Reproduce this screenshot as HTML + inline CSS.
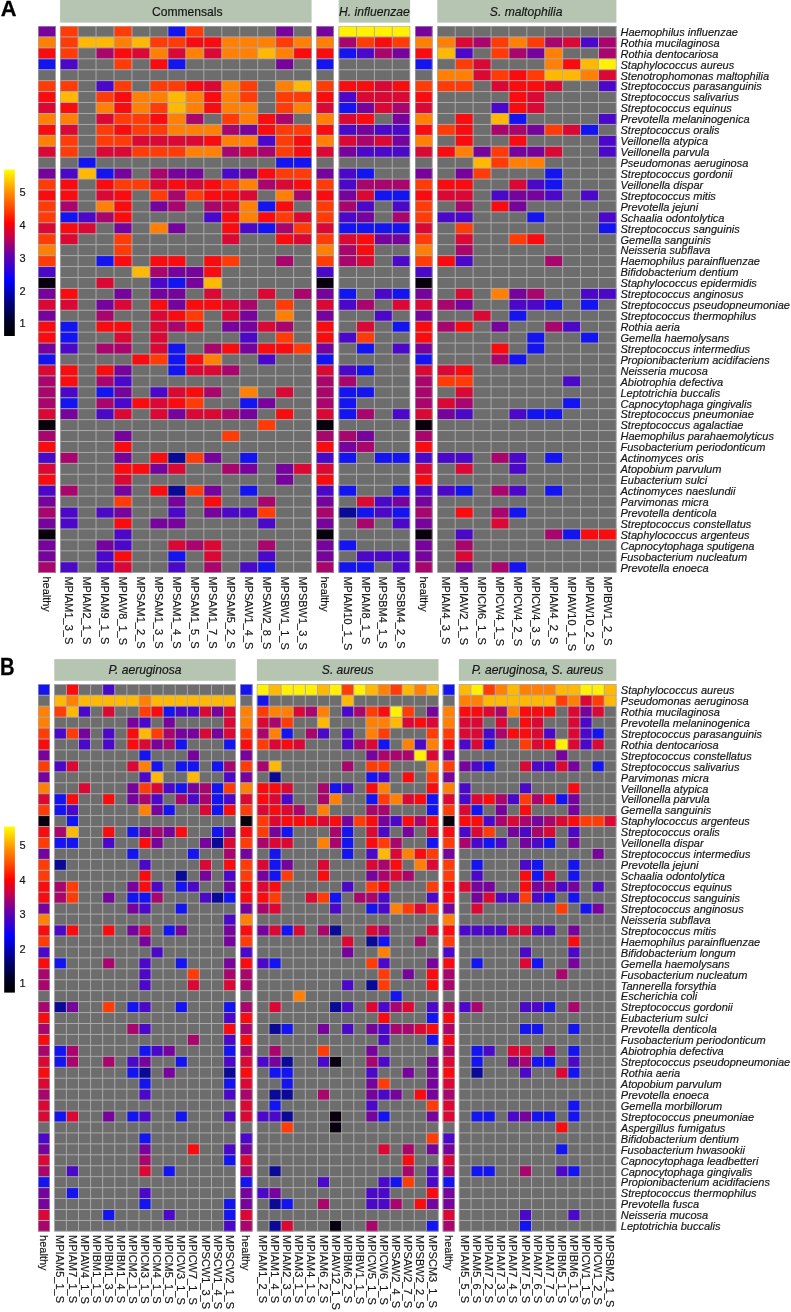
<!DOCTYPE html>
<html><head><meta charset="utf-8"><style>
html,body{margin:0;padding:0;background:#fff;}
svg{display:block;filter:blur(0.3px);}
text{font-family:"Liberation Sans",sans-serif;fill:#161616;stroke:#161616;stroke-width:0.18px;}
.rl{font-size:11px;font-style:italic;}
.cl{font-size:11px;}
.hd{font-size:12.1px;}
.it{font-style:italic;}
.cb{font-size:11px;}
.pl{font-size:22.5px;font-weight:bold;fill:#000;stroke:#000;stroke-width:0.3px;}
.K{fill:#08000c}.N{fill:#0a0a96}.B{fill:#1414f0}.V{fill:#4c08c8}.P{fill:#76049c}.M{fill:#a8066c}.C{fill:#da0834}.R{fill:#f80c10}.E{fill:#ff3c08}.O{fill:#ff8004}.A{fill:#ffb804}.Y{fill:#fff004}
.gl{stroke:#b0b0b0;stroke-width:0.9;}
.gb{fill:none;stroke:#b0b0b0;stroke-width:0.6;}
</style></head><body>
<svg width="791" height="1312" viewBox="0 0 791 1312">
<defs><linearGradient id="cb" x1="0" y1="1" x2="0" y2="0">
<stop offset="0" stop-color="#000000"/>
<stop offset="0.08" stop-color="#000020"/>
<stop offset="0.22" stop-color="#000090"/>
<stop offset="0.335" stop-color="#0000ff"/>
<stop offset="0.50" stop-color="#7000a0"/>
<stop offset="0.59" stop-color="#c00050"/>
<stop offset="0.68" stop-color="#ff0000"/>
<stop offset="0.78" stop-color="#ff5000"/>
<stop offset="0.865" stop-color="#ff9000"/>
<stop offset="1" stop-color="#ffff00"/>
</linearGradient></defs>
<rect x="38.00" y="26.00" width="17.70" height="546.70" fill="#6d6d6d"/>
<rect x="38.0" y="26.0" width="17.7" height="10.9" class="P"/>
<rect x="38.0" y="36.9" width="17.7" height="10.9" class="O"/>
<rect x="38.0" y="47.9" width="17.7" height="10.9" class="R"/>
<rect x="38.0" y="58.8" width="17.7" height="10.9" class="B"/>
<rect x="38.0" y="80.7" width="17.7" height="10.9" class="E"/>
<rect x="38.0" y="91.6" width="17.7" height="10.9" class="R"/>
<rect x="38.0" y="102.5" width="17.7" height="10.9" class="C"/>
<rect x="38.0" y="113.5" width="17.7" height="10.9" class="O"/>
<rect x="38.0" y="124.4" width="17.7" height="10.9" class="R"/>
<rect x="38.0" y="135.3" width="17.7" height="10.9" class="O"/>
<rect x="38.0" y="146.3" width="17.7" height="10.9" class="C"/>
<rect x="38.0" y="168.1" width="17.7" height="10.9" class="P"/>
<rect x="38.0" y="179.1" width="17.7" height="10.9" class="E"/>
<rect x="38.0" y="190.0" width="17.7" height="10.9" class="R"/>
<rect x="38.0" y="200.9" width="17.7" height="10.9" class="E"/>
<rect x="38.0" y="211.9" width="17.7" height="10.9" class="E"/>
<rect x="38.0" y="222.8" width="17.7" height="10.9" class="C"/>
<rect x="38.0" y="233.7" width="17.7" height="10.9" class="E"/>
<rect x="38.0" y="244.7" width="17.7" height="10.9" class="O"/>
<rect x="38.0" y="255.6" width="17.7" height="10.9" class="E"/>
<rect x="38.0" y="266.5" width="17.7" height="10.9" class="V"/>
<rect x="38.0" y="277.5" width="17.7" height="10.9" class="K"/>
<rect x="38.0" y="288.4" width="17.7" height="10.9" class="P"/>
<rect x="38.0" y="299.4" width="17.7" height="10.9" class="C"/>
<rect x="38.0" y="310.3" width="17.7" height="10.9" class="P"/>
<rect x="38.0" y="321.2" width="17.7" height="10.9" class="R"/>
<rect x="38.0" y="332.2" width="17.7" height="10.9" class="R"/>
<rect x="38.0" y="343.1" width="17.7" height="10.9" class="P"/>
<rect x="38.0" y="354.0" width="17.7" height="10.9" class="B"/>
<rect x="38.0" y="365.0" width="17.7" height="10.9" class="C"/>
<rect x="38.0" y="375.9" width="17.7" height="10.9" class="M"/>
<rect x="38.0" y="386.8" width="17.7" height="10.9" class="M"/>
<rect x="38.0" y="397.8" width="17.7" height="10.9" class="M"/>
<rect x="38.0" y="408.7" width="17.7" height="10.9" class="C"/>
<rect x="38.0" y="419.6" width="17.7" height="10.9" class="K"/>
<rect x="38.0" y="430.6" width="17.7" height="10.9" class="M"/>
<rect x="38.0" y="441.5" width="17.7" height="10.9" class="R"/>
<rect x="38.0" y="452.4" width="17.7" height="10.9" class="V"/>
<rect x="38.0" y="463.4" width="17.7" height="10.9" class="C"/>
<rect x="38.0" y="474.3" width="17.7" height="10.9" class="R"/>
<rect x="38.0" y="485.2" width="17.7" height="10.9" class="V"/>
<rect x="38.0" y="496.2" width="17.7" height="10.9" class="P"/>
<rect x="38.0" y="507.1" width="17.7" height="10.9" class="M"/>
<rect x="38.0" y="518.0" width="17.7" height="10.9" class="P"/>
<rect x="38.0" y="529.0" width="17.7" height="10.9" class="K"/>
<rect x="38.0" y="539.9" width="17.7" height="10.9" class="P"/>
<rect x="38.0" y="550.8" width="17.7" height="10.9" class="P"/>
<rect x="38.0" y="561.8" width="17.7" height="10.9" class="M"/>
<line x1="38.00" y1="36.93" x2="55.70" y2="36.93" class="gl"/>
<line x1="38.00" y1="47.87" x2="55.70" y2="47.87" class="gl"/>
<line x1="38.00" y1="58.80" x2="55.70" y2="58.80" class="gl"/>
<line x1="38.00" y1="69.74" x2="55.70" y2="69.74" class="gl"/>
<line x1="38.00" y1="80.67" x2="55.70" y2="80.67" class="gl"/>
<line x1="38.00" y1="91.60" x2="55.70" y2="91.60" class="gl"/>
<line x1="38.00" y1="102.54" x2="55.70" y2="102.54" class="gl"/>
<line x1="38.00" y1="113.47" x2="55.70" y2="113.47" class="gl"/>
<line x1="38.00" y1="124.41" x2="55.70" y2="124.41" class="gl"/>
<line x1="38.00" y1="135.34" x2="55.70" y2="135.34" class="gl"/>
<line x1="38.00" y1="146.27" x2="55.70" y2="146.27" class="gl"/>
<line x1="38.00" y1="157.21" x2="55.70" y2="157.21" class="gl"/>
<line x1="38.00" y1="168.14" x2="55.70" y2="168.14" class="gl"/>
<line x1="38.00" y1="179.08" x2="55.70" y2="179.08" class="gl"/>
<line x1="38.00" y1="190.01" x2="55.70" y2="190.01" class="gl"/>
<line x1="38.00" y1="200.94" x2="55.70" y2="200.94" class="gl"/>
<line x1="38.00" y1="211.88" x2="55.70" y2="211.88" class="gl"/>
<line x1="38.00" y1="222.81" x2="55.70" y2="222.81" class="gl"/>
<line x1="38.00" y1="233.75" x2="55.70" y2="233.75" class="gl"/>
<line x1="38.00" y1="244.68" x2="55.70" y2="244.68" class="gl"/>
<line x1="38.00" y1="255.61" x2="55.70" y2="255.61" class="gl"/>
<line x1="38.00" y1="266.55" x2="55.70" y2="266.55" class="gl"/>
<line x1="38.00" y1="277.48" x2="55.70" y2="277.48" class="gl"/>
<line x1="38.00" y1="288.42" x2="55.70" y2="288.42" class="gl"/>
<line x1="38.00" y1="299.35" x2="55.70" y2="299.35" class="gl"/>
<line x1="38.00" y1="310.28" x2="55.70" y2="310.28" class="gl"/>
<line x1="38.00" y1="321.22" x2="55.70" y2="321.22" class="gl"/>
<line x1="38.00" y1="332.15" x2="55.70" y2="332.15" class="gl"/>
<line x1="38.00" y1="343.09" x2="55.70" y2="343.09" class="gl"/>
<line x1="38.00" y1="354.02" x2="55.70" y2="354.02" class="gl"/>
<line x1="38.00" y1="364.95" x2="55.70" y2="364.95" class="gl"/>
<line x1="38.00" y1="375.89" x2="55.70" y2="375.89" class="gl"/>
<line x1="38.00" y1="386.82" x2="55.70" y2="386.82" class="gl"/>
<line x1="38.00" y1="397.76" x2="55.70" y2="397.76" class="gl"/>
<line x1="38.00" y1="408.69" x2="55.70" y2="408.69" class="gl"/>
<line x1="38.00" y1="419.62" x2="55.70" y2="419.62" class="gl"/>
<line x1="38.00" y1="430.56" x2="55.70" y2="430.56" class="gl"/>
<line x1="38.00" y1="441.49" x2="55.70" y2="441.49" class="gl"/>
<line x1="38.00" y1="452.43" x2="55.70" y2="452.43" class="gl"/>
<line x1="38.00" y1="463.36" x2="55.70" y2="463.36" class="gl"/>
<line x1="38.00" y1="474.29" x2="55.70" y2="474.29" class="gl"/>
<line x1="38.00" y1="485.23" x2="55.70" y2="485.23" class="gl"/>
<line x1="38.00" y1="496.16" x2="55.70" y2="496.16" class="gl"/>
<line x1="38.00" y1="507.10" x2="55.70" y2="507.10" class="gl"/>
<line x1="38.00" y1="518.03" x2="55.70" y2="518.03" class="gl"/>
<line x1="38.00" y1="528.96" x2="55.70" y2="528.96" class="gl"/>
<line x1="38.00" y1="539.90" x2="55.70" y2="539.90" class="gl"/>
<line x1="38.00" y1="550.83" x2="55.70" y2="550.83" class="gl"/>
<line x1="38.00" y1="561.77" x2="55.70" y2="561.77" class="gl"/>
<rect x="38.30" y="26.30" width="17.10" height="546.10" class="gb"/>
<text class="cl" transform="translate(42.95,576.40) rotate(90)">healthy</text>
<rect x="60.10" y="26.00" width="251.50" height="546.70" fill="#6d6d6d"/>
<rect x="60.1" y="26.0" width="18.0" height="10.9" class="E"/>
<rect x="114.0" y="26.0" width="18.0" height="10.9" class="E"/>
<rect x="167.9" y="26.0" width="18.0" height="10.9" class="B"/>
<rect x="185.8" y="26.0" width="18.0" height="10.9" class="E"/>
<rect x="275.7" y="26.0" width="18.0" height="10.9" class="P"/>
<rect x="60.1" y="36.9" width="18.0" height="10.9" class="E"/>
<rect x="78.1" y="36.9" width="18.0" height="10.9" class="A"/>
<rect x="96.0" y="36.9" width="18.0" height="10.9" class="A"/>
<rect x="114.0" y="36.9" width="18.0" height="10.9" class="O"/>
<rect x="132.0" y="36.9" width="18.0" height="10.9" class="A"/>
<rect x="149.9" y="36.9" width="18.0" height="10.9" class="E"/>
<rect x="167.9" y="36.9" width="18.0" height="10.9" class="E"/>
<rect x="185.8" y="36.9" width="18.0" height="10.9" class="R"/>
<rect x="203.8" y="36.9" width="18.0" height="10.9" class="R"/>
<rect x="221.8" y="36.9" width="18.0" height="10.9" class="O"/>
<rect x="239.7" y="36.9" width="18.0" height="10.9" class="O"/>
<rect x="257.7" y="36.9" width="18.0" height="10.9" class="O"/>
<rect x="275.7" y="36.9" width="18.0" height="10.9" class="E"/>
<rect x="293.6" y="36.9" width="18.0" height="10.9" class="O"/>
<rect x="60.1" y="47.9" width="18.0" height="10.9" class="E"/>
<rect x="96.0" y="47.9" width="18.0" height="10.9" class="M"/>
<rect x="114.0" y="47.9" width="18.0" height="10.9" class="R"/>
<rect x="132.0" y="47.9" width="18.0" height="10.9" class="C"/>
<rect x="149.9" y="47.9" width="18.0" height="10.9" class="O"/>
<rect x="167.9" y="47.9" width="18.0" height="10.9" class="C"/>
<rect x="185.8" y="47.9" width="18.0" height="10.9" class="O"/>
<rect x="203.8" y="47.9" width="18.0" height="10.9" class="C"/>
<rect x="221.8" y="47.9" width="18.0" height="10.9" class="O"/>
<rect x="239.7" y="47.9" width="18.0" height="10.9" class="O"/>
<rect x="257.7" y="47.9" width="18.0" height="10.9" class="A"/>
<rect x="275.7" y="47.9" width="18.0" height="10.9" class="O"/>
<rect x="293.6" y="47.9" width="18.0" height="10.9" class="R"/>
<rect x="60.1" y="58.8" width="18.0" height="10.9" class="V"/>
<rect x="114.0" y="58.8" width="18.0" height="10.9" class="E"/>
<rect x="149.9" y="58.8" width="18.0" height="10.9" class="R"/>
<rect x="167.9" y="58.8" width="18.0" height="10.9" class="B"/>
<rect x="275.7" y="58.8" width="18.0" height="10.9" class="P"/>
<rect x="60.1" y="80.7" width="18.0" height="10.9" class="E"/>
<rect x="96.0" y="80.7" width="18.0" height="10.9" class="V"/>
<rect x="114.0" y="80.7" width="18.0" height="10.9" class="E"/>
<rect x="149.9" y="80.7" width="18.0" height="10.9" class="E"/>
<rect x="167.9" y="80.7" width="18.0" height="10.9" class="E"/>
<rect x="185.8" y="80.7" width="18.0" height="10.9" class="R"/>
<rect x="203.8" y="80.7" width="18.0" height="10.9" class="C"/>
<rect x="221.8" y="80.7" width="18.0" height="10.9" class="O"/>
<rect x="239.7" y="80.7" width="18.0" height="10.9" class="E"/>
<rect x="275.7" y="80.7" width="18.0" height="10.9" class="O"/>
<rect x="293.6" y="80.7" width="18.0" height="10.9" class="A"/>
<rect x="60.1" y="91.6" width="18.0" height="10.9" class="A"/>
<rect x="96.0" y="91.6" width="18.0" height="10.9" class="E"/>
<rect x="114.0" y="91.6" width="18.0" height="10.9" class="R"/>
<rect x="132.0" y="91.6" width="18.0" height="10.9" class="O"/>
<rect x="149.9" y="91.6" width="18.0" height="10.9" class="O"/>
<rect x="167.9" y="91.6" width="18.0" height="10.9" class="A"/>
<rect x="185.8" y="91.6" width="18.0" height="10.9" class="O"/>
<rect x="203.8" y="91.6" width="18.0" height="10.9" class="R"/>
<rect x="221.8" y="91.6" width="18.0" height="10.9" class="O"/>
<rect x="239.7" y="91.6" width="18.0" height="10.9" class="E"/>
<rect x="275.7" y="91.6" width="18.0" height="10.9" class="E"/>
<rect x="293.6" y="91.6" width="18.0" height="10.9" class="E"/>
<rect x="60.1" y="102.5" width="18.0" height="10.9" class="R"/>
<rect x="96.0" y="102.5" width="18.0" height="10.9" class="O"/>
<rect x="114.0" y="102.5" width="18.0" height="10.9" class="R"/>
<rect x="132.0" y="102.5" width="18.0" height="10.9" class="O"/>
<rect x="149.9" y="102.5" width="18.0" height="10.9" class="E"/>
<rect x="167.9" y="102.5" width="18.0" height="10.9" class="A"/>
<rect x="185.8" y="102.5" width="18.0" height="10.9" class="O"/>
<rect x="203.8" y="102.5" width="18.0" height="10.9" class="R"/>
<rect x="221.8" y="102.5" width="18.0" height="10.9" class="O"/>
<rect x="239.7" y="102.5" width="18.0" height="10.9" class="O"/>
<rect x="275.7" y="102.5" width="18.0" height="10.9" class="E"/>
<rect x="293.6" y="102.5" width="18.0" height="10.9" class="O"/>
<rect x="60.1" y="113.5" width="18.0" height="10.9" class="O"/>
<rect x="96.0" y="113.5" width="18.0" height="10.9" class="C"/>
<rect x="114.0" y="113.5" width="18.0" height="10.9" class="E"/>
<rect x="132.0" y="113.5" width="18.0" height="10.9" class="E"/>
<rect x="149.9" y="113.5" width="18.0" height="10.9" class="R"/>
<rect x="167.9" y="113.5" width="18.0" height="10.9" class="O"/>
<rect x="185.8" y="113.5" width="18.0" height="10.9" class="M"/>
<rect x="221.8" y="113.5" width="18.0" height="10.9" class="E"/>
<rect x="239.7" y="113.5" width="18.0" height="10.9" class="O"/>
<rect x="257.7" y="113.5" width="18.0" height="10.9" class="R"/>
<rect x="275.7" y="113.5" width="18.0" height="10.9" class="M"/>
<rect x="60.1" y="124.4" width="18.0" height="10.9" class="C"/>
<rect x="96.0" y="124.4" width="18.0" height="10.9" class="E"/>
<rect x="114.0" y="124.4" width="18.0" height="10.9" class="R"/>
<rect x="132.0" y="124.4" width="18.0" height="10.9" class="E"/>
<rect x="149.9" y="124.4" width="18.0" height="10.9" class="E"/>
<rect x="167.9" y="124.4" width="18.0" height="10.9" class="O"/>
<rect x="185.8" y="124.4" width="18.0" height="10.9" class="O"/>
<rect x="203.8" y="124.4" width="18.0" height="10.9" class="O"/>
<rect x="221.8" y="124.4" width="18.0" height="10.9" class="M"/>
<rect x="239.7" y="124.4" width="18.0" height="10.9" class="P"/>
<rect x="257.7" y="124.4" width="18.0" height="10.9" class="R"/>
<rect x="275.7" y="124.4" width="18.0" height="10.9" class="E"/>
<rect x="293.6" y="124.4" width="18.0" height="10.9" class="E"/>
<rect x="60.1" y="135.3" width="18.0" height="10.9" class="E"/>
<rect x="96.0" y="135.3" width="18.0" height="10.9" class="E"/>
<rect x="114.0" y="135.3" width="18.0" height="10.9" class="E"/>
<rect x="132.0" y="135.3" width="18.0" height="10.9" class="C"/>
<rect x="149.9" y="135.3" width="18.0" height="10.9" class="C"/>
<rect x="167.9" y="135.3" width="18.0" height="10.9" class="C"/>
<rect x="185.8" y="135.3" width="18.0" height="10.9" class="C"/>
<rect x="203.8" y="135.3" width="18.0" height="10.9" class="R"/>
<rect x="221.8" y="135.3" width="18.0" height="10.9" class="O"/>
<rect x="239.7" y="135.3" width="18.0" height="10.9" class="O"/>
<rect x="257.7" y="135.3" width="18.0" height="10.9" class="V"/>
<rect x="275.7" y="135.3" width="18.0" height="10.9" class="E"/>
<rect x="293.6" y="135.3" width="18.0" height="10.9" class="R"/>
<rect x="60.1" y="146.3" width="18.0" height="10.9" class="E"/>
<rect x="96.0" y="146.3" width="18.0" height="10.9" class="C"/>
<rect x="114.0" y="146.3" width="18.0" height="10.9" class="C"/>
<rect x="132.0" y="146.3" width="18.0" height="10.9" class="E"/>
<rect x="149.9" y="146.3" width="18.0" height="10.9" class="E"/>
<rect x="167.9" y="146.3" width="18.0" height="10.9" class="E"/>
<rect x="185.8" y="146.3" width="18.0" height="10.9" class="O"/>
<rect x="203.8" y="146.3" width="18.0" height="10.9" class="O"/>
<rect x="221.8" y="146.3" width="18.0" height="10.9" class="M"/>
<rect x="239.7" y="146.3" width="18.0" height="10.9" class="C"/>
<rect x="257.7" y="146.3" width="18.0" height="10.9" class="M"/>
<rect x="275.7" y="146.3" width="18.0" height="10.9" class="E"/>
<rect x="293.6" y="146.3" width="18.0" height="10.9" class="R"/>
<rect x="78.1" y="157.2" width="18.0" height="10.9" class="B"/>
<rect x="275.7" y="157.2" width="18.0" height="10.9" class="B"/>
<rect x="293.6" y="157.2" width="18.0" height="10.9" class="B"/>
<rect x="60.1" y="168.1" width="18.0" height="10.9" class="V"/>
<rect x="78.1" y="168.1" width="18.0" height="10.9" class="A"/>
<rect x="96.0" y="168.1" width="18.0" height="10.9" class="B"/>
<rect x="114.0" y="168.1" width="18.0" height="10.9" class="P"/>
<rect x="149.9" y="168.1" width="18.0" height="10.9" class="M"/>
<rect x="167.9" y="168.1" width="18.0" height="10.9" class="P"/>
<rect x="185.8" y="168.1" width="18.0" height="10.9" class="P"/>
<rect x="221.8" y="168.1" width="18.0" height="10.9" class="V"/>
<rect x="239.7" y="168.1" width="18.0" height="10.9" class="P"/>
<rect x="257.7" y="168.1" width="18.0" height="10.9" class="R"/>
<rect x="275.7" y="168.1" width="18.0" height="10.9" class="E"/>
<rect x="293.6" y="168.1" width="18.0" height="10.9" class="E"/>
<rect x="60.1" y="179.1" width="18.0" height="10.9" class="R"/>
<rect x="96.0" y="179.1" width="18.0" height="10.9" class="R"/>
<rect x="114.0" y="179.1" width="18.0" height="10.9" class="E"/>
<rect x="132.0" y="179.1" width="18.0" height="10.9" class="E"/>
<rect x="149.9" y="179.1" width="18.0" height="10.9" class="C"/>
<rect x="167.9" y="179.1" width="18.0" height="10.9" class="R"/>
<rect x="185.8" y="179.1" width="18.0" height="10.9" class="C"/>
<rect x="203.8" y="179.1" width="18.0" height="10.9" class="R"/>
<rect x="221.8" y="179.1" width="18.0" height="10.9" class="E"/>
<rect x="239.7" y="179.1" width="18.0" height="10.9" class="O"/>
<rect x="257.7" y="179.1" width="18.0" height="10.9" class="M"/>
<rect x="275.7" y="179.1" width="18.0" height="10.9" class="C"/>
<rect x="293.6" y="179.1" width="18.0" height="10.9" class="R"/>
<rect x="60.1" y="190.0" width="18.0" height="10.9" class="R"/>
<rect x="96.0" y="190.0" width="18.0" height="10.9" class="C"/>
<rect x="114.0" y="190.0" width="18.0" height="10.9" class="R"/>
<rect x="149.9" y="190.0" width="18.0" height="10.9" class="E"/>
<rect x="167.9" y="190.0" width="18.0" height="10.9" class="M"/>
<rect x="185.8" y="190.0" width="18.0" height="10.9" class="E"/>
<rect x="203.8" y="190.0" width="18.0" height="10.9" class="R"/>
<rect x="221.8" y="190.0" width="18.0" height="10.9" class="R"/>
<rect x="239.7" y="190.0" width="18.0" height="10.9" class="C"/>
<rect x="275.7" y="190.0" width="18.0" height="10.9" class="O"/>
<rect x="293.6" y="190.0" width="18.0" height="10.9" class="M"/>
<rect x="60.1" y="200.9" width="18.0" height="10.9" class="M"/>
<rect x="96.0" y="200.9" width="18.0" height="10.9" class="O"/>
<rect x="114.0" y="200.9" width="18.0" height="10.9" class="R"/>
<rect x="149.9" y="200.9" width="18.0" height="10.9" class="P"/>
<rect x="167.9" y="200.9" width="18.0" height="10.9" class="M"/>
<rect x="203.8" y="200.9" width="18.0" height="10.9" class="M"/>
<rect x="221.8" y="200.9" width="18.0" height="10.9" class="C"/>
<rect x="239.7" y="200.9" width="18.0" height="10.9" class="O"/>
<rect x="257.7" y="200.9" width="18.0" height="10.9" class="B"/>
<rect x="275.7" y="200.9" width="18.0" height="10.9" class="R"/>
<rect x="60.1" y="211.9" width="18.0" height="10.9" class="B"/>
<rect x="78.1" y="211.9" width="18.0" height="10.9" class="V"/>
<rect x="96.0" y="211.9" width="18.0" height="10.9" class="M"/>
<rect x="114.0" y="211.9" width="18.0" height="10.9" class="R"/>
<rect x="203.8" y="211.9" width="18.0" height="10.9" class="V"/>
<rect x="221.8" y="211.9" width="18.0" height="10.9" class="R"/>
<rect x="239.7" y="211.9" width="18.0" height="10.9" class="O"/>
<rect x="257.7" y="211.9" width="18.0" height="10.9" class="R"/>
<rect x="275.7" y="211.9" width="18.0" height="10.9" class="E"/>
<rect x="293.6" y="211.9" width="18.0" height="10.9" class="C"/>
<rect x="60.1" y="222.8" width="18.0" height="10.9" class="R"/>
<rect x="78.1" y="222.8" width="18.0" height="10.9" class="C"/>
<rect x="114.0" y="222.8" width="18.0" height="10.9" class="P"/>
<rect x="149.9" y="222.8" width="18.0" height="10.9" class="O"/>
<rect x="167.9" y="222.8" width="18.0" height="10.9" class="P"/>
<rect x="221.8" y="222.8" width="18.0" height="10.9" class="R"/>
<rect x="239.7" y="222.8" width="18.0" height="10.9" class="V"/>
<rect x="257.7" y="222.8" width="18.0" height="10.9" class="B"/>
<rect x="275.7" y="222.8" width="18.0" height="10.9" class="M"/>
<rect x="293.6" y="222.8" width="18.0" height="10.9" class="E"/>
<rect x="60.1" y="233.7" width="18.0" height="10.9" class="C"/>
<rect x="114.0" y="233.7" width="18.0" height="10.9" class="E"/>
<rect x="221.8" y="233.7" width="18.0" height="10.9" class="C"/>
<rect x="275.7" y="233.7" width="18.0" height="10.9" class="R"/>
<rect x="293.6" y="233.7" width="18.0" height="10.9" class="C"/>
<rect x="114.0" y="244.7" width="18.0" height="10.9" class="E"/>
<rect x="96.0" y="255.6" width="18.0" height="10.9" class="B"/>
<rect x="114.0" y="255.6" width="18.0" height="10.9" class="R"/>
<rect x="149.9" y="255.6" width="18.0" height="10.9" class="R"/>
<rect x="167.9" y="255.6" width="18.0" height="10.9" class="R"/>
<rect x="203.8" y="255.6" width="18.0" height="10.9" class="R"/>
<rect x="221.8" y="255.6" width="18.0" height="10.9" class="E"/>
<rect x="275.7" y="255.6" width="18.0" height="10.9" class="M"/>
<rect x="132.0" y="266.5" width="18.0" height="10.9" class="A"/>
<rect x="149.9" y="266.5" width="18.0" height="10.9" class="M"/>
<rect x="167.9" y="266.5" width="18.0" height="10.9" class="P"/>
<rect x="185.8" y="266.5" width="18.0" height="10.9" class="P"/>
<rect x="203.8" y="266.5" width="18.0" height="10.9" class="R"/>
<rect x="96.0" y="277.5" width="18.0" height="10.9" class="C"/>
<rect x="149.9" y="277.5" width="18.0" height="10.9" class="V"/>
<rect x="167.9" y="277.5" width="18.0" height="10.9" class="B"/>
<rect x="185.8" y="277.5" width="18.0" height="10.9" class="P"/>
<rect x="203.8" y="277.5" width="18.0" height="10.9" class="A"/>
<rect x="60.1" y="288.4" width="18.0" height="10.9" class="R"/>
<rect x="114.0" y="288.4" width="18.0" height="10.9" class="P"/>
<rect x="149.9" y="288.4" width="18.0" height="10.9" class="P"/>
<rect x="167.9" y="288.4" width="18.0" height="10.9" class="P"/>
<rect x="203.8" y="288.4" width="18.0" height="10.9" class="C"/>
<rect x="257.7" y="288.4" width="18.0" height="10.9" class="C"/>
<rect x="293.6" y="288.4" width="18.0" height="10.9" class="M"/>
<rect x="60.1" y="299.4" width="18.0" height="10.9" class="C"/>
<rect x="96.0" y="299.4" width="18.0" height="10.9" class="P"/>
<rect x="114.0" y="299.4" width="18.0" height="10.9" class="C"/>
<rect x="149.9" y="299.4" width="18.0" height="10.9" class="R"/>
<rect x="167.9" y="299.4" width="18.0" height="10.9" class="P"/>
<rect x="185.8" y="299.4" width="18.0" height="10.9" class="R"/>
<rect x="203.8" y="299.4" width="18.0" height="10.9" class="R"/>
<rect x="221.8" y="299.4" width="18.0" height="10.9" class="C"/>
<rect x="239.7" y="299.4" width="18.0" height="10.9" class="M"/>
<rect x="275.7" y="299.4" width="18.0" height="10.9" class="E"/>
<rect x="96.0" y="310.3" width="18.0" height="10.9" class="M"/>
<rect x="149.9" y="310.3" width="18.0" height="10.9" class="C"/>
<rect x="167.9" y="310.3" width="18.0" height="10.9" class="R"/>
<rect x="185.8" y="310.3" width="18.0" height="10.9" class="E"/>
<rect x="221.8" y="310.3" width="18.0" height="10.9" class="C"/>
<rect x="239.7" y="310.3" width="18.0" height="10.9" class="P"/>
<rect x="275.7" y="310.3" width="18.0" height="10.9" class="O"/>
<rect x="60.1" y="321.2" width="18.0" height="10.9" class="B"/>
<rect x="96.0" y="321.2" width="18.0" height="10.9" class="R"/>
<rect x="114.0" y="321.2" width="18.0" height="10.9" class="R"/>
<rect x="149.9" y="321.2" width="18.0" height="10.9" class="C"/>
<rect x="167.9" y="321.2" width="18.0" height="10.9" class="M"/>
<rect x="185.8" y="321.2" width="18.0" height="10.9" class="R"/>
<rect x="221.8" y="321.2" width="18.0" height="10.9" class="P"/>
<rect x="239.7" y="321.2" width="18.0" height="10.9" class="P"/>
<rect x="257.7" y="321.2" width="18.0" height="10.9" class="C"/>
<rect x="275.7" y="321.2" width="18.0" height="10.9" class="M"/>
<rect x="60.1" y="332.2" width="18.0" height="10.9" class="B"/>
<rect x="114.0" y="332.2" width="18.0" height="10.9" class="C"/>
<rect x="149.9" y="332.2" width="18.0" height="10.9" class="C"/>
<rect x="239.7" y="332.2" width="18.0" height="10.9" class="V"/>
<rect x="275.7" y="332.2" width="18.0" height="10.9" class="E"/>
<rect x="60.1" y="343.1" width="18.0" height="10.9" class="V"/>
<rect x="96.0" y="343.1" width="18.0" height="10.9" class="M"/>
<rect x="114.0" y="343.1" width="18.0" height="10.9" class="M"/>
<rect x="149.9" y="343.1" width="18.0" height="10.9" class="C"/>
<rect x="167.9" y="343.1" width="18.0" height="10.9" class="B"/>
<rect x="203.8" y="343.1" width="18.0" height="10.9" class="M"/>
<rect x="221.8" y="343.1" width="18.0" height="10.9" class="R"/>
<rect x="239.7" y="343.1" width="18.0" height="10.9" class="P"/>
<rect x="257.7" y="343.1" width="18.0" height="10.9" class="R"/>
<rect x="275.7" y="343.1" width="18.0" height="10.9" class="R"/>
<rect x="293.6" y="343.1" width="18.0" height="10.9" class="E"/>
<rect x="132.0" y="354.0" width="18.0" height="10.9" class="R"/>
<rect x="149.9" y="354.0" width="18.0" height="10.9" class="E"/>
<rect x="167.9" y="354.0" width="18.0" height="10.9" class="B"/>
<rect x="185.8" y="354.0" width="18.0" height="10.9" class="R"/>
<rect x="203.8" y="354.0" width="18.0" height="10.9" class="O"/>
<rect x="257.7" y="354.0" width="18.0" height="10.9" class="V"/>
<rect x="60.1" y="365.0" width="18.0" height="10.9" class="R"/>
<rect x="96.0" y="365.0" width="18.0" height="10.9" class="R"/>
<rect x="114.0" y="365.0" width="18.0" height="10.9" class="P"/>
<rect x="167.9" y="365.0" width="18.0" height="10.9" class="B"/>
<rect x="185.8" y="365.0" width="18.0" height="10.9" class="C"/>
<rect x="203.8" y="365.0" width="18.0" height="10.9" class="C"/>
<rect x="221.8" y="365.0" width="18.0" height="10.9" class="M"/>
<rect x="60.1" y="375.9" width="18.0" height="10.9" class="R"/>
<rect x="96.0" y="375.9" width="18.0" height="10.9" class="M"/>
<rect x="114.0" y="375.9" width="18.0" height="10.9" class="V"/>
<rect x="60.1" y="386.8" width="18.0" height="10.9" class="V"/>
<rect x="96.0" y="386.8" width="18.0" height="10.9" class="B"/>
<rect x="114.0" y="386.8" width="18.0" height="10.9" class="P"/>
<rect x="149.9" y="386.8" width="18.0" height="10.9" class="V"/>
<rect x="167.9" y="386.8" width="18.0" height="10.9" class="C"/>
<rect x="185.8" y="386.8" width="18.0" height="10.9" class="R"/>
<rect x="203.8" y="386.8" width="18.0" height="10.9" class="M"/>
<rect x="239.7" y="386.8" width="18.0" height="10.9" class="O"/>
<rect x="275.7" y="386.8" width="18.0" height="10.9" class="C"/>
<rect x="60.1" y="397.8" width="18.0" height="10.9" class="B"/>
<rect x="96.0" y="397.8" width="18.0" height="10.9" class="M"/>
<rect x="114.0" y="397.8" width="18.0" height="10.9" class="V"/>
<rect x="132.0" y="397.8" width="18.0" height="10.9" class="R"/>
<rect x="149.9" y="397.8" width="18.0" height="10.9" class="C"/>
<rect x="167.9" y="397.8" width="18.0" height="10.9" class="R"/>
<rect x="185.8" y="397.8" width="18.0" height="10.9" class="E"/>
<rect x="239.7" y="397.8" width="18.0" height="10.9" class="B"/>
<rect x="257.7" y="397.8" width="18.0" height="10.9" class="P"/>
<rect x="60.1" y="408.7" width="18.0" height="10.9" class="P"/>
<rect x="96.0" y="408.7" width="18.0" height="10.9" class="V"/>
<rect x="114.0" y="408.7" width="18.0" height="10.9" class="C"/>
<rect x="149.9" y="408.7" width="18.0" height="10.9" class="C"/>
<rect x="167.9" y="408.7" width="18.0" height="10.9" class="P"/>
<rect x="185.8" y="408.7" width="18.0" height="10.9" class="C"/>
<rect x="203.8" y="408.7" width="18.0" height="10.9" class="C"/>
<rect x="221.8" y="408.7" width="18.0" height="10.9" class="M"/>
<rect x="239.7" y="408.7" width="18.0" height="10.9" class="P"/>
<rect x="275.7" y="408.7" width="18.0" height="10.9" class="R"/>
<rect x="257.7" y="419.6" width="18.0" height="10.9" class="E"/>
<rect x="114.0" y="430.6" width="18.0" height="10.9" class="P"/>
<rect x="221.8" y="430.6" width="18.0" height="10.9" class="E"/>
<rect x="114.0" y="441.5" width="18.0" height="10.9" class="R"/>
<rect x="60.1" y="452.4" width="18.0" height="10.9" class="M"/>
<rect x="114.0" y="452.4" width="18.0" height="10.9" class="P"/>
<rect x="149.9" y="452.4" width="18.0" height="10.9" class="R"/>
<rect x="167.9" y="452.4" width="18.0" height="10.9" class="N"/>
<rect x="185.8" y="452.4" width="18.0" height="10.9" class="E"/>
<rect x="203.8" y="452.4" width="18.0" height="10.9" class="P"/>
<rect x="239.7" y="452.4" width="18.0" height="10.9" class="B"/>
<rect x="114.0" y="463.4" width="18.0" height="10.9" class="R"/>
<rect x="132.0" y="463.4" width="18.0" height="10.9" class="R"/>
<rect x="149.9" y="463.4" width="18.0" height="10.9" class="P"/>
<rect x="167.9" y="463.4" width="18.0" height="10.9" class="C"/>
<rect x="221.8" y="463.4" width="18.0" height="10.9" class="M"/>
<rect x="239.7" y="463.4" width="18.0" height="10.9" class="P"/>
<rect x="275.7" y="463.4" width="18.0" height="10.9" class="P"/>
<rect x="293.6" y="463.4" width="18.0" height="10.9" class="C"/>
<rect x="114.0" y="474.3" width="18.0" height="10.9" class="C"/>
<rect x="275.7" y="474.3" width="18.0" height="10.9" class="P"/>
<rect x="60.1" y="485.2" width="18.0" height="10.9" class="M"/>
<rect x="114.0" y="485.2" width="18.0" height="10.9" class="P"/>
<rect x="149.9" y="485.2" width="18.0" height="10.9" class="R"/>
<rect x="167.9" y="485.2" width="18.0" height="10.9" class="N"/>
<rect x="185.8" y="485.2" width="18.0" height="10.9" class="E"/>
<rect x="203.8" y="485.2" width="18.0" height="10.9" class="P"/>
<rect x="239.7" y="485.2" width="18.0" height="10.9" class="B"/>
<rect x="114.0" y="496.2" width="18.0" height="10.9" class="E"/>
<rect x="167.9" y="496.2" width="18.0" height="10.9" class="P"/>
<rect x="203.8" y="496.2" width="18.0" height="10.9" class="R"/>
<rect x="257.7" y="496.2" width="18.0" height="10.9" class="M"/>
<rect x="60.1" y="507.1" width="18.0" height="10.9" class="V"/>
<rect x="96.0" y="507.1" width="18.0" height="10.9" class="V"/>
<rect x="114.0" y="507.1" width="18.0" height="10.9" class="P"/>
<rect x="167.9" y="507.1" width="18.0" height="10.9" class="V"/>
<rect x="203.8" y="507.1" width="18.0" height="10.9" class="P"/>
<rect x="221.8" y="507.1" width="18.0" height="10.9" class="V"/>
<rect x="239.7" y="507.1" width="18.0" height="10.9" class="V"/>
<rect x="257.7" y="507.1" width="18.0" height="10.9" class="E"/>
<rect x="60.1" y="518.0" width="18.0" height="10.9" class="V"/>
<rect x="114.0" y="518.0" width="18.0" height="10.9" class="R"/>
<rect x="149.9" y="518.0" width="18.0" height="10.9" class="P"/>
<rect x="167.9" y="518.0" width="18.0" height="10.9" class="P"/>
<rect x="257.7" y="518.0" width="18.0" height="10.9" class="V"/>
<rect x="114.0" y="529.0" width="18.0" height="10.9" class="V"/>
<rect x="96.0" y="539.9" width="18.0" height="10.9" class="P"/>
<rect x="114.0" y="539.9" width="18.0" height="10.9" class="V"/>
<rect x="167.9" y="539.9" width="18.0" height="10.9" class="C"/>
<rect x="185.8" y="539.9" width="18.0" height="10.9" class="M"/>
<rect x="203.8" y="539.9" width="18.0" height="10.9" class="C"/>
<rect x="257.7" y="539.9" width="18.0" height="10.9" class="M"/>
<rect x="96.0" y="550.8" width="18.0" height="10.9" class="V"/>
<rect x="114.0" y="550.8" width="18.0" height="10.9" class="R"/>
<rect x="167.9" y="550.8" width="18.0" height="10.9" class="B"/>
<rect x="203.8" y="550.8" width="18.0" height="10.9" class="C"/>
<rect x="257.7" y="550.8" width="18.0" height="10.9" class="V"/>
<rect x="60.1" y="561.8" width="18.0" height="10.9" class="V"/>
<rect x="96.0" y="561.8" width="18.0" height="10.9" class="V"/>
<rect x="114.0" y="561.8" width="18.0" height="10.9" class="C"/>
<rect x="167.9" y="561.8" width="18.0" height="10.9" class="V"/>
<rect x="203.8" y="561.8" width="18.0" height="10.9" class="M"/>
<rect x="239.7" y="561.8" width="18.0" height="10.9" class="V"/>
<rect x="257.7" y="561.8" width="18.0" height="10.9" class="B"/>
<line x1="60.10" y1="36.93" x2="311.60" y2="36.93" class="gl"/>
<line x1="60.10" y1="47.87" x2="311.60" y2="47.87" class="gl"/>
<line x1="60.10" y1="58.80" x2="311.60" y2="58.80" class="gl"/>
<line x1="60.10" y1="69.74" x2="311.60" y2="69.74" class="gl"/>
<line x1="60.10" y1="80.67" x2="311.60" y2="80.67" class="gl"/>
<line x1="60.10" y1="91.60" x2="311.60" y2="91.60" class="gl"/>
<line x1="60.10" y1="102.54" x2="311.60" y2="102.54" class="gl"/>
<line x1="60.10" y1="113.47" x2="311.60" y2="113.47" class="gl"/>
<line x1="60.10" y1="124.41" x2="311.60" y2="124.41" class="gl"/>
<line x1="60.10" y1="135.34" x2="311.60" y2="135.34" class="gl"/>
<line x1="60.10" y1="146.27" x2="311.60" y2="146.27" class="gl"/>
<line x1="60.10" y1="157.21" x2="311.60" y2="157.21" class="gl"/>
<line x1="60.10" y1="168.14" x2="311.60" y2="168.14" class="gl"/>
<line x1="60.10" y1="179.08" x2="311.60" y2="179.08" class="gl"/>
<line x1="60.10" y1="190.01" x2="311.60" y2="190.01" class="gl"/>
<line x1="60.10" y1="200.94" x2="311.60" y2="200.94" class="gl"/>
<line x1="60.10" y1="211.88" x2="311.60" y2="211.88" class="gl"/>
<line x1="60.10" y1="222.81" x2="311.60" y2="222.81" class="gl"/>
<line x1="60.10" y1="233.75" x2="311.60" y2="233.75" class="gl"/>
<line x1="60.10" y1="244.68" x2="311.60" y2="244.68" class="gl"/>
<line x1="60.10" y1="255.61" x2="311.60" y2="255.61" class="gl"/>
<line x1="60.10" y1="266.55" x2="311.60" y2="266.55" class="gl"/>
<line x1="60.10" y1="277.48" x2="311.60" y2="277.48" class="gl"/>
<line x1="60.10" y1="288.42" x2="311.60" y2="288.42" class="gl"/>
<line x1="60.10" y1="299.35" x2="311.60" y2="299.35" class="gl"/>
<line x1="60.10" y1="310.28" x2="311.60" y2="310.28" class="gl"/>
<line x1="60.10" y1="321.22" x2="311.60" y2="321.22" class="gl"/>
<line x1="60.10" y1="332.15" x2="311.60" y2="332.15" class="gl"/>
<line x1="60.10" y1="343.09" x2="311.60" y2="343.09" class="gl"/>
<line x1="60.10" y1="354.02" x2="311.60" y2="354.02" class="gl"/>
<line x1="60.10" y1="364.95" x2="311.60" y2="364.95" class="gl"/>
<line x1="60.10" y1="375.89" x2="311.60" y2="375.89" class="gl"/>
<line x1="60.10" y1="386.82" x2="311.60" y2="386.82" class="gl"/>
<line x1="60.10" y1="397.76" x2="311.60" y2="397.76" class="gl"/>
<line x1="60.10" y1="408.69" x2="311.60" y2="408.69" class="gl"/>
<line x1="60.10" y1="419.62" x2="311.60" y2="419.62" class="gl"/>
<line x1="60.10" y1="430.56" x2="311.60" y2="430.56" class="gl"/>
<line x1="60.10" y1="441.49" x2="311.60" y2="441.49" class="gl"/>
<line x1="60.10" y1="452.43" x2="311.60" y2="452.43" class="gl"/>
<line x1="60.10" y1="463.36" x2="311.60" y2="463.36" class="gl"/>
<line x1="60.10" y1="474.29" x2="311.60" y2="474.29" class="gl"/>
<line x1="60.10" y1="485.23" x2="311.60" y2="485.23" class="gl"/>
<line x1="60.10" y1="496.16" x2="311.60" y2="496.16" class="gl"/>
<line x1="60.10" y1="507.10" x2="311.60" y2="507.10" class="gl"/>
<line x1="60.10" y1="518.03" x2="311.60" y2="518.03" class="gl"/>
<line x1="60.10" y1="528.96" x2="311.60" y2="528.96" class="gl"/>
<line x1="60.10" y1="539.90" x2="311.60" y2="539.90" class="gl"/>
<line x1="60.10" y1="550.83" x2="311.60" y2="550.83" class="gl"/>
<line x1="60.10" y1="561.77" x2="311.60" y2="561.77" class="gl"/>
<line x1="78.06" y1="26.00" x2="78.06" y2="572.70" class="gl"/>
<line x1="96.03" y1="26.00" x2="96.03" y2="572.70" class="gl"/>
<line x1="113.99" y1="26.00" x2="113.99" y2="572.70" class="gl"/>
<line x1="131.96" y1="26.00" x2="131.96" y2="572.70" class="gl"/>
<line x1="149.92" y1="26.00" x2="149.92" y2="572.70" class="gl"/>
<line x1="167.89" y1="26.00" x2="167.89" y2="572.70" class="gl"/>
<line x1="185.85" y1="26.00" x2="185.85" y2="572.70" class="gl"/>
<line x1="203.81" y1="26.00" x2="203.81" y2="572.70" class="gl"/>
<line x1="221.78" y1="26.00" x2="221.78" y2="572.70" class="gl"/>
<line x1="239.74" y1="26.00" x2="239.74" y2="572.70" class="gl"/>
<line x1="257.71" y1="26.00" x2="257.71" y2="572.70" class="gl"/>
<line x1="275.67" y1="26.00" x2="275.67" y2="572.70" class="gl"/>
<line x1="293.64" y1="26.00" x2="293.64" y2="572.70" class="gl"/>
<rect x="60.40" y="26.30" width="250.90" height="546.10" class="gb"/>
<text class="cl" transform="translate(65.18,576.40) rotate(90)">MPIAM1_3_S</text>
<text class="cl" transform="translate(83.15,576.40) rotate(90)">MPIAM2_1_S</text>
<text class="cl" transform="translate(101.11,576.40) rotate(90)">MPIAM9_1_S</text>
<text class="cl" transform="translate(119.07,576.40) rotate(90)">MPIAW8_1_S</text>
<text class="cl" transform="translate(137.04,576.40) rotate(90)">MPSAM1_2_S</text>
<text class="cl" transform="translate(155.00,576.40) rotate(90)">MPSAM1_3_S</text>
<text class="cl" transform="translate(172.97,576.40) rotate(90)">MPSAM1_4_S</text>
<text class="cl" transform="translate(190.93,576.40) rotate(90)">MPSAM1_5_S</text>
<text class="cl" transform="translate(208.90,576.40) rotate(90)">MPSAM1_7_S</text>
<text class="cl" transform="translate(226.86,576.40) rotate(90)">MPSAM5_2_S</text>
<text class="cl" transform="translate(244.82,576.40) rotate(90)">MPSAW1_4_S</text>
<text class="cl" transform="translate(262.79,576.40) rotate(90)">MPSAW2_8_S</text>
<text class="cl" transform="translate(280.75,576.40) rotate(90)">MPSBW1_1_S</text>
<text class="cl" transform="translate(298.72,576.40) rotate(90)">MPSBW1_3_S</text>
<rect x="316.40" y="26.00" width="17.40" height="546.70" fill="#6d6d6d"/>
<rect x="316.4" y="26.0" width="17.4" height="10.9" class="P"/>
<rect x="316.4" y="36.9" width="17.4" height="10.9" class="O"/>
<rect x="316.4" y="47.9" width="17.4" height="10.9" class="R"/>
<rect x="316.4" y="58.8" width="17.4" height="10.9" class="B"/>
<rect x="316.4" y="80.7" width="17.4" height="10.9" class="E"/>
<rect x="316.4" y="91.6" width="17.4" height="10.9" class="R"/>
<rect x="316.4" y="102.5" width="17.4" height="10.9" class="C"/>
<rect x="316.4" y="113.5" width="17.4" height="10.9" class="O"/>
<rect x="316.4" y="124.4" width="17.4" height="10.9" class="R"/>
<rect x="316.4" y="135.3" width="17.4" height="10.9" class="O"/>
<rect x="316.4" y="146.3" width="17.4" height="10.9" class="C"/>
<rect x="316.4" y="168.1" width="17.4" height="10.9" class="P"/>
<rect x="316.4" y="179.1" width="17.4" height="10.9" class="E"/>
<rect x="316.4" y="190.0" width="17.4" height="10.9" class="R"/>
<rect x="316.4" y="200.9" width="17.4" height="10.9" class="E"/>
<rect x="316.4" y="211.9" width="17.4" height="10.9" class="E"/>
<rect x="316.4" y="222.8" width="17.4" height="10.9" class="C"/>
<rect x="316.4" y="233.7" width="17.4" height="10.9" class="E"/>
<rect x="316.4" y="244.7" width="17.4" height="10.9" class="O"/>
<rect x="316.4" y="255.6" width="17.4" height="10.9" class="E"/>
<rect x="316.4" y="266.5" width="17.4" height="10.9" class="V"/>
<rect x="316.4" y="277.5" width="17.4" height="10.9" class="K"/>
<rect x="316.4" y="288.4" width="17.4" height="10.9" class="P"/>
<rect x="316.4" y="299.4" width="17.4" height="10.9" class="C"/>
<rect x="316.4" y="310.3" width="17.4" height="10.9" class="P"/>
<rect x="316.4" y="321.2" width="17.4" height="10.9" class="R"/>
<rect x="316.4" y="332.2" width="17.4" height="10.9" class="R"/>
<rect x="316.4" y="343.1" width="17.4" height="10.9" class="P"/>
<rect x="316.4" y="354.0" width="17.4" height="10.9" class="B"/>
<rect x="316.4" y="365.0" width="17.4" height="10.9" class="C"/>
<rect x="316.4" y="375.9" width="17.4" height="10.9" class="M"/>
<rect x="316.4" y="386.8" width="17.4" height="10.9" class="M"/>
<rect x="316.4" y="397.8" width="17.4" height="10.9" class="M"/>
<rect x="316.4" y="408.7" width="17.4" height="10.9" class="C"/>
<rect x="316.4" y="419.6" width="17.4" height="10.9" class="K"/>
<rect x="316.4" y="430.6" width="17.4" height="10.9" class="M"/>
<rect x="316.4" y="441.5" width="17.4" height="10.9" class="R"/>
<rect x="316.4" y="452.4" width="17.4" height="10.9" class="V"/>
<rect x="316.4" y="463.4" width="17.4" height="10.9" class="C"/>
<rect x="316.4" y="474.3" width="17.4" height="10.9" class="R"/>
<rect x="316.4" y="485.2" width="17.4" height="10.9" class="V"/>
<rect x="316.4" y="496.2" width="17.4" height="10.9" class="P"/>
<rect x="316.4" y="507.1" width="17.4" height="10.9" class="M"/>
<rect x="316.4" y="518.0" width="17.4" height="10.9" class="P"/>
<rect x="316.4" y="529.0" width="17.4" height="10.9" class="K"/>
<rect x="316.4" y="539.9" width="17.4" height="10.9" class="P"/>
<rect x="316.4" y="550.8" width="17.4" height="10.9" class="P"/>
<rect x="316.4" y="561.8" width="17.4" height="10.9" class="M"/>
<line x1="316.40" y1="36.93" x2="333.80" y2="36.93" class="gl"/>
<line x1="316.40" y1="47.87" x2="333.80" y2="47.87" class="gl"/>
<line x1="316.40" y1="58.80" x2="333.80" y2="58.80" class="gl"/>
<line x1="316.40" y1="69.74" x2="333.80" y2="69.74" class="gl"/>
<line x1="316.40" y1="80.67" x2="333.80" y2="80.67" class="gl"/>
<line x1="316.40" y1="91.60" x2="333.80" y2="91.60" class="gl"/>
<line x1="316.40" y1="102.54" x2="333.80" y2="102.54" class="gl"/>
<line x1="316.40" y1="113.47" x2="333.80" y2="113.47" class="gl"/>
<line x1="316.40" y1="124.41" x2="333.80" y2="124.41" class="gl"/>
<line x1="316.40" y1="135.34" x2="333.80" y2="135.34" class="gl"/>
<line x1="316.40" y1="146.27" x2="333.80" y2="146.27" class="gl"/>
<line x1="316.40" y1="157.21" x2="333.80" y2="157.21" class="gl"/>
<line x1="316.40" y1="168.14" x2="333.80" y2="168.14" class="gl"/>
<line x1="316.40" y1="179.08" x2="333.80" y2="179.08" class="gl"/>
<line x1="316.40" y1="190.01" x2="333.80" y2="190.01" class="gl"/>
<line x1="316.40" y1="200.94" x2="333.80" y2="200.94" class="gl"/>
<line x1="316.40" y1="211.88" x2="333.80" y2="211.88" class="gl"/>
<line x1="316.40" y1="222.81" x2="333.80" y2="222.81" class="gl"/>
<line x1="316.40" y1="233.75" x2="333.80" y2="233.75" class="gl"/>
<line x1="316.40" y1="244.68" x2="333.80" y2="244.68" class="gl"/>
<line x1="316.40" y1="255.61" x2="333.80" y2="255.61" class="gl"/>
<line x1="316.40" y1="266.55" x2="333.80" y2="266.55" class="gl"/>
<line x1="316.40" y1="277.48" x2="333.80" y2="277.48" class="gl"/>
<line x1="316.40" y1="288.42" x2="333.80" y2="288.42" class="gl"/>
<line x1="316.40" y1="299.35" x2="333.80" y2="299.35" class="gl"/>
<line x1="316.40" y1="310.28" x2="333.80" y2="310.28" class="gl"/>
<line x1="316.40" y1="321.22" x2="333.80" y2="321.22" class="gl"/>
<line x1="316.40" y1="332.15" x2="333.80" y2="332.15" class="gl"/>
<line x1="316.40" y1="343.09" x2="333.80" y2="343.09" class="gl"/>
<line x1="316.40" y1="354.02" x2="333.80" y2="354.02" class="gl"/>
<line x1="316.40" y1="364.95" x2="333.80" y2="364.95" class="gl"/>
<line x1="316.40" y1="375.89" x2="333.80" y2="375.89" class="gl"/>
<line x1="316.40" y1="386.82" x2="333.80" y2="386.82" class="gl"/>
<line x1="316.40" y1="397.76" x2="333.80" y2="397.76" class="gl"/>
<line x1="316.40" y1="408.69" x2="333.80" y2="408.69" class="gl"/>
<line x1="316.40" y1="419.62" x2="333.80" y2="419.62" class="gl"/>
<line x1="316.40" y1="430.56" x2="333.80" y2="430.56" class="gl"/>
<line x1="316.40" y1="441.49" x2="333.80" y2="441.49" class="gl"/>
<line x1="316.40" y1="452.43" x2="333.80" y2="452.43" class="gl"/>
<line x1="316.40" y1="463.36" x2="333.80" y2="463.36" class="gl"/>
<line x1="316.40" y1="474.29" x2="333.80" y2="474.29" class="gl"/>
<line x1="316.40" y1="485.23" x2="333.80" y2="485.23" class="gl"/>
<line x1="316.40" y1="496.16" x2="333.80" y2="496.16" class="gl"/>
<line x1="316.40" y1="507.10" x2="333.80" y2="507.10" class="gl"/>
<line x1="316.40" y1="518.03" x2="333.80" y2="518.03" class="gl"/>
<line x1="316.40" y1="528.96" x2="333.80" y2="528.96" class="gl"/>
<line x1="316.40" y1="539.90" x2="333.80" y2="539.90" class="gl"/>
<line x1="316.40" y1="550.83" x2="333.80" y2="550.83" class="gl"/>
<line x1="316.40" y1="561.77" x2="333.80" y2="561.77" class="gl"/>
<rect x="316.70" y="26.30" width="16.80" height="546.10" class="gb"/>
<text class="cl" transform="translate(321.20,576.40) rotate(90)">healthy</text>
<rect x="338.70" y="26.00" width="71.40" height="546.70" fill="#6d6d6d"/>
<rect x="338.7" y="26.0" width="17.9" height="10.9" class="Y"/>
<rect x="356.6" y="26.0" width="17.9" height="10.9" class="Y"/>
<rect x="374.4" y="26.0" width="17.9" height="10.9" class="Y"/>
<rect x="392.2" y="26.0" width="17.9" height="10.9" class="Y"/>
<rect x="338.7" y="36.9" width="17.9" height="10.9" class="M"/>
<rect x="356.6" y="36.9" width="17.9" height="10.9" class="E"/>
<rect x="374.4" y="36.9" width="17.9" height="10.9" class="R"/>
<rect x="392.2" y="36.9" width="17.9" height="10.9" class="E"/>
<rect x="338.7" y="47.9" width="17.9" height="10.9" class="B"/>
<rect x="356.6" y="47.9" width="17.9" height="10.9" class="V"/>
<rect x="374.4" y="47.9" width="17.9" height="10.9" class="M"/>
<rect x="392.2" y="47.9" width="17.9" height="10.9" class="P"/>
<rect x="338.7" y="80.7" width="17.9" height="10.9" class="R"/>
<rect x="356.6" y="80.7" width="17.9" height="10.9" class="R"/>
<rect x="374.4" y="80.7" width="17.9" height="10.9" class="C"/>
<rect x="392.2" y="80.7" width="17.9" height="10.9" class="R"/>
<rect x="338.7" y="91.6" width="17.9" height="10.9" class="V"/>
<rect x="356.6" y="91.6" width="17.9" height="10.9" class="C"/>
<rect x="374.4" y="91.6" width="17.9" height="10.9" class="C"/>
<rect x="392.2" y="91.6" width="17.9" height="10.9" class="C"/>
<rect x="338.7" y="102.5" width="17.9" height="10.9" class="B"/>
<rect x="356.6" y="102.5" width="17.9" height="10.9" class="P"/>
<rect x="374.4" y="102.5" width="17.9" height="10.9" class="C"/>
<rect x="392.2" y="102.5" width="17.9" height="10.9" class="M"/>
<rect x="338.7" y="113.5" width="17.9" height="10.9" class="C"/>
<rect x="356.6" y="113.5" width="17.9" height="10.9" class="R"/>
<rect x="392.2" y="113.5" width="17.9" height="10.9" class="P"/>
<rect x="338.7" y="124.4" width="17.9" height="10.9" class="V"/>
<rect x="356.6" y="124.4" width="17.9" height="10.9" class="P"/>
<rect x="374.4" y="124.4" width="17.9" height="10.9" class="V"/>
<rect x="392.2" y="124.4" width="17.9" height="10.9" class="V"/>
<rect x="338.7" y="135.3" width="17.9" height="10.9" class="C"/>
<rect x="356.6" y="135.3" width="17.9" height="10.9" class="M"/>
<rect x="374.4" y="135.3" width="17.9" height="10.9" class="C"/>
<rect x="392.2" y="135.3" width="17.9" height="10.9" class="P"/>
<rect x="338.7" y="146.3" width="17.9" height="10.9" class="P"/>
<rect x="356.6" y="146.3" width="17.9" height="10.9" class="V"/>
<rect x="374.4" y="146.3" width="17.9" height="10.9" class="V"/>
<rect x="392.2" y="146.3" width="17.9" height="10.9" class="V"/>
<rect x="338.7" y="168.1" width="17.9" height="10.9" class="V"/>
<rect x="356.6" y="168.1" width="17.9" height="10.9" class="B"/>
<rect x="338.7" y="179.1" width="17.9" height="10.9" class="V"/>
<rect x="356.6" y="179.1" width="17.9" height="10.9" class="M"/>
<rect x="374.4" y="179.1" width="17.9" height="10.9" class="M"/>
<rect x="392.2" y="179.1" width="17.9" height="10.9" class="M"/>
<rect x="338.7" y="190.0" width="17.9" height="10.9" class="P"/>
<rect x="356.6" y="190.0" width="17.9" height="10.9" class="C"/>
<rect x="374.4" y="190.0" width="17.9" height="10.9" class="B"/>
<rect x="392.2" y="190.0" width="17.9" height="10.9" class="B"/>
<rect x="338.7" y="200.9" width="17.9" height="10.9" class="M"/>
<rect x="356.6" y="200.9" width="17.9" height="10.9" class="V"/>
<rect x="392.2" y="200.9" width="17.9" height="10.9" class="V"/>
<rect x="338.7" y="211.9" width="17.9" height="10.9" class="V"/>
<rect x="356.6" y="211.9" width="17.9" height="10.9" class="P"/>
<rect x="392.2" y="211.9" width="17.9" height="10.9" class="M"/>
<rect x="338.7" y="222.8" width="17.9" height="10.9" class="B"/>
<rect x="356.6" y="222.8" width="17.9" height="10.9" class="B"/>
<rect x="374.4" y="222.8" width="17.9" height="10.9" class="B"/>
<rect x="392.2" y="222.8" width="17.9" height="10.9" class="B"/>
<rect x="338.7" y="233.7" width="17.9" height="10.9" class="C"/>
<rect x="356.6" y="233.7" width="17.9" height="10.9" class="R"/>
<rect x="374.4" y="233.7" width="17.9" height="10.9" class="P"/>
<rect x="392.2" y="233.7" width="17.9" height="10.9" class="P"/>
<rect x="338.7" y="244.7" width="17.9" height="10.9" class="M"/>
<rect x="356.6" y="244.7" width="17.9" height="10.9" class="R"/>
<rect x="338.7" y="255.6" width="17.9" height="10.9" class="M"/>
<rect x="356.6" y="255.6" width="17.9" height="10.9" class="C"/>
<rect x="392.2" y="255.6" width="17.9" height="10.9" class="V"/>
<rect x="338.7" y="288.4" width="17.9" height="10.9" class="B"/>
<rect x="374.4" y="288.4" width="17.9" height="10.9" class="V"/>
<rect x="392.2" y="288.4" width="17.9" height="10.9" class="B"/>
<rect x="338.7" y="299.4" width="17.9" height="10.9" class="V"/>
<rect x="356.6" y="299.4" width="17.9" height="10.9" class="M"/>
<rect x="392.2" y="299.4" width="17.9" height="10.9" class="C"/>
<rect x="374.4" y="310.3" width="17.9" height="10.9" class="V"/>
<rect x="356.6" y="321.2" width="17.9" height="10.9" class="C"/>
<rect x="392.2" y="321.2" width="17.9" height="10.9" class="B"/>
<rect x="338.7" y="332.2" width="17.9" height="10.9" class="V"/>
<rect x="356.6" y="332.2" width="17.9" height="10.9" class="E"/>
<rect x="356.6" y="343.1" width="17.9" height="10.9" class="B"/>
<rect x="392.2" y="343.1" width="17.9" height="10.9" class="V"/>
<rect x="338.7" y="365.0" width="17.9" height="10.9" class="V"/>
<rect x="356.6" y="365.0" width="17.9" height="10.9" class="B"/>
<rect x="338.7" y="375.9" width="17.9" height="10.9" class="M"/>
<rect x="338.7" y="386.8" width="17.9" height="10.9" class="B"/>
<rect x="356.6" y="386.8" width="17.9" height="10.9" class="B"/>
<rect x="338.7" y="397.8" width="17.9" height="10.9" class="B"/>
<rect x="338.7" y="408.7" width="17.9" height="10.9" class="B"/>
<rect x="356.6" y="408.7" width="17.9" height="10.9" class="M"/>
<rect x="392.2" y="408.7" width="17.9" height="10.9" class="V"/>
<rect x="338.7" y="430.6" width="17.9" height="10.9" class="M"/>
<rect x="356.6" y="430.6" width="17.9" height="10.9" class="P"/>
<rect x="338.7" y="441.5" width="17.9" height="10.9" class="P"/>
<rect x="356.6" y="441.5" width="17.9" height="10.9" class="M"/>
<rect x="338.7" y="452.4" width="17.9" height="10.9" class="B"/>
<rect x="374.4" y="452.4" width="17.9" height="10.9" class="B"/>
<rect x="392.2" y="452.4" width="17.9" height="10.9" class="B"/>
<rect x="338.7" y="485.2" width="17.9" height="10.9" class="B"/>
<rect x="392.2" y="485.2" width="17.9" height="10.9" class="B"/>
<rect x="356.6" y="496.2" width="17.9" height="10.9" class="C"/>
<rect x="374.4" y="496.2" width="17.9" height="10.9" class="V"/>
<rect x="392.2" y="496.2" width="17.9" height="10.9" class="P"/>
<rect x="338.7" y="507.1" width="17.9" height="10.9" class="N"/>
<rect x="356.6" y="507.1" width="17.9" height="10.9" class="B"/>
<rect x="374.4" y="507.1" width="17.9" height="10.9" class="V"/>
<rect x="392.2" y="507.1" width="17.9" height="10.9" class="B"/>
<rect x="356.6" y="518.0" width="17.9" height="10.9" class="M"/>
<rect x="392.2" y="518.0" width="17.9" height="10.9" class="V"/>
<rect x="338.7" y="539.9" width="17.9" height="10.9" class="B"/>
<rect x="356.6" y="550.8" width="17.9" height="10.9" class="V"/>
<rect x="374.4" y="550.8" width="17.9" height="10.9" class="V"/>
<rect x="392.2" y="550.8" width="17.9" height="10.9" class="V"/>
<rect x="338.7" y="561.8" width="17.9" height="10.9" class="B"/>
<rect x="356.6" y="561.8" width="17.9" height="10.9" class="B"/>
<rect x="392.2" y="561.8" width="17.9" height="10.9" class="V"/>
<line x1="338.70" y1="36.93" x2="410.10" y2="36.93" class="gl"/>
<line x1="338.70" y1="47.87" x2="410.10" y2="47.87" class="gl"/>
<line x1="338.70" y1="58.80" x2="410.10" y2="58.80" class="gl"/>
<line x1="338.70" y1="69.74" x2="410.10" y2="69.74" class="gl"/>
<line x1="338.70" y1="80.67" x2="410.10" y2="80.67" class="gl"/>
<line x1="338.70" y1="91.60" x2="410.10" y2="91.60" class="gl"/>
<line x1="338.70" y1="102.54" x2="410.10" y2="102.54" class="gl"/>
<line x1="338.70" y1="113.47" x2="410.10" y2="113.47" class="gl"/>
<line x1="338.70" y1="124.41" x2="410.10" y2="124.41" class="gl"/>
<line x1="338.70" y1="135.34" x2="410.10" y2="135.34" class="gl"/>
<line x1="338.70" y1="146.27" x2="410.10" y2="146.27" class="gl"/>
<line x1="338.70" y1="157.21" x2="410.10" y2="157.21" class="gl"/>
<line x1="338.70" y1="168.14" x2="410.10" y2="168.14" class="gl"/>
<line x1="338.70" y1="179.08" x2="410.10" y2="179.08" class="gl"/>
<line x1="338.70" y1="190.01" x2="410.10" y2="190.01" class="gl"/>
<line x1="338.70" y1="200.94" x2="410.10" y2="200.94" class="gl"/>
<line x1="338.70" y1="211.88" x2="410.10" y2="211.88" class="gl"/>
<line x1="338.70" y1="222.81" x2="410.10" y2="222.81" class="gl"/>
<line x1="338.70" y1="233.75" x2="410.10" y2="233.75" class="gl"/>
<line x1="338.70" y1="244.68" x2="410.10" y2="244.68" class="gl"/>
<line x1="338.70" y1="255.61" x2="410.10" y2="255.61" class="gl"/>
<line x1="338.70" y1="266.55" x2="410.10" y2="266.55" class="gl"/>
<line x1="338.70" y1="277.48" x2="410.10" y2="277.48" class="gl"/>
<line x1="338.70" y1="288.42" x2="410.10" y2="288.42" class="gl"/>
<line x1="338.70" y1="299.35" x2="410.10" y2="299.35" class="gl"/>
<line x1="338.70" y1="310.28" x2="410.10" y2="310.28" class="gl"/>
<line x1="338.70" y1="321.22" x2="410.10" y2="321.22" class="gl"/>
<line x1="338.70" y1="332.15" x2="410.10" y2="332.15" class="gl"/>
<line x1="338.70" y1="343.09" x2="410.10" y2="343.09" class="gl"/>
<line x1="338.70" y1="354.02" x2="410.10" y2="354.02" class="gl"/>
<line x1="338.70" y1="364.95" x2="410.10" y2="364.95" class="gl"/>
<line x1="338.70" y1="375.89" x2="410.10" y2="375.89" class="gl"/>
<line x1="338.70" y1="386.82" x2="410.10" y2="386.82" class="gl"/>
<line x1="338.70" y1="397.76" x2="410.10" y2="397.76" class="gl"/>
<line x1="338.70" y1="408.69" x2="410.10" y2="408.69" class="gl"/>
<line x1="338.70" y1="419.62" x2="410.10" y2="419.62" class="gl"/>
<line x1="338.70" y1="430.56" x2="410.10" y2="430.56" class="gl"/>
<line x1="338.70" y1="441.49" x2="410.10" y2="441.49" class="gl"/>
<line x1="338.70" y1="452.43" x2="410.10" y2="452.43" class="gl"/>
<line x1="338.70" y1="463.36" x2="410.10" y2="463.36" class="gl"/>
<line x1="338.70" y1="474.29" x2="410.10" y2="474.29" class="gl"/>
<line x1="338.70" y1="485.23" x2="410.10" y2="485.23" class="gl"/>
<line x1="338.70" y1="496.16" x2="410.10" y2="496.16" class="gl"/>
<line x1="338.70" y1="507.10" x2="410.10" y2="507.10" class="gl"/>
<line x1="338.70" y1="518.03" x2="410.10" y2="518.03" class="gl"/>
<line x1="338.70" y1="528.96" x2="410.10" y2="528.96" class="gl"/>
<line x1="338.70" y1="539.90" x2="410.10" y2="539.90" class="gl"/>
<line x1="338.70" y1="550.83" x2="410.10" y2="550.83" class="gl"/>
<line x1="338.70" y1="561.77" x2="410.10" y2="561.77" class="gl"/>
<line x1="356.55" y1="26.00" x2="356.55" y2="572.70" class="gl"/>
<line x1="374.40" y1="26.00" x2="374.40" y2="572.70" class="gl"/>
<line x1="392.25" y1="26.00" x2="392.25" y2="572.70" class="gl"/>
<rect x="339.00" y="26.30" width="70.80" height="546.10" class="gb"/>
<text class="cl" transform="translate(343.73,576.40) rotate(90)">MPIAM10_1_S</text>
<text class="cl" transform="translate(361.58,576.40) rotate(90)">MPIAM8_1_S</text>
<text class="cl" transform="translate(379.43,576.40) rotate(90)">MPSBM4_1_S</text>
<text class="cl" transform="translate(397.28,576.40) rotate(90)">MPSBM4_2_S</text>
<rect x="415.00" y="26.00" width="17.40" height="546.70" fill="#6d6d6d"/>
<rect x="415.0" y="26.0" width="17.4" height="10.9" class="P"/>
<rect x="415.0" y="36.9" width="17.4" height="10.9" class="O"/>
<rect x="415.0" y="47.9" width="17.4" height="10.9" class="R"/>
<rect x="415.0" y="58.8" width="17.4" height="10.9" class="B"/>
<rect x="415.0" y="80.7" width="17.4" height="10.9" class="E"/>
<rect x="415.0" y="91.6" width="17.4" height="10.9" class="R"/>
<rect x="415.0" y="102.5" width="17.4" height="10.9" class="C"/>
<rect x="415.0" y="113.5" width="17.4" height="10.9" class="O"/>
<rect x="415.0" y="124.4" width="17.4" height="10.9" class="R"/>
<rect x="415.0" y="135.3" width="17.4" height="10.9" class="O"/>
<rect x="415.0" y="146.3" width="17.4" height="10.9" class="C"/>
<rect x="415.0" y="168.1" width="17.4" height="10.9" class="P"/>
<rect x="415.0" y="179.1" width="17.4" height="10.9" class="E"/>
<rect x="415.0" y="190.0" width="17.4" height="10.9" class="R"/>
<rect x="415.0" y="200.9" width="17.4" height="10.9" class="E"/>
<rect x="415.0" y="211.9" width="17.4" height="10.9" class="E"/>
<rect x="415.0" y="222.8" width="17.4" height="10.9" class="C"/>
<rect x="415.0" y="233.7" width="17.4" height="10.9" class="E"/>
<rect x="415.0" y="244.7" width="17.4" height="10.9" class="O"/>
<rect x="415.0" y="255.6" width="17.4" height="10.9" class="E"/>
<rect x="415.0" y="266.5" width="17.4" height="10.9" class="V"/>
<rect x="415.0" y="277.5" width="17.4" height="10.9" class="K"/>
<rect x="415.0" y="288.4" width="17.4" height="10.9" class="P"/>
<rect x="415.0" y="299.4" width="17.4" height="10.9" class="C"/>
<rect x="415.0" y="310.3" width="17.4" height="10.9" class="P"/>
<rect x="415.0" y="321.2" width="17.4" height="10.9" class="R"/>
<rect x="415.0" y="332.2" width="17.4" height="10.9" class="R"/>
<rect x="415.0" y="343.1" width="17.4" height="10.9" class="P"/>
<rect x="415.0" y="354.0" width="17.4" height="10.9" class="B"/>
<rect x="415.0" y="365.0" width="17.4" height="10.9" class="C"/>
<rect x="415.0" y="375.9" width="17.4" height="10.9" class="M"/>
<rect x="415.0" y="386.8" width="17.4" height="10.9" class="M"/>
<rect x="415.0" y="397.8" width="17.4" height="10.9" class="M"/>
<rect x="415.0" y="408.7" width="17.4" height="10.9" class="C"/>
<rect x="415.0" y="419.6" width="17.4" height="10.9" class="K"/>
<rect x="415.0" y="430.6" width="17.4" height="10.9" class="M"/>
<rect x="415.0" y="441.5" width="17.4" height="10.9" class="R"/>
<rect x="415.0" y="452.4" width="17.4" height="10.9" class="V"/>
<rect x="415.0" y="463.4" width="17.4" height="10.9" class="C"/>
<rect x="415.0" y="474.3" width="17.4" height="10.9" class="R"/>
<rect x="415.0" y="485.2" width="17.4" height="10.9" class="V"/>
<rect x="415.0" y="496.2" width="17.4" height="10.9" class="P"/>
<rect x="415.0" y="507.1" width="17.4" height="10.9" class="M"/>
<rect x="415.0" y="518.0" width="17.4" height="10.9" class="P"/>
<rect x="415.0" y="529.0" width="17.4" height="10.9" class="K"/>
<rect x="415.0" y="539.9" width="17.4" height="10.9" class="P"/>
<rect x="415.0" y="550.8" width="17.4" height="10.9" class="P"/>
<rect x="415.0" y="561.8" width="17.4" height="10.9" class="M"/>
<line x1="415.00" y1="36.93" x2="432.40" y2="36.93" class="gl"/>
<line x1="415.00" y1="47.87" x2="432.40" y2="47.87" class="gl"/>
<line x1="415.00" y1="58.80" x2="432.40" y2="58.80" class="gl"/>
<line x1="415.00" y1="69.74" x2="432.40" y2="69.74" class="gl"/>
<line x1="415.00" y1="80.67" x2="432.40" y2="80.67" class="gl"/>
<line x1="415.00" y1="91.60" x2="432.40" y2="91.60" class="gl"/>
<line x1="415.00" y1="102.54" x2="432.40" y2="102.54" class="gl"/>
<line x1="415.00" y1="113.47" x2="432.40" y2="113.47" class="gl"/>
<line x1="415.00" y1="124.41" x2="432.40" y2="124.41" class="gl"/>
<line x1="415.00" y1="135.34" x2="432.40" y2="135.34" class="gl"/>
<line x1="415.00" y1="146.27" x2="432.40" y2="146.27" class="gl"/>
<line x1="415.00" y1="157.21" x2="432.40" y2="157.21" class="gl"/>
<line x1="415.00" y1="168.14" x2="432.40" y2="168.14" class="gl"/>
<line x1="415.00" y1="179.08" x2="432.40" y2="179.08" class="gl"/>
<line x1="415.00" y1="190.01" x2="432.40" y2="190.01" class="gl"/>
<line x1="415.00" y1="200.94" x2="432.40" y2="200.94" class="gl"/>
<line x1="415.00" y1="211.88" x2="432.40" y2="211.88" class="gl"/>
<line x1="415.00" y1="222.81" x2="432.40" y2="222.81" class="gl"/>
<line x1="415.00" y1="233.75" x2="432.40" y2="233.75" class="gl"/>
<line x1="415.00" y1="244.68" x2="432.40" y2="244.68" class="gl"/>
<line x1="415.00" y1="255.61" x2="432.40" y2="255.61" class="gl"/>
<line x1="415.00" y1="266.55" x2="432.40" y2="266.55" class="gl"/>
<line x1="415.00" y1="277.48" x2="432.40" y2="277.48" class="gl"/>
<line x1="415.00" y1="288.42" x2="432.40" y2="288.42" class="gl"/>
<line x1="415.00" y1="299.35" x2="432.40" y2="299.35" class="gl"/>
<line x1="415.00" y1="310.28" x2="432.40" y2="310.28" class="gl"/>
<line x1="415.00" y1="321.22" x2="432.40" y2="321.22" class="gl"/>
<line x1="415.00" y1="332.15" x2="432.40" y2="332.15" class="gl"/>
<line x1="415.00" y1="343.09" x2="432.40" y2="343.09" class="gl"/>
<line x1="415.00" y1="354.02" x2="432.40" y2="354.02" class="gl"/>
<line x1="415.00" y1="364.95" x2="432.40" y2="364.95" class="gl"/>
<line x1="415.00" y1="375.89" x2="432.40" y2="375.89" class="gl"/>
<line x1="415.00" y1="386.82" x2="432.40" y2="386.82" class="gl"/>
<line x1="415.00" y1="397.76" x2="432.40" y2="397.76" class="gl"/>
<line x1="415.00" y1="408.69" x2="432.40" y2="408.69" class="gl"/>
<line x1="415.00" y1="419.62" x2="432.40" y2="419.62" class="gl"/>
<line x1="415.00" y1="430.56" x2="432.40" y2="430.56" class="gl"/>
<line x1="415.00" y1="441.49" x2="432.40" y2="441.49" class="gl"/>
<line x1="415.00" y1="452.43" x2="432.40" y2="452.43" class="gl"/>
<line x1="415.00" y1="463.36" x2="432.40" y2="463.36" class="gl"/>
<line x1="415.00" y1="474.29" x2="432.40" y2="474.29" class="gl"/>
<line x1="415.00" y1="485.23" x2="432.40" y2="485.23" class="gl"/>
<line x1="415.00" y1="496.16" x2="432.40" y2="496.16" class="gl"/>
<line x1="415.00" y1="507.10" x2="432.40" y2="507.10" class="gl"/>
<line x1="415.00" y1="518.03" x2="432.40" y2="518.03" class="gl"/>
<line x1="415.00" y1="528.96" x2="432.40" y2="528.96" class="gl"/>
<line x1="415.00" y1="539.90" x2="432.40" y2="539.90" class="gl"/>
<line x1="415.00" y1="550.83" x2="432.40" y2="550.83" class="gl"/>
<line x1="415.00" y1="561.77" x2="432.40" y2="561.77" class="gl"/>
<rect x="415.30" y="26.30" width="16.80" height="546.10" class="gb"/>
<text class="cl" transform="translate(419.80,576.40) rotate(90)">healthy</text>
<rect x="437.30" y="26.00" width="179.10" height="546.70" fill="#6d6d6d"/>
<rect x="437.3" y="36.9" width="17.9" height="10.9" class="O"/>
<rect x="455.2" y="36.9" width="17.9" height="10.9" class="C"/>
<rect x="473.1" y="36.9" width="17.9" height="10.9" class="M"/>
<rect x="491.0" y="36.9" width="17.9" height="10.9" class="E"/>
<rect x="508.9" y="36.9" width="17.9" height="10.9" class="O"/>
<rect x="526.9" y="36.9" width="17.9" height="10.9" class="E"/>
<rect x="544.8" y="36.9" width="17.9" height="10.9" class="M"/>
<rect x="562.7" y="36.9" width="17.9" height="10.9" class="C"/>
<rect x="580.6" y="36.9" width="17.9" height="10.9" class="V"/>
<rect x="598.5" y="36.9" width="17.9" height="10.9" class="M"/>
<rect x="437.3" y="47.9" width="17.9" height="10.9" class="A"/>
<rect x="455.2" y="47.9" width="17.9" height="10.9" class="V"/>
<rect x="491.0" y="47.9" width="17.9" height="10.9" class="E"/>
<rect x="508.9" y="47.9" width="17.9" height="10.9" class="M"/>
<rect x="526.9" y="47.9" width="17.9" height="10.9" class="P"/>
<rect x="544.8" y="47.9" width="17.9" height="10.9" class="O"/>
<rect x="598.5" y="47.9" width="17.9" height="10.9" class="M"/>
<rect x="455.2" y="58.8" width="17.9" height="10.9" class="E"/>
<rect x="473.1" y="58.8" width="17.9" height="10.9" class="C"/>
<rect x="544.8" y="58.8" width="17.9" height="10.9" class="O"/>
<rect x="562.7" y="58.8" width="17.9" height="10.9" class="R"/>
<rect x="580.6" y="58.8" width="17.9" height="10.9" class="A"/>
<rect x="598.5" y="58.8" width="17.9" height="10.9" class="Y"/>
<rect x="437.3" y="69.7" width="17.9" height="10.9" class="O"/>
<rect x="455.2" y="69.7" width="17.9" height="10.9" class="O"/>
<rect x="473.1" y="69.7" width="17.9" height="10.9" class="C"/>
<rect x="491.0" y="69.7" width="17.9" height="10.9" class="E"/>
<rect x="508.9" y="69.7" width="17.9" height="10.9" class="R"/>
<rect x="526.9" y="69.7" width="17.9" height="10.9" class="E"/>
<rect x="544.8" y="69.7" width="17.9" height="10.9" class="A"/>
<rect x="562.7" y="69.7" width="17.9" height="10.9" class="A"/>
<rect x="580.6" y="69.7" width="17.9" height="10.9" class="O"/>
<rect x="598.5" y="69.7" width="17.9" height="10.9" class="C"/>
<rect x="437.3" y="80.7" width="17.9" height="10.9" class="E"/>
<rect x="455.2" y="80.7" width="17.9" height="10.9" class="E"/>
<rect x="491.0" y="80.7" width="17.9" height="10.9" class="C"/>
<rect x="508.9" y="80.7" width="17.9" height="10.9" class="R"/>
<rect x="526.9" y="80.7" width="17.9" height="10.9" class="R"/>
<rect x="544.8" y="80.7" width="17.9" height="10.9" class="C"/>
<rect x="598.5" y="80.7" width="17.9" height="10.9" class="V"/>
<rect x="508.9" y="91.6" width="17.9" height="10.9" class="R"/>
<rect x="526.9" y="91.6" width="17.9" height="10.9" class="C"/>
<rect x="491.0" y="102.5" width="17.9" height="10.9" class="V"/>
<rect x="508.9" y="102.5" width="17.9" height="10.9" class="R"/>
<rect x="526.9" y="102.5" width="17.9" height="10.9" class="C"/>
<rect x="455.2" y="113.5" width="17.9" height="10.9" class="R"/>
<rect x="491.0" y="113.5" width="17.9" height="10.9" class="A"/>
<rect x="508.9" y="113.5" width="17.9" height="10.9" class="B"/>
<rect x="598.5" y="113.5" width="17.9" height="10.9" class="V"/>
<rect x="437.3" y="124.4" width="17.9" height="10.9" class="E"/>
<rect x="455.2" y="124.4" width="17.9" height="10.9" class="R"/>
<rect x="491.0" y="124.4" width="17.9" height="10.9" class="M"/>
<rect x="508.9" y="124.4" width="17.9" height="10.9" class="M"/>
<rect x="526.9" y="124.4" width="17.9" height="10.9" class="P"/>
<rect x="544.8" y="124.4" width="17.9" height="10.9" class="E"/>
<rect x="562.7" y="124.4" width="17.9" height="10.9" class="C"/>
<rect x="580.6" y="124.4" width="17.9" height="10.9" class="B"/>
<rect x="455.2" y="135.3" width="17.9" height="10.9" class="R"/>
<rect x="508.9" y="135.3" width="17.9" height="10.9" class="R"/>
<rect x="598.5" y="135.3" width="17.9" height="10.9" class="V"/>
<rect x="437.3" y="146.3" width="17.9" height="10.9" class="R"/>
<rect x="455.2" y="146.3" width="17.9" height="10.9" class="O"/>
<rect x="473.1" y="146.3" width="17.9" height="10.9" class="P"/>
<rect x="491.0" y="146.3" width="17.9" height="10.9" class="E"/>
<rect x="508.9" y="146.3" width="17.9" height="10.9" class="P"/>
<rect x="526.9" y="146.3" width="17.9" height="10.9" class="P"/>
<rect x="544.8" y="146.3" width="17.9" height="10.9" class="C"/>
<rect x="598.5" y="146.3" width="17.9" height="10.9" class="V"/>
<rect x="473.1" y="157.2" width="17.9" height="10.9" class="A"/>
<rect x="491.0" y="157.2" width="17.9" height="10.9" class="E"/>
<rect x="508.9" y="157.2" width="17.9" height="10.9" class="O"/>
<rect x="526.9" y="157.2" width="17.9" height="10.9" class="O"/>
<rect x="455.2" y="168.1" width="17.9" height="10.9" class="P"/>
<rect x="473.1" y="168.1" width="17.9" height="10.9" class="E"/>
<rect x="544.8" y="168.1" width="17.9" height="10.9" class="B"/>
<rect x="437.3" y="179.1" width="17.9" height="10.9" class="R"/>
<rect x="455.2" y="179.1" width="17.9" height="10.9" class="R"/>
<rect x="508.9" y="179.1" width="17.9" height="10.9" class="C"/>
<rect x="526.9" y="179.1" width="17.9" height="10.9" class="V"/>
<rect x="544.8" y="179.1" width="17.9" height="10.9" class="B"/>
<rect x="437.3" y="190.0" width="17.9" height="10.9" class="C"/>
<rect x="455.2" y="190.0" width="17.9" height="10.9" class="C"/>
<rect x="491.0" y="190.0" width="17.9" height="10.9" class="V"/>
<rect x="508.9" y="190.0" width="17.9" height="10.9" class="P"/>
<rect x="526.9" y="190.0" width="17.9" height="10.9" class="P"/>
<rect x="544.8" y="190.0" width="17.9" height="10.9" class="V"/>
<rect x="580.6" y="190.0" width="17.9" height="10.9" class="V"/>
<rect x="455.2" y="200.9" width="17.9" height="10.9" class="M"/>
<rect x="491.0" y="200.9" width="17.9" height="10.9" class="R"/>
<rect x="508.9" y="200.9" width="17.9" height="10.9" class="P"/>
<rect x="437.3" y="211.9" width="17.9" height="10.9" class="V"/>
<rect x="455.2" y="211.9" width="17.9" height="10.9" class="V"/>
<rect x="526.9" y="211.9" width="17.9" height="10.9" class="B"/>
<rect x="598.5" y="211.9" width="17.9" height="10.9" class="V"/>
<rect x="455.2" y="222.8" width="17.9" height="10.9" class="E"/>
<rect x="598.5" y="222.8" width="17.9" height="10.9" class="B"/>
<rect x="455.2" y="233.7" width="17.9" height="10.9" class="C"/>
<rect x="508.9" y="233.7" width="17.9" height="10.9" class="E"/>
<rect x="526.9" y="233.7" width="17.9" height="10.9" class="R"/>
<rect x="455.2" y="244.7" width="17.9" height="10.9" class="M"/>
<rect x="437.3" y="255.6" width="17.9" height="10.9" class="R"/>
<rect x="455.2" y="255.6" width="17.9" height="10.9" class="V"/>
<rect x="544.8" y="255.6" width="17.9" height="10.9" class="M"/>
<rect x="455.2" y="288.4" width="17.9" height="10.9" class="C"/>
<rect x="491.0" y="288.4" width="17.9" height="10.9" class="O"/>
<rect x="508.9" y="288.4" width="17.9" height="10.9" class="P"/>
<rect x="526.9" y="288.4" width="17.9" height="10.9" class="M"/>
<rect x="580.6" y="288.4" width="17.9" height="10.9" class="V"/>
<rect x="598.5" y="288.4" width="17.9" height="10.9" class="V"/>
<rect x="437.3" y="299.4" width="17.9" height="10.9" class="M"/>
<rect x="455.2" y="299.4" width="17.9" height="10.9" class="P"/>
<rect x="508.9" y="299.4" width="17.9" height="10.9" class="V"/>
<rect x="526.9" y="299.4" width="17.9" height="10.9" class="V"/>
<rect x="544.8" y="299.4" width="17.9" height="10.9" class="B"/>
<rect x="580.6" y="299.4" width="17.9" height="10.9" class="B"/>
<rect x="473.1" y="310.3" width="17.9" height="10.9" class="C"/>
<rect x="508.9" y="310.3" width="17.9" height="10.9" class="B"/>
<rect x="437.3" y="321.2" width="17.9" height="10.9" class="M"/>
<rect x="455.2" y="321.2" width="17.9" height="10.9" class="R"/>
<rect x="491.0" y="321.2" width="17.9" height="10.9" class="P"/>
<rect x="544.8" y="321.2" width="17.9" height="10.9" class="M"/>
<rect x="562.7" y="321.2" width="17.9" height="10.9" class="V"/>
<rect x="526.9" y="332.2" width="17.9" height="10.9" class="B"/>
<rect x="580.6" y="332.2" width="17.9" height="10.9" class="B"/>
<rect x="491.0" y="343.1" width="17.9" height="10.9" class="R"/>
<rect x="526.9" y="343.1" width="17.9" height="10.9" class="B"/>
<rect x="491.0" y="354.0" width="17.9" height="10.9" class="M"/>
<rect x="508.9" y="354.0" width="17.9" height="10.9" class="B"/>
<rect x="437.3" y="365.0" width="17.9" height="10.9" class="C"/>
<rect x="455.2" y="365.0" width="17.9" height="10.9" class="R"/>
<rect x="437.3" y="375.9" width="17.9" height="10.9" class="E"/>
<rect x="455.2" y="375.9" width="17.9" height="10.9" class="E"/>
<rect x="562.7" y="375.9" width="17.9" height="10.9" class="V"/>
<rect x="455.2" y="386.8" width="17.9" height="10.9" class="C"/>
<rect x="437.3" y="397.8" width="17.9" height="10.9" class="C"/>
<rect x="455.2" y="397.8" width="17.9" height="10.9" class="M"/>
<rect x="562.7" y="397.8" width="17.9" height="10.9" class="B"/>
<rect x="437.3" y="408.7" width="17.9" height="10.9" class="P"/>
<rect x="455.2" y="408.7" width="17.9" height="10.9" class="V"/>
<rect x="508.9" y="408.7" width="17.9" height="10.9" class="V"/>
<rect x="526.9" y="408.7" width="17.9" height="10.9" class="B"/>
<rect x="544.8" y="408.7" width="17.9" height="10.9" class="B"/>
<rect x="437.3" y="452.4" width="17.9" height="10.9" class="V"/>
<rect x="455.2" y="452.4" width="17.9" height="10.9" class="V"/>
<rect x="491.0" y="452.4" width="17.9" height="10.9" class="M"/>
<rect x="508.9" y="452.4" width="17.9" height="10.9" class="V"/>
<rect x="544.8" y="452.4" width="17.9" height="10.9" class="B"/>
<rect x="455.2" y="463.4" width="17.9" height="10.9" class="C"/>
<rect x="508.9" y="463.4" width="17.9" height="10.9" class="V"/>
<rect x="437.3" y="485.2" width="17.9" height="10.9" class="V"/>
<rect x="455.2" y="485.2" width="17.9" height="10.9" class="B"/>
<rect x="491.0" y="485.2" width="17.9" height="10.9" class="M"/>
<rect x="508.9" y="485.2" width="17.9" height="10.9" class="V"/>
<rect x="544.8" y="485.2" width="17.9" height="10.9" class="B"/>
<rect x="455.2" y="507.1" width="17.9" height="10.9" class="R"/>
<rect x="491.0" y="507.1" width="17.9" height="10.9" class="M"/>
<rect x="508.9" y="507.1" width="17.9" height="10.9" class="B"/>
<rect x="491.0" y="518.0" width="17.9" height="10.9" class="C"/>
<rect x="455.2" y="529.0" width="17.9" height="10.9" class="V"/>
<rect x="544.8" y="529.0" width="17.9" height="10.9" class="M"/>
<rect x="562.7" y="529.0" width="17.9" height="10.9" class="B"/>
<rect x="580.6" y="529.0" width="17.9" height="10.9" class="R"/>
<rect x="598.5" y="529.0" width="17.9" height="10.9" class="R"/>
<rect x="455.2" y="539.9" width="17.9" height="10.9" class="M"/>
<rect x="455.2" y="550.8" width="17.9" height="10.9" class="C"/>
<rect x="455.2" y="561.8" width="17.9" height="10.9" class="P"/>
<rect x="491.0" y="561.8" width="17.9" height="10.9" class="M"/>
<rect x="508.9" y="561.8" width="17.9" height="10.9" class="B"/>
<line x1="437.30" y1="36.93" x2="616.40" y2="36.93" class="gl"/>
<line x1="437.30" y1="47.87" x2="616.40" y2="47.87" class="gl"/>
<line x1="437.30" y1="58.80" x2="616.40" y2="58.80" class="gl"/>
<line x1="437.30" y1="69.74" x2="616.40" y2="69.74" class="gl"/>
<line x1="437.30" y1="80.67" x2="616.40" y2="80.67" class="gl"/>
<line x1="437.30" y1="91.60" x2="616.40" y2="91.60" class="gl"/>
<line x1="437.30" y1="102.54" x2="616.40" y2="102.54" class="gl"/>
<line x1="437.30" y1="113.47" x2="616.40" y2="113.47" class="gl"/>
<line x1="437.30" y1="124.41" x2="616.40" y2="124.41" class="gl"/>
<line x1="437.30" y1="135.34" x2="616.40" y2="135.34" class="gl"/>
<line x1="437.30" y1="146.27" x2="616.40" y2="146.27" class="gl"/>
<line x1="437.30" y1="157.21" x2="616.40" y2="157.21" class="gl"/>
<line x1="437.30" y1="168.14" x2="616.40" y2="168.14" class="gl"/>
<line x1="437.30" y1="179.08" x2="616.40" y2="179.08" class="gl"/>
<line x1="437.30" y1="190.01" x2="616.40" y2="190.01" class="gl"/>
<line x1="437.30" y1="200.94" x2="616.40" y2="200.94" class="gl"/>
<line x1="437.30" y1="211.88" x2="616.40" y2="211.88" class="gl"/>
<line x1="437.30" y1="222.81" x2="616.40" y2="222.81" class="gl"/>
<line x1="437.30" y1="233.75" x2="616.40" y2="233.75" class="gl"/>
<line x1="437.30" y1="244.68" x2="616.40" y2="244.68" class="gl"/>
<line x1="437.30" y1="255.61" x2="616.40" y2="255.61" class="gl"/>
<line x1="437.30" y1="266.55" x2="616.40" y2="266.55" class="gl"/>
<line x1="437.30" y1="277.48" x2="616.40" y2="277.48" class="gl"/>
<line x1="437.30" y1="288.42" x2="616.40" y2="288.42" class="gl"/>
<line x1="437.30" y1="299.35" x2="616.40" y2="299.35" class="gl"/>
<line x1="437.30" y1="310.28" x2="616.40" y2="310.28" class="gl"/>
<line x1="437.30" y1="321.22" x2="616.40" y2="321.22" class="gl"/>
<line x1="437.30" y1="332.15" x2="616.40" y2="332.15" class="gl"/>
<line x1="437.30" y1="343.09" x2="616.40" y2="343.09" class="gl"/>
<line x1="437.30" y1="354.02" x2="616.40" y2="354.02" class="gl"/>
<line x1="437.30" y1="364.95" x2="616.40" y2="364.95" class="gl"/>
<line x1="437.30" y1="375.89" x2="616.40" y2="375.89" class="gl"/>
<line x1="437.30" y1="386.82" x2="616.40" y2="386.82" class="gl"/>
<line x1="437.30" y1="397.76" x2="616.40" y2="397.76" class="gl"/>
<line x1="437.30" y1="408.69" x2="616.40" y2="408.69" class="gl"/>
<line x1="437.30" y1="419.62" x2="616.40" y2="419.62" class="gl"/>
<line x1="437.30" y1="430.56" x2="616.40" y2="430.56" class="gl"/>
<line x1="437.30" y1="441.49" x2="616.40" y2="441.49" class="gl"/>
<line x1="437.30" y1="452.43" x2="616.40" y2="452.43" class="gl"/>
<line x1="437.30" y1="463.36" x2="616.40" y2="463.36" class="gl"/>
<line x1="437.30" y1="474.29" x2="616.40" y2="474.29" class="gl"/>
<line x1="437.30" y1="485.23" x2="616.40" y2="485.23" class="gl"/>
<line x1="437.30" y1="496.16" x2="616.40" y2="496.16" class="gl"/>
<line x1="437.30" y1="507.10" x2="616.40" y2="507.10" class="gl"/>
<line x1="437.30" y1="518.03" x2="616.40" y2="518.03" class="gl"/>
<line x1="437.30" y1="528.96" x2="616.40" y2="528.96" class="gl"/>
<line x1="437.30" y1="539.90" x2="616.40" y2="539.90" class="gl"/>
<line x1="437.30" y1="550.83" x2="616.40" y2="550.83" class="gl"/>
<line x1="437.30" y1="561.77" x2="616.40" y2="561.77" class="gl"/>
<line x1="455.21" y1="26.00" x2="455.21" y2="572.70" class="gl"/>
<line x1="473.12" y1="26.00" x2="473.12" y2="572.70" class="gl"/>
<line x1="491.03" y1="26.00" x2="491.03" y2="572.70" class="gl"/>
<line x1="508.94" y1="26.00" x2="508.94" y2="572.70" class="gl"/>
<line x1="526.85" y1="26.00" x2="526.85" y2="572.70" class="gl"/>
<line x1="544.76" y1="26.00" x2="544.76" y2="572.70" class="gl"/>
<line x1="562.67" y1="26.00" x2="562.67" y2="572.70" class="gl"/>
<line x1="580.58" y1="26.00" x2="580.58" y2="572.70" class="gl"/>
<line x1="598.49" y1="26.00" x2="598.49" y2="572.70" class="gl"/>
<rect x="437.60" y="26.30" width="178.50" height="546.10" class="gb"/>
<text class="cl" transform="translate(442.36,576.40) rotate(90)">MPIAM4_3_S</text>
<text class="cl" transform="translate(460.27,576.40) rotate(90)">MPIAW2_1_S</text>
<text class="cl" transform="translate(478.18,576.40) rotate(90)">MPICM6_1_S</text>
<text class="cl" transform="translate(496.09,576.40) rotate(90)">MPICW4_1_S</text>
<text class="cl" transform="translate(514.00,576.40) rotate(90)">MPICW4_2_S</text>
<text class="cl" transform="translate(531.90,576.40) rotate(90)">MPICW4_3_S</text>
<text class="cl" transform="translate(549.82,576.40) rotate(90)">MPIAM4_2_S</text>
<text class="cl" transform="translate(567.73,576.40) rotate(90)">MPIAW10_1_S</text>
<text class="cl" transform="translate(585.63,576.40) rotate(90)">MPIAW10_2_S</text>
<text class="cl" transform="translate(603.54,576.40) rotate(90)">MPIBW1_2_S</text>
<rect x="60.10" y="0.00" width="251.50" height="22.60" fill="#b6c5b2"/>
<text class="hd" x="187.25" y="15.70" text-anchor="middle">Commensals</text>
<rect x="338.70" y="0.00" width="71.40" height="22.60" fill="#b6c5b2"/>
<text class="hd it" x="374.40" y="15.70" text-anchor="middle">H. influenzae</text>
<rect x="437.30" y="0.00" width="179.10" height="22.60" fill="#b6c5b2"/>
<text class="hd it" x="526.15" y="15.70" text-anchor="middle">S. maltophilia</text>
<text class="rl" x="620.50" y="35.77">Haemophilus influenzae</text>
<text class="rl" x="620.50" y="46.70">Rothia mucilaginosa</text>
<text class="rl" x="620.50" y="57.63">Rothia dentocariosa</text>
<text class="rl" x="620.50" y="68.57">Staphylococcus aureus</text>
<text class="rl" x="620.50" y="79.50">Stenotrophomonas maltophilia</text>
<text class="rl" x="620.50" y="90.44">Streptococcus parasanguinis</text>
<text class="rl" x="620.50" y="101.37">Streptococcus salivarius</text>
<text class="rl" x="620.50" y="112.31">Streptococcus equinus</text>
<text class="rl" x="620.50" y="123.24">Prevotella melaninogenica</text>
<text class="rl" x="620.50" y="134.17">Streptococcus oralis</text>
<text class="rl" x="620.50" y="145.11">Veillonella atypica</text>
<text class="rl" x="620.50" y="156.04">Veillonella parvula</text>
<text class="rl" x="620.50" y="166.98">Pseudomonas aeruginosa</text>
<text class="rl" x="620.50" y="177.91">Streptococcus gordonii</text>
<text class="rl" x="620.50" y="188.84">Veillonella dispar</text>
<text class="rl" x="620.50" y="199.78">Streptococcus mitis</text>
<text class="rl" x="620.50" y="210.71">Prevotella jejuni</text>
<text class="rl" x="620.50" y="221.65">Schaalia odontolytica</text>
<text class="rl" x="620.50" y="232.58">Streptococcus sanguinis</text>
<text class="rl" x="620.50" y="243.51">Gemella sanguinis</text>
<text class="rl" x="620.50" y="254.45">Neisseria subflava</text>
<text class="rl" x="620.50" y="265.38">Haemophilus parainfluenzae</text>
<text class="rl" x="620.50" y="276.31">Bifidobacterium dentium</text>
<text class="rl" x="620.50" y="287.25">Staphylococcus epidermidis</text>
<text class="rl" x="620.50" y="298.18">Streptococcus anginosus</text>
<text class="rl" x="620.50" y="309.12">Streptococcus pseudopneumoniae</text>
<text class="rl" x="620.50" y="320.05">Streptococcus thermophilus</text>
<text class="rl" x="620.50" y="330.99">Rothia aeria</text>
<text class="rl" x="620.50" y="341.92">Gemella haemolysans</text>
<text class="rl" x="620.50" y="352.85">Streptococcus intermedius</text>
<text class="rl" x="620.50" y="363.79">Propionibacterium acidifaciens</text>
<text class="rl" x="620.50" y="374.72">Neisseria mucosa</text>
<text class="rl" x="620.50" y="385.66">Abiotrophia defectiva</text>
<text class="rl" x="620.50" y="396.59">Leptotrichia buccalis</text>
<text class="rl" x="620.50" y="407.52">Capnocytophaga gingivalis</text>
<text class="rl" x="620.50" y="418.46">Streptococcus pneumoniae</text>
<text class="rl" x="620.50" y="429.39">Streptococcus agalactiae</text>
<text class="rl" x="620.50" y="440.33">Haemophilus parahaemolyticus</text>
<text class="rl" x="620.50" y="451.26">Fusobacterium periodonticum</text>
<text class="rl" x="620.50" y="462.19">Actinomyces oris</text>
<text class="rl" x="620.50" y="473.13">Atopobium parvulum</text>
<text class="rl" x="620.50" y="484.06">Eubacterium sulci</text>
<text class="rl" x="620.50" y="495.00">Actinomyces naeslundii</text>
<text class="rl" x="620.50" y="505.93">Parvimonas micra</text>
<text class="rl" x="620.50" y="516.86">Prevotella denticola</text>
<text class="rl" x="620.50" y="527.80">Streptococcus constellatus</text>
<text class="rl" x="620.50" y="538.73">Staphylococcus argenteus</text>
<text class="rl" x="620.50" y="549.66">Capnocytophaga sputigena</text>
<text class="rl" x="620.50" y="560.60">Fusobacterium nucleatum</text>
<text class="rl" x="620.50" y="571.53">Prevotella enoeca</text>
<rect x="38.00" y="684.30" width="11.90" height="547.10" fill="#6d6d6d"/>
<rect x="38.0" y="684.3" width="11.9" height="10.9" class="B"/>
<rect x="38.0" y="706.2" width="11.9" height="10.9" class="O"/>
<rect x="38.0" y="717.1" width="11.9" height="10.9" class="O"/>
<rect x="38.0" y="728.1" width="11.9" height="10.9" class="E"/>
<rect x="38.0" y="739.0" width="11.9" height="10.9" class="R"/>
<rect x="38.0" y="750.0" width="11.9" height="10.9" class="P"/>
<rect x="38.0" y="760.9" width="11.9" height="10.9" class="E"/>
<rect x="38.0" y="771.8" width="11.9" height="10.9" class="P"/>
<rect x="38.0" y="782.8" width="11.9" height="10.9" class="O"/>
<rect x="38.0" y="793.7" width="11.9" height="10.9" class="C"/>
<rect x="38.0" y="804.7" width="11.9" height="10.9" class="E"/>
<rect x="38.0" y="815.6" width="11.9" height="10.9" class="K"/>
<rect x="38.0" y="826.5" width="11.9" height="10.9" class="R"/>
<rect x="38.0" y="837.5" width="11.9" height="10.9" class="E"/>
<rect x="38.0" y="848.4" width="11.9" height="10.9" class="P"/>
<rect x="38.0" y="859.4" width="11.9" height="10.9" class="E"/>
<rect x="38.0" y="870.3" width="11.9" height="10.9" class="E"/>
<rect x="38.0" y="881.3" width="11.9" height="10.9" class="R"/>
<rect x="38.0" y="892.2" width="11.9" height="10.9" class="R"/>
<rect x="38.0" y="903.1" width="11.9" height="10.9" class="P"/>
<rect x="38.0" y="914.1" width="11.9" height="10.9" class="O"/>
<rect x="38.0" y="925.0" width="11.9" height="10.9" class="R"/>
<rect x="38.0" y="936.0" width="11.9" height="10.9" class="E"/>
<rect x="38.0" y="946.9" width="11.9" height="10.9" class="V"/>
<rect x="38.0" y="957.9" width="11.9" height="10.9" class="R"/>
<rect x="38.0" y="968.8" width="11.9" height="10.9" class="M"/>
<rect x="38.0" y="979.7" width="11.9" height="10.9" class="M"/>
<rect x="38.0" y="1001.6" width="11.9" height="10.9" class="M"/>
<rect x="38.0" y="1012.6" width="11.9" height="10.9" class="R"/>
<rect x="38.0" y="1023.5" width="11.9" height="10.9" class="M"/>
<rect x="38.0" y="1034.4" width="11.9" height="10.9" class="R"/>
<rect x="38.0" y="1045.4" width="11.9" height="10.9" class="M"/>
<rect x="38.0" y="1056.3" width="11.9" height="10.9" class="C"/>
<rect x="38.0" y="1067.3" width="11.9" height="10.9" class="R"/>
<rect x="38.0" y="1078.2" width="11.9" height="10.9" class="C"/>
<rect x="38.0" y="1089.2" width="11.9" height="10.9" class="M"/>
<rect x="38.0" y="1100.1" width="11.9" height="10.9" class="C"/>
<rect x="38.0" y="1111.0" width="11.9" height="10.9" class="C"/>
<rect x="38.0" y="1132.9" width="11.9" height="10.9" class="V"/>
<rect x="38.0" y="1143.9" width="11.9" height="10.9" class="P"/>
<rect x="38.0" y="1154.8" width="11.9" height="10.9" class="C"/>
<rect x="38.0" y="1165.7" width="11.9" height="10.9" class="M"/>
<rect x="38.0" y="1176.7" width="11.9" height="10.9" class="B"/>
<rect x="38.0" y="1187.6" width="11.9" height="10.9" class="P"/>
<rect x="38.0" y="1198.6" width="11.9" height="10.9" class="P"/>
<rect x="38.0" y="1209.5" width="11.9" height="10.9" class="C"/>
<rect x="38.0" y="1220.5" width="11.9" height="10.9" class="M"/>
<line x1="38.00" y1="695.24" x2="49.90" y2="695.24" class="gl"/>
<line x1="38.00" y1="706.18" x2="49.90" y2="706.18" class="gl"/>
<line x1="38.00" y1="717.13" x2="49.90" y2="717.13" class="gl"/>
<line x1="38.00" y1="728.07" x2="49.90" y2="728.07" class="gl"/>
<line x1="38.00" y1="739.01" x2="49.90" y2="739.01" class="gl"/>
<line x1="38.00" y1="749.95" x2="49.90" y2="749.95" class="gl"/>
<line x1="38.00" y1="760.89" x2="49.90" y2="760.89" class="gl"/>
<line x1="38.00" y1="771.84" x2="49.90" y2="771.84" class="gl"/>
<line x1="38.00" y1="782.78" x2="49.90" y2="782.78" class="gl"/>
<line x1="38.00" y1="793.72" x2="49.90" y2="793.72" class="gl"/>
<line x1="38.00" y1="804.66" x2="49.90" y2="804.66" class="gl"/>
<line x1="38.00" y1="815.60" x2="49.90" y2="815.60" class="gl"/>
<line x1="38.00" y1="826.55" x2="49.90" y2="826.55" class="gl"/>
<line x1="38.00" y1="837.49" x2="49.90" y2="837.49" class="gl"/>
<line x1="38.00" y1="848.43" x2="49.90" y2="848.43" class="gl"/>
<line x1="38.00" y1="859.37" x2="49.90" y2="859.37" class="gl"/>
<line x1="38.00" y1="870.31" x2="49.90" y2="870.31" class="gl"/>
<line x1="38.00" y1="881.26" x2="49.90" y2="881.26" class="gl"/>
<line x1="38.00" y1="892.20" x2="49.90" y2="892.20" class="gl"/>
<line x1="38.00" y1="903.14" x2="49.90" y2="903.14" class="gl"/>
<line x1="38.00" y1="914.08" x2="49.90" y2="914.08" class="gl"/>
<line x1="38.00" y1="925.02" x2="49.90" y2="925.02" class="gl"/>
<line x1="38.00" y1="935.97" x2="49.90" y2="935.97" class="gl"/>
<line x1="38.00" y1="946.91" x2="49.90" y2="946.91" class="gl"/>
<line x1="38.00" y1="957.85" x2="49.90" y2="957.85" class="gl"/>
<line x1="38.00" y1="968.79" x2="49.90" y2="968.79" class="gl"/>
<line x1="38.00" y1="979.73" x2="49.90" y2="979.73" class="gl"/>
<line x1="38.00" y1="990.68" x2="49.90" y2="990.68" class="gl"/>
<line x1="38.00" y1="1001.62" x2="49.90" y2="1001.62" class="gl"/>
<line x1="38.00" y1="1012.56" x2="49.90" y2="1012.56" class="gl"/>
<line x1="38.00" y1="1023.50" x2="49.90" y2="1023.50" class="gl"/>
<line x1="38.00" y1="1034.44" x2="49.90" y2="1034.44" class="gl"/>
<line x1="38.00" y1="1045.39" x2="49.90" y2="1045.39" class="gl"/>
<line x1="38.00" y1="1056.33" x2="49.90" y2="1056.33" class="gl"/>
<line x1="38.00" y1="1067.27" x2="49.90" y2="1067.27" class="gl"/>
<line x1="38.00" y1="1078.21" x2="49.90" y2="1078.21" class="gl"/>
<line x1="38.00" y1="1089.15" x2="49.90" y2="1089.15" class="gl"/>
<line x1="38.00" y1="1100.10" x2="49.90" y2="1100.10" class="gl"/>
<line x1="38.00" y1="1111.04" x2="49.90" y2="1111.04" class="gl"/>
<line x1="38.00" y1="1121.98" x2="49.90" y2="1121.98" class="gl"/>
<line x1="38.00" y1="1132.92" x2="49.90" y2="1132.92" class="gl"/>
<line x1="38.00" y1="1143.86" x2="49.90" y2="1143.86" class="gl"/>
<line x1="38.00" y1="1154.81" x2="49.90" y2="1154.81" class="gl"/>
<line x1="38.00" y1="1165.75" x2="49.90" y2="1165.75" class="gl"/>
<line x1="38.00" y1="1176.69" x2="49.90" y2="1176.69" class="gl"/>
<line x1="38.00" y1="1187.63" x2="49.90" y2="1187.63" class="gl"/>
<line x1="38.00" y1="1198.57" x2="49.90" y2="1198.57" class="gl"/>
<line x1="38.00" y1="1209.52" x2="49.90" y2="1209.52" class="gl"/>
<line x1="38.00" y1="1220.46" x2="49.90" y2="1220.46" class="gl"/>
<rect x="38.30" y="684.60" width="11.30" height="546.50" class="gb"/>
<text class="cl" transform="translate(40.05,1235.10) rotate(90)">healthy</text>
<rect x="54.30" y="684.30" width="181.40" height="547.10" fill="#6d6d6d"/>
<rect x="66.4" y="684.3" width="12.1" height="10.9" class="R"/>
<rect x="102.7" y="684.3" width="12.1" height="10.9" class="V"/>
<rect x="54.3" y="695.2" width="12.1" height="10.9" class="A"/>
<rect x="66.4" y="695.2" width="12.1" height="10.9" class="O"/>
<rect x="78.5" y="695.2" width="12.1" height="10.9" class="A"/>
<rect x="90.6" y="695.2" width="12.1" height="10.9" class="A"/>
<rect x="102.7" y="695.2" width="12.1" height="10.9" class="A"/>
<rect x="114.8" y="695.2" width="12.1" height="10.9" class="A"/>
<rect x="126.9" y="695.2" width="12.1" height="10.9" class="A"/>
<rect x="139.0" y="695.2" width="12.1" height="10.9" class="O"/>
<rect x="151.0" y="695.2" width="12.1" height="10.9" class="A"/>
<rect x="163.1" y="695.2" width="12.1" height="10.9" class="A"/>
<rect x="175.2" y="695.2" width="12.1" height="10.9" class="A"/>
<rect x="187.3" y="695.2" width="12.1" height="10.9" class="A"/>
<rect x="199.4" y="695.2" width="12.1" height="10.9" class="A"/>
<rect x="211.5" y="695.2" width="12.1" height="10.9" class="A"/>
<rect x="223.6" y="695.2" width="12.1" height="10.9" class="A"/>
<rect x="54.3" y="706.2" width="12.1" height="10.9" class="E"/>
<rect x="66.4" y="706.2" width="12.1" height="10.9" class="A"/>
<rect x="78.5" y="706.2" width="12.1" height="10.9" class="V"/>
<rect x="102.7" y="706.2" width="12.1" height="10.9" class="C"/>
<rect x="139.0" y="706.2" width="12.1" height="10.9" class="E"/>
<rect x="151.0" y="706.2" width="12.1" height="10.9" class="R"/>
<rect x="163.1" y="706.2" width="12.1" height="10.9" class="B"/>
<rect x="175.2" y="706.2" width="12.1" height="10.9" class="V"/>
<rect x="187.3" y="706.2" width="12.1" height="10.9" class="V"/>
<rect x="199.4" y="706.2" width="12.1" height="10.9" class="C"/>
<rect x="211.5" y="706.2" width="12.1" height="10.9" class="P"/>
<rect x="223.6" y="706.2" width="12.1" height="10.9" class="C"/>
<rect x="126.9" y="717.1" width="12.1" height="10.9" class="P"/>
<rect x="139.0" y="717.1" width="12.1" height="10.9" class="V"/>
<rect x="163.1" y="717.1" width="12.1" height="10.9" class="P"/>
<rect x="223.6" y="717.1" width="12.1" height="10.9" class="C"/>
<rect x="54.3" y="728.1" width="12.1" height="10.9" class="V"/>
<rect x="66.4" y="728.1" width="12.1" height="10.9" class="E"/>
<rect x="78.5" y="728.1" width="12.1" height="10.9" class="P"/>
<rect x="102.7" y="728.1" width="12.1" height="10.9" class="V"/>
<rect x="126.9" y="728.1" width="12.1" height="10.9" class="R"/>
<rect x="139.0" y="728.1" width="12.1" height="10.9" class="A"/>
<rect x="151.0" y="728.1" width="12.1" height="10.9" class="E"/>
<rect x="163.1" y="728.1" width="12.1" height="10.9" class="M"/>
<rect x="175.2" y="728.1" width="12.1" height="10.9" class="P"/>
<rect x="187.3" y="728.1" width="12.1" height="10.9" class="P"/>
<rect x="199.4" y="728.1" width="12.1" height="10.9" class="C"/>
<rect x="211.5" y="728.1" width="12.1" height="10.9" class="P"/>
<rect x="223.6" y="728.1" width="12.1" height="10.9" class="C"/>
<rect x="78.5" y="739.0" width="12.1" height="10.9" class="V"/>
<rect x="102.7" y="739.0" width="12.1" height="10.9" class="V"/>
<rect x="126.9" y="739.0" width="12.1" height="10.9" class="R"/>
<rect x="139.0" y="739.0" width="12.1" height="10.9" class="C"/>
<rect x="151.0" y="739.0" width="12.1" height="10.9" class="P"/>
<rect x="163.1" y="739.0" width="12.1" height="10.9" class="M"/>
<rect x="175.2" y="739.0" width="12.1" height="10.9" class="B"/>
<rect x="223.6" y="739.0" width="12.1" height="10.9" class="B"/>
<rect x="139.0" y="750.0" width="12.1" height="10.9" class="B"/>
<rect x="187.3" y="750.0" width="12.1" height="10.9" class="P"/>
<rect x="54.3" y="760.9" width="12.1" height="10.9" class="V"/>
<rect x="66.4" y="760.9" width="12.1" height="10.9" class="C"/>
<rect x="126.9" y="760.9" width="12.1" height="10.9" class="C"/>
<rect x="139.0" y="760.9" width="12.1" height="10.9" class="O"/>
<rect x="151.0" y="760.9" width="12.1" height="10.9" class="B"/>
<rect x="175.2" y="760.9" width="12.1" height="10.9" class="B"/>
<rect x="187.3" y="760.9" width="12.1" height="10.9" class="B"/>
<rect x="211.5" y="760.9" width="12.1" height="10.9" class="B"/>
<rect x="223.6" y="760.9" width="12.1" height="10.9" class="M"/>
<rect x="139.0" y="771.8" width="12.1" height="10.9" class="V"/>
<rect x="151.0" y="771.8" width="12.1" height="10.9" class="A"/>
<rect x="187.3" y="771.8" width="12.1" height="10.9" class="A"/>
<rect x="223.6" y="771.8" width="12.1" height="10.9" class="V"/>
<rect x="78.5" y="782.8" width="12.1" height="10.9" class="C"/>
<rect x="126.9" y="782.8" width="12.1" height="10.9" class="P"/>
<rect x="139.0" y="782.8" width="12.1" height="10.9" class="E"/>
<rect x="151.0" y="782.8" width="12.1" height="10.9" class="C"/>
<rect x="163.1" y="782.8" width="12.1" height="10.9" class="V"/>
<rect x="175.2" y="782.8" width="12.1" height="10.9" class="B"/>
<rect x="187.3" y="782.8" width="12.1" height="10.9" class="P"/>
<rect x="199.4" y="782.8" width="12.1" height="10.9" class="M"/>
<rect x="211.5" y="782.8" width="12.1" height="10.9" class="B"/>
<rect x="223.6" y="782.8" width="12.1" height="10.9" class="E"/>
<rect x="54.3" y="793.7" width="12.1" height="10.9" class="B"/>
<rect x="66.4" y="793.7" width="12.1" height="10.9" class="R"/>
<rect x="102.7" y="793.7" width="12.1" height="10.9" class="R"/>
<rect x="126.9" y="793.7" width="12.1" height="10.9" class="P"/>
<rect x="139.0" y="793.7" width="12.1" height="10.9" class="M"/>
<rect x="151.0" y="793.7" width="12.1" height="10.9" class="V"/>
<rect x="175.2" y="793.7" width="12.1" height="10.9" class="M"/>
<rect x="187.3" y="793.7" width="12.1" height="10.9" class="V"/>
<rect x="199.4" y="793.7" width="12.1" height="10.9" class="M"/>
<rect x="211.5" y="793.7" width="12.1" height="10.9" class="B"/>
<rect x="223.6" y="793.7" width="12.1" height="10.9" class="V"/>
<rect x="54.3" y="804.7" width="12.1" height="10.9" class="B"/>
<rect x="66.4" y="804.7" width="12.1" height="10.9" class="V"/>
<rect x="139.0" y="804.7" width="12.1" height="10.9" class="O"/>
<rect x="151.0" y="804.7" width="12.1" height="10.9" class="P"/>
<rect x="163.1" y="804.7" width="12.1" height="10.9" class="B"/>
<rect x="199.4" y="804.7" width="12.1" height="10.9" class="C"/>
<rect x="211.5" y="804.7" width="12.1" height="10.9" class="B"/>
<rect x="223.6" y="804.7" width="12.1" height="10.9" class="R"/>
<rect x="66.4" y="815.6" width="12.1" height="10.9" class="B"/>
<rect x="54.3" y="826.5" width="12.1" height="10.9" class="M"/>
<rect x="66.4" y="826.5" width="12.1" height="10.9" class="A"/>
<rect x="102.7" y="826.5" width="12.1" height="10.9" class="R"/>
<rect x="126.9" y="826.5" width="12.1" height="10.9" class="B"/>
<rect x="139.0" y="826.5" width="12.1" height="10.9" class="P"/>
<rect x="151.0" y="826.5" width="12.1" height="10.9" class="M"/>
<rect x="163.1" y="826.5" width="12.1" height="10.9" class="P"/>
<rect x="175.2" y="826.5" width="12.1" height="10.9" class="R"/>
<rect x="211.5" y="826.5" width="12.1" height="10.9" class="B"/>
<rect x="223.6" y="826.5" width="12.1" height="10.9" class="P"/>
<rect x="54.3" y="837.5" width="12.1" height="10.9" class="B"/>
<rect x="66.4" y="837.5" width="12.1" height="10.9" class="B"/>
<rect x="102.7" y="837.5" width="12.1" height="10.9" class="V"/>
<rect x="139.0" y="837.5" width="12.1" height="10.9" class="R"/>
<rect x="151.0" y="837.5" width="12.1" height="10.9" class="P"/>
<rect x="199.4" y="837.5" width="12.1" height="10.9" class="P"/>
<rect x="211.5" y="837.5" width="12.1" height="10.9" class="N"/>
<rect x="223.6" y="837.5" width="12.1" height="10.9" class="C"/>
<rect x="126.9" y="848.4" width="12.1" height="10.9" class="B"/>
<rect x="187.3" y="848.4" width="12.1" height="10.9" class="B"/>
<rect x="223.6" y="848.4" width="12.1" height="10.9" class="M"/>
<rect x="54.3" y="859.4" width="12.1" height="10.9" class="N"/>
<rect x="139.0" y="859.4" width="12.1" height="10.9" class="V"/>
<rect x="199.4" y="859.4" width="12.1" height="10.9" class="C"/>
<rect x="223.6" y="859.4" width="12.1" height="10.9" class="R"/>
<rect x="139.0" y="870.3" width="12.1" height="10.9" class="R"/>
<rect x="175.2" y="870.3" width="12.1" height="10.9" class="N"/>
<rect x="199.4" y="870.3" width="12.1" height="10.9" class="P"/>
<rect x="223.6" y="870.3" width="12.1" height="10.9" class="V"/>
<rect x="54.3" y="881.3" width="12.1" height="10.9" class="M"/>
<rect x="66.4" y="881.3" width="12.1" height="10.9" class="E"/>
<rect x="126.9" y="881.3" width="12.1" height="10.9" class="P"/>
<rect x="139.0" y="881.3" width="12.1" height="10.9" class="R"/>
<rect x="151.0" y="881.3" width="12.1" height="10.9" class="V"/>
<rect x="175.2" y="881.3" width="12.1" height="10.9" class="B"/>
<rect x="187.3" y="881.3" width="12.1" height="10.9" class="V"/>
<rect x="223.6" y="881.3" width="12.1" height="10.9" class="P"/>
<rect x="54.3" y="892.2" width="12.1" height="10.9" class="M"/>
<rect x="66.4" y="892.2" width="12.1" height="10.9" class="E"/>
<rect x="102.7" y="892.2" width="12.1" height="10.9" class="P"/>
<rect x="126.9" y="892.2" width="12.1" height="10.9" class="B"/>
<rect x="139.0" y="892.2" width="12.1" height="10.9" class="B"/>
<rect x="151.0" y="892.2" width="12.1" height="10.9" class="M"/>
<rect x="199.4" y="892.2" width="12.1" height="10.9" class="V"/>
<rect x="211.5" y="892.2" width="12.1" height="10.9" class="N"/>
<rect x="223.6" y="892.2" width="12.1" height="10.9" class="B"/>
<rect x="126.9" y="903.1" width="12.1" height="10.9" class="P"/>
<rect x="139.0" y="903.1" width="12.1" height="10.9" class="V"/>
<rect x="175.2" y="903.1" width="12.1" height="10.9" class="B"/>
<rect x="223.6" y="914.1" width="12.1" height="10.9" class="V"/>
<rect x="54.3" y="925.0" width="12.1" height="10.9" class="V"/>
<rect x="66.4" y="925.0" width="12.1" height="10.9" class="R"/>
<rect x="102.7" y="925.0" width="12.1" height="10.9" class="R"/>
<rect x="126.9" y="925.0" width="12.1" height="10.9" class="P"/>
<rect x="139.0" y="925.0" width="12.1" height="10.9" class="C"/>
<rect x="163.1" y="925.0" width="12.1" height="10.9" class="B"/>
<rect x="175.2" y="925.0" width="12.1" height="10.9" class="P"/>
<rect x="223.6" y="925.0" width="12.1" height="10.9" class="P"/>
<rect x="139.0" y="936.0" width="12.1" height="10.9" class="P"/>
<rect x="223.6" y="936.0" width="12.1" height="10.9" class="P"/>
<rect x="151.0" y="946.9" width="12.1" height="10.9" class="V"/>
<rect x="54.3" y="957.9" width="12.1" height="10.9" class="B"/>
<rect x="102.7" y="957.9" width="12.1" height="10.9" class="M"/>
<rect x="139.0" y="957.9" width="12.1" height="10.9" class="V"/>
<rect x="175.2" y="957.9" width="12.1" height="10.9" class="B"/>
<rect x="223.6" y="957.9" width="12.1" height="10.9" class="P"/>
<rect x="139.0" y="968.8" width="12.1" height="10.9" class="V"/>
<rect x="187.3" y="968.8" width="12.1" height="10.9" class="E"/>
<rect x="223.6" y="968.8" width="12.1" height="10.9" class="M"/>
<rect x="139.0" y="979.7" width="12.1" height="10.9" class="V"/>
<rect x="187.3" y="979.7" width="12.1" height="10.9" class="C"/>
<rect x="223.6" y="979.7" width="12.1" height="10.9" class="C"/>
<rect x="54.3" y="1001.6" width="12.1" height="10.9" class="N"/>
<rect x="66.4" y="1001.6" width="12.1" height="10.9" class="P"/>
<rect x="102.7" y="1001.6" width="12.1" height="10.9" class="E"/>
<rect x="126.9" y="1001.6" width="12.1" height="10.9" class="B"/>
<rect x="139.0" y="1001.6" width="12.1" height="10.9" class="V"/>
<rect x="175.2" y="1001.6" width="12.1" height="10.9" class="B"/>
<rect x="223.6" y="1001.6" width="12.1" height="10.9" class="B"/>
<rect x="223.6" y="1012.6" width="12.1" height="10.9" class="V"/>
<rect x="126.9" y="1023.5" width="12.1" height="10.9" class="M"/>
<rect x="139.0" y="1023.5" width="12.1" height="10.9" class="V"/>
<rect x="223.6" y="1023.5" width="12.1" height="10.9" class="R"/>
<rect x="187.3" y="1034.4" width="12.1" height="10.9" class="M"/>
<rect x="223.6" y="1034.4" width="12.1" height="10.9" class="V"/>
<rect x="54.3" y="1045.4" width="12.1" height="10.9" class="B"/>
<rect x="66.4" y="1045.4" width="12.1" height="10.9" class="M"/>
<rect x="139.0" y="1045.4" width="12.1" height="10.9" class="B"/>
<rect x="151.0" y="1045.4" width="12.1" height="10.9" class="V"/>
<rect x="163.1" y="1045.4" width="12.1" height="10.9" class="P"/>
<rect x="223.6" y="1045.4" width="12.1" height="10.9" class="B"/>
<rect x="54.3" y="1056.3" width="12.1" height="10.9" class="B"/>
<rect x="66.4" y="1056.3" width="12.1" height="10.9" class="M"/>
<rect x="102.7" y="1056.3" width="12.1" height="10.9" class="M"/>
<rect x="126.9" y="1056.3" width="12.1" height="10.9" class="V"/>
<rect x="139.0" y="1056.3" width="12.1" height="10.9" class="P"/>
<rect x="175.2" y="1056.3" width="12.1" height="10.9" class="B"/>
<rect x="223.6" y="1056.3" width="12.1" height="10.9" class="V"/>
<rect x="126.9" y="1067.3" width="12.1" height="10.9" class="B"/>
<rect x="139.0" y="1067.3" width="12.1" height="10.9" class="N"/>
<rect x="163.1" y="1067.3" width="12.1" height="10.9" class="P"/>
<rect x="223.6" y="1067.3" width="12.1" height="10.9" class="N"/>
<rect x="139.0" y="1078.2" width="12.1" height="10.9" class="B"/>
<rect x="223.6" y="1078.2" width="12.1" height="10.9" class="B"/>
<rect x="139.0" y="1089.2" width="12.1" height="10.9" class="V"/>
<rect x="223.6" y="1089.2" width="12.1" height="10.9" class="V"/>
<rect x="54.3" y="1111.0" width="12.1" height="10.9" class="B"/>
<rect x="66.4" y="1111.0" width="12.1" height="10.9" class="C"/>
<rect x="102.7" y="1111.0" width="12.1" height="10.9" class="P"/>
<rect x="126.9" y="1111.0" width="12.1" height="10.9" class="B"/>
<rect x="139.0" y="1111.0" width="12.1" height="10.9" class="V"/>
<rect x="175.2" y="1111.0" width="12.1" height="10.9" class="B"/>
<rect x="223.6" y="1111.0" width="12.1" height="10.9" class="V"/>
<rect x="139.0" y="1132.9" width="12.1" height="10.9" class="B"/>
<rect x="139.0" y="1143.9" width="12.1" height="10.9" class="P"/>
<rect x="187.3" y="1143.9" width="12.1" height="10.9" class="R"/>
<rect x="223.6" y="1143.9" width="12.1" height="10.9" class="V"/>
<rect x="139.0" y="1154.8" width="12.1" height="10.9" class="M"/>
<rect x="223.6" y="1154.8" width="12.1" height="10.9" class="B"/>
<rect x="66.4" y="1165.7" width="12.1" height="10.9" class="V"/>
<rect x="139.0" y="1165.7" width="12.1" height="10.9" class="C"/>
<rect x="163.1" y="1165.7" width="12.1" height="10.9" class="B"/>
<rect x="66.4" y="1187.6" width="12.1" height="10.9" class="B"/>
<rect x="139.0" y="1187.6" width="12.1" height="10.9" class="V"/>
<rect x="139.0" y="1198.6" width="12.1" height="10.9" class="B"/>
<rect x="223.6" y="1198.6" width="12.1" height="10.9" class="B"/>
<rect x="102.7" y="1209.5" width="12.1" height="10.9" class="B"/>
<rect x="163.1" y="1209.5" width="12.1" height="10.9" class="V"/>
<rect x="223.6" y="1209.5" width="12.1" height="10.9" class="B"/>
<rect x="223.6" y="1220.5" width="12.1" height="10.9" class="V"/>
<line x1="54.30" y1="695.24" x2="235.70" y2="695.24" class="gl"/>
<line x1="54.30" y1="706.18" x2="235.70" y2="706.18" class="gl"/>
<line x1="54.30" y1="717.13" x2="235.70" y2="717.13" class="gl"/>
<line x1="54.30" y1="728.07" x2="235.70" y2="728.07" class="gl"/>
<line x1="54.30" y1="739.01" x2="235.70" y2="739.01" class="gl"/>
<line x1="54.30" y1="749.95" x2="235.70" y2="749.95" class="gl"/>
<line x1="54.30" y1="760.89" x2="235.70" y2="760.89" class="gl"/>
<line x1="54.30" y1="771.84" x2="235.70" y2="771.84" class="gl"/>
<line x1="54.30" y1="782.78" x2="235.70" y2="782.78" class="gl"/>
<line x1="54.30" y1="793.72" x2="235.70" y2="793.72" class="gl"/>
<line x1="54.30" y1="804.66" x2="235.70" y2="804.66" class="gl"/>
<line x1="54.30" y1="815.60" x2="235.70" y2="815.60" class="gl"/>
<line x1="54.30" y1="826.55" x2="235.70" y2="826.55" class="gl"/>
<line x1="54.30" y1="837.49" x2="235.70" y2="837.49" class="gl"/>
<line x1="54.30" y1="848.43" x2="235.70" y2="848.43" class="gl"/>
<line x1="54.30" y1="859.37" x2="235.70" y2="859.37" class="gl"/>
<line x1="54.30" y1="870.31" x2="235.70" y2="870.31" class="gl"/>
<line x1="54.30" y1="881.26" x2="235.70" y2="881.26" class="gl"/>
<line x1="54.30" y1="892.20" x2="235.70" y2="892.20" class="gl"/>
<line x1="54.30" y1="903.14" x2="235.70" y2="903.14" class="gl"/>
<line x1="54.30" y1="914.08" x2="235.70" y2="914.08" class="gl"/>
<line x1="54.30" y1="925.02" x2="235.70" y2="925.02" class="gl"/>
<line x1="54.30" y1="935.97" x2="235.70" y2="935.97" class="gl"/>
<line x1="54.30" y1="946.91" x2="235.70" y2="946.91" class="gl"/>
<line x1="54.30" y1="957.85" x2="235.70" y2="957.85" class="gl"/>
<line x1="54.30" y1="968.79" x2="235.70" y2="968.79" class="gl"/>
<line x1="54.30" y1="979.73" x2="235.70" y2="979.73" class="gl"/>
<line x1="54.30" y1="990.68" x2="235.70" y2="990.68" class="gl"/>
<line x1="54.30" y1="1001.62" x2="235.70" y2="1001.62" class="gl"/>
<line x1="54.30" y1="1012.56" x2="235.70" y2="1012.56" class="gl"/>
<line x1="54.30" y1="1023.50" x2="235.70" y2="1023.50" class="gl"/>
<line x1="54.30" y1="1034.44" x2="235.70" y2="1034.44" class="gl"/>
<line x1="54.30" y1="1045.39" x2="235.70" y2="1045.39" class="gl"/>
<line x1="54.30" y1="1056.33" x2="235.70" y2="1056.33" class="gl"/>
<line x1="54.30" y1="1067.27" x2="235.70" y2="1067.27" class="gl"/>
<line x1="54.30" y1="1078.21" x2="235.70" y2="1078.21" class="gl"/>
<line x1="54.30" y1="1089.15" x2="235.70" y2="1089.15" class="gl"/>
<line x1="54.30" y1="1100.10" x2="235.70" y2="1100.10" class="gl"/>
<line x1="54.30" y1="1111.04" x2="235.70" y2="1111.04" class="gl"/>
<line x1="54.30" y1="1121.98" x2="235.70" y2="1121.98" class="gl"/>
<line x1="54.30" y1="1132.92" x2="235.70" y2="1132.92" class="gl"/>
<line x1="54.30" y1="1143.86" x2="235.70" y2="1143.86" class="gl"/>
<line x1="54.30" y1="1154.81" x2="235.70" y2="1154.81" class="gl"/>
<line x1="54.30" y1="1165.75" x2="235.70" y2="1165.75" class="gl"/>
<line x1="54.30" y1="1176.69" x2="235.70" y2="1176.69" class="gl"/>
<line x1="54.30" y1="1187.63" x2="235.70" y2="1187.63" class="gl"/>
<line x1="54.30" y1="1198.57" x2="235.70" y2="1198.57" class="gl"/>
<line x1="54.30" y1="1209.52" x2="235.70" y2="1209.52" class="gl"/>
<line x1="54.30" y1="1220.46" x2="235.70" y2="1220.46" class="gl"/>
<line x1="66.39" y1="684.30" x2="66.39" y2="1231.40" class="gl"/>
<line x1="78.49" y1="684.30" x2="78.49" y2="1231.40" class="gl"/>
<line x1="90.58" y1="684.30" x2="90.58" y2="1231.40" class="gl"/>
<line x1="102.67" y1="684.30" x2="102.67" y2="1231.40" class="gl"/>
<line x1="114.77" y1="684.30" x2="114.77" y2="1231.40" class="gl"/>
<line x1="126.86" y1="684.30" x2="126.86" y2="1231.40" class="gl"/>
<line x1="138.95" y1="684.30" x2="138.95" y2="1231.40" class="gl"/>
<line x1="151.05" y1="684.30" x2="151.05" y2="1231.40" class="gl"/>
<line x1="163.14" y1="684.30" x2="163.14" y2="1231.40" class="gl"/>
<line x1="175.23" y1="684.30" x2="175.23" y2="1231.40" class="gl"/>
<line x1="187.33" y1="684.30" x2="187.33" y2="1231.40" class="gl"/>
<line x1="199.42" y1="684.30" x2="199.42" y2="1231.40" class="gl"/>
<line x1="211.51" y1="684.30" x2="211.51" y2="1231.40" class="gl"/>
<line x1="223.61" y1="684.30" x2="223.61" y2="1231.40" class="gl"/>
<rect x="54.60" y="684.60" width="180.80" height="546.50" class="gb"/>
<text class="cl" transform="translate(56.45,1235.10) rotate(90)">MPIAM5_1_S</text>
<text class="cl" transform="translate(68.54,1235.10) rotate(90)">MPIAM7_1_S</text>
<text class="cl" transform="translate(80.63,1235.10) rotate(90)">MPIAW4_1_S</text>
<text class="cl" transform="translate(92.73,1235.10) rotate(90)">MPIBM1_1_S</text>
<text class="cl" transform="translate(104.82,1235.10) rotate(90)">MPIBM1_3_S</text>
<text class="cl" transform="translate(116.91,1235.10) rotate(90)">MPIBM1_4_S</text>
<text class="cl" transform="translate(129.01,1235.10) rotate(90)">MPICM2_1_S</text>
<text class="cl" transform="translate(141.10,1235.10) rotate(90)">MPICM3_1_S</text>
<text class="cl" transform="translate(153.19,1235.10) rotate(90)">MPICM4_1_S</text>
<text class="cl" transform="translate(165.29,1235.10) rotate(90)">MPICM5_1_S</text>
<text class="cl" transform="translate(177.38,1235.10) rotate(90)">MPICW3_1_S</text>
<text class="cl" transform="translate(189.47,1235.10) rotate(90)">MPICW7_1_S</text>
<text class="cl" transform="translate(201.57,1235.10) rotate(90)">MPSCW1_3_S</text>
<text class="cl" transform="translate(213.66,1235.10) rotate(90)">MPSCW1_4_S</text>
<text class="cl" transform="translate(225.75,1235.10) rotate(90)">MPSCW2_1_S</text>
<rect x="240.20" y="684.30" width="12.20" height="547.10" fill="#6d6d6d"/>
<rect x="240.2" y="684.3" width="12.2" height="10.9" class="B"/>
<rect x="240.2" y="706.2" width="12.2" height="10.9" class="O"/>
<rect x="240.2" y="717.1" width="12.2" height="10.9" class="O"/>
<rect x="240.2" y="728.1" width="12.2" height="10.9" class="E"/>
<rect x="240.2" y="739.0" width="12.2" height="10.9" class="R"/>
<rect x="240.2" y="750.0" width="12.2" height="10.9" class="P"/>
<rect x="240.2" y="760.9" width="12.2" height="10.9" class="E"/>
<rect x="240.2" y="771.8" width="12.2" height="10.9" class="P"/>
<rect x="240.2" y="782.8" width="12.2" height="10.9" class="O"/>
<rect x="240.2" y="793.7" width="12.2" height="10.9" class="C"/>
<rect x="240.2" y="804.7" width="12.2" height="10.9" class="E"/>
<rect x="240.2" y="815.6" width="12.2" height="10.9" class="K"/>
<rect x="240.2" y="826.5" width="12.2" height="10.9" class="R"/>
<rect x="240.2" y="837.5" width="12.2" height="10.9" class="E"/>
<rect x="240.2" y="848.4" width="12.2" height="10.9" class="P"/>
<rect x="240.2" y="859.4" width="12.2" height="10.9" class="E"/>
<rect x="240.2" y="870.3" width="12.2" height="10.9" class="E"/>
<rect x="240.2" y="881.3" width="12.2" height="10.9" class="R"/>
<rect x="240.2" y="892.2" width="12.2" height="10.9" class="R"/>
<rect x="240.2" y="903.1" width="12.2" height="10.9" class="P"/>
<rect x="240.2" y="914.1" width="12.2" height="10.9" class="O"/>
<rect x="240.2" y="925.0" width="12.2" height="10.9" class="R"/>
<rect x="240.2" y="936.0" width="12.2" height="10.9" class="E"/>
<rect x="240.2" y="946.9" width="12.2" height="10.9" class="V"/>
<rect x="240.2" y="957.9" width="12.2" height="10.9" class="R"/>
<rect x="240.2" y="968.8" width="12.2" height="10.9" class="M"/>
<rect x="240.2" y="979.7" width="12.2" height="10.9" class="M"/>
<rect x="240.2" y="1001.6" width="12.2" height="10.9" class="M"/>
<rect x="240.2" y="1012.6" width="12.2" height="10.9" class="R"/>
<rect x="240.2" y="1023.5" width="12.2" height="10.9" class="M"/>
<rect x="240.2" y="1034.4" width="12.2" height="10.9" class="R"/>
<rect x="240.2" y="1045.4" width="12.2" height="10.9" class="M"/>
<rect x="240.2" y="1056.3" width="12.2" height="10.9" class="C"/>
<rect x="240.2" y="1067.3" width="12.2" height="10.9" class="R"/>
<rect x="240.2" y="1078.2" width="12.2" height="10.9" class="C"/>
<rect x="240.2" y="1089.2" width="12.2" height="10.9" class="M"/>
<rect x="240.2" y="1100.1" width="12.2" height="10.9" class="C"/>
<rect x="240.2" y="1111.0" width="12.2" height="10.9" class="C"/>
<rect x="240.2" y="1132.9" width="12.2" height="10.9" class="V"/>
<rect x="240.2" y="1143.9" width="12.2" height="10.9" class="P"/>
<rect x="240.2" y="1154.8" width="12.2" height="10.9" class="C"/>
<rect x="240.2" y="1165.7" width="12.2" height="10.9" class="M"/>
<rect x="240.2" y="1176.7" width="12.2" height="10.9" class="B"/>
<rect x="240.2" y="1187.6" width="12.2" height="10.9" class="P"/>
<rect x="240.2" y="1198.6" width="12.2" height="10.9" class="P"/>
<rect x="240.2" y="1209.5" width="12.2" height="10.9" class="C"/>
<rect x="240.2" y="1220.5" width="12.2" height="10.9" class="M"/>
<line x1="240.20" y1="695.24" x2="252.40" y2="695.24" class="gl"/>
<line x1="240.20" y1="706.18" x2="252.40" y2="706.18" class="gl"/>
<line x1="240.20" y1="717.13" x2="252.40" y2="717.13" class="gl"/>
<line x1="240.20" y1="728.07" x2="252.40" y2="728.07" class="gl"/>
<line x1="240.20" y1="739.01" x2="252.40" y2="739.01" class="gl"/>
<line x1="240.20" y1="749.95" x2="252.40" y2="749.95" class="gl"/>
<line x1="240.20" y1="760.89" x2="252.40" y2="760.89" class="gl"/>
<line x1="240.20" y1="771.84" x2="252.40" y2="771.84" class="gl"/>
<line x1="240.20" y1="782.78" x2="252.40" y2="782.78" class="gl"/>
<line x1="240.20" y1="793.72" x2="252.40" y2="793.72" class="gl"/>
<line x1="240.20" y1="804.66" x2="252.40" y2="804.66" class="gl"/>
<line x1="240.20" y1="815.60" x2="252.40" y2="815.60" class="gl"/>
<line x1="240.20" y1="826.55" x2="252.40" y2="826.55" class="gl"/>
<line x1="240.20" y1="837.49" x2="252.40" y2="837.49" class="gl"/>
<line x1="240.20" y1="848.43" x2="252.40" y2="848.43" class="gl"/>
<line x1="240.20" y1="859.37" x2="252.40" y2="859.37" class="gl"/>
<line x1="240.20" y1="870.31" x2="252.40" y2="870.31" class="gl"/>
<line x1="240.20" y1="881.26" x2="252.40" y2="881.26" class="gl"/>
<line x1="240.20" y1="892.20" x2="252.40" y2="892.20" class="gl"/>
<line x1="240.20" y1="903.14" x2="252.40" y2="903.14" class="gl"/>
<line x1="240.20" y1="914.08" x2="252.40" y2="914.08" class="gl"/>
<line x1="240.20" y1="925.02" x2="252.40" y2="925.02" class="gl"/>
<line x1="240.20" y1="935.97" x2="252.40" y2="935.97" class="gl"/>
<line x1="240.20" y1="946.91" x2="252.40" y2="946.91" class="gl"/>
<line x1="240.20" y1="957.85" x2="252.40" y2="957.85" class="gl"/>
<line x1="240.20" y1="968.79" x2="252.40" y2="968.79" class="gl"/>
<line x1="240.20" y1="979.73" x2="252.40" y2="979.73" class="gl"/>
<line x1="240.20" y1="990.68" x2="252.40" y2="990.68" class="gl"/>
<line x1="240.20" y1="1001.62" x2="252.40" y2="1001.62" class="gl"/>
<line x1="240.20" y1="1012.56" x2="252.40" y2="1012.56" class="gl"/>
<line x1="240.20" y1="1023.50" x2="252.40" y2="1023.50" class="gl"/>
<line x1="240.20" y1="1034.44" x2="252.40" y2="1034.44" class="gl"/>
<line x1="240.20" y1="1045.39" x2="252.40" y2="1045.39" class="gl"/>
<line x1="240.20" y1="1056.33" x2="252.40" y2="1056.33" class="gl"/>
<line x1="240.20" y1="1067.27" x2="252.40" y2="1067.27" class="gl"/>
<line x1="240.20" y1="1078.21" x2="252.40" y2="1078.21" class="gl"/>
<line x1="240.20" y1="1089.15" x2="252.40" y2="1089.15" class="gl"/>
<line x1="240.20" y1="1100.10" x2="252.40" y2="1100.10" class="gl"/>
<line x1="240.20" y1="1111.04" x2="252.40" y2="1111.04" class="gl"/>
<line x1="240.20" y1="1121.98" x2="252.40" y2="1121.98" class="gl"/>
<line x1="240.20" y1="1132.92" x2="252.40" y2="1132.92" class="gl"/>
<line x1="240.20" y1="1143.86" x2="252.40" y2="1143.86" class="gl"/>
<line x1="240.20" y1="1154.81" x2="252.40" y2="1154.81" class="gl"/>
<line x1="240.20" y1="1165.75" x2="252.40" y2="1165.75" class="gl"/>
<line x1="240.20" y1="1176.69" x2="252.40" y2="1176.69" class="gl"/>
<line x1="240.20" y1="1187.63" x2="252.40" y2="1187.63" class="gl"/>
<line x1="240.20" y1="1198.57" x2="252.40" y2="1198.57" class="gl"/>
<line x1="240.20" y1="1209.52" x2="252.40" y2="1209.52" class="gl"/>
<line x1="240.20" y1="1220.46" x2="252.40" y2="1220.46" class="gl"/>
<rect x="240.50" y="684.60" width="11.60" height="546.50" class="gb"/>
<text class="cl" transform="translate(242.40,1235.10) rotate(90)">healthy</text>
<rect x="256.90" y="684.30" width="181.60" height="547.10" fill="#6d6d6d"/>
<rect x="256.9" y="684.3" width="12.1" height="10.9" class="Y"/>
<rect x="269.0" y="684.3" width="12.1" height="10.9" class="A"/>
<rect x="281.1" y="684.3" width="12.1" height="10.9" class="Y"/>
<rect x="293.2" y="684.3" width="12.1" height="10.9" class="Y"/>
<rect x="305.3" y="684.3" width="12.1" height="10.9" class="Y"/>
<rect x="317.4" y="684.3" width="12.1" height="10.9" class="A"/>
<rect x="329.5" y="684.3" width="12.1" height="10.9" class="Y"/>
<rect x="341.6" y="684.3" width="12.1" height="10.9" class="E"/>
<rect x="353.8" y="684.3" width="12.1" height="10.9" class="Y"/>
<rect x="365.9" y="684.3" width="12.1" height="10.9" class="A"/>
<rect x="378.0" y="684.3" width="12.1" height="10.9" class="O"/>
<rect x="390.1" y="684.3" width="12.1" height="10.9" class="E"/>
<rect x="402.2" y="684.3" width="12.1" height="10.9" class="A"/>
<rect x="414.3" y="684.3" width="12.1" height="10.9" class="O"/>
<rect x="426.4" y="684.3" width="12.1" height="10.9" class="A"/>
<rect x="256.9" y="695.2" width="12.1" height="10.9" class="B"/>
<rect x="341.6" y="695.2" width="12.1" height="10.9" class="A"/>
<rect x="256.9" y="706.2" width="12.1" height="10.9" class="E"/>
<rect x="269.0" y="706.2" width="12.1" height="10.9" class="O"/>
<rect x="281.1" y="706.2" width="12.1" height="10.9" class="O"/>
<rect x="293.2" y="706.2" width="12.1" height="10.9" class="C"/>
<rect x="305.3" y="706.2" width="12.1" height="10.9" class="M"/>
<rect x="317.4" y="706.2" width="12.1" height="10.9" class="O"/>
<rect x="341.6" y="706.2" width="12.1" height="10.9" class="V"/>
<rect x="353.8" y="706.2" width="12.1" height="10.9" class="M"/>
<rect x="365.9" y="706.2" width="12.1" height="10.9" class="E"/>
<rect x="378.0" y="706.2" width="12.1" height="10.9" class="R"/>
<rect x="390.1" y="706.2" width="12.1" height="10.9" class="Y"/>
<rect x="402.2" y="706.2" width="12.1" height="10.9" class="E"/>
<rect x="426.4" y="706.2" width="12.1" height="10.9" class="P"/>
<rect x="256.9" y="717.1" width="12.1" height="10.9" class="C"/>
<rect x="269.0" y="717.1" width="12.1" height="10.9" class="M"/>
<rect x="281.1" y="717.1" width="12.1" height="10.9" class="E"/>
<rect x="317.4" y="717.1" width="12.1" height="10.9" class="A"/>
<rect x="365.9" y="717.1" width="12.1" height="10.9" class="O"/>
<rect x="378.0" y="717.1" width="12.1" height="10.9" class="O"/>
<rect x="390.1" y="717.1" width="12.1" height="10.9" class="A"/>
<rect x="402.2" y="717.1" width="12.1" height="10.9" class="C"/>
<rect x="414.3" y="717.1" width="12.1" height="10.9" class="R"/>
<rect x="426.4" y="717.1" width="12.1" height="10.9" class="C"/>
<rect x="256.9" y="728.1" width="12.1" height="10.9" class="M"/>
<rect x="269.0" y="728.1" width="12.1" height="10.9" class="O"/>
<rect x="281.1" y="728.1" width="12.1" height="10.9" class="B"/>
<rect x="305.3" y="728.1" width="12.1" height="10.9" class="M"/>
<rect x="317.4" y="728.1" width="12.1" height="10.9" class="V"/>
<rect x="341.6" y="728.1" width="12.1" height="10.9" class="V"/>
<rect x="365.9" y="728.1" width="12.1" height="10.9" class="O"/>
<rect x="378.0" y="728.1" width="12.1" height="10.9" class="E"/>
<rect x="426.4" y="728.1" width="12.1" height="10.9" class="E"/>
<rect x="256.9" y="739.0" width="12.1" height="10.9" class="E"/>
<rect x="269.0" y="739.0" width="12.1" height="10.9" class="C"/>
<rect x="281.1" y="739.0" width="12.1" height="10.9" class="R"/>
<rect x="293.2" y="739.0" width="12.1" height="10.9" class="C"/>
<rect x="341.6" y="739.0" width="12.1" height="10.9" class="V"/>
<rect x="353.8" y="739.0" width="12.1" height="10.9" class="M"/>
<rect x="365.9" y="739.0" width="12.1" height="10.9" class="C"/>
<rect x="378.0" y="739.0" width="12.1" height="10.9" class="B"/>
<rect x="402.2" y="739.0" width="12.1" height="10.9" class="O"/>
<rect x="414.3" y="739.0" width="12.1" height="10.9" class="V"/>
<rect x="426.4" y="739.0" width="12.1" height="10.9" class="O"/>
<rect x="365.9" y="750.0" width="12.1" height="10.9" class="P"/>
<rect x="378.0" y="750.0" width="12.1" height="10.9" class="M"/>
<rect x="390.1" y="750.0" width="12.1" height="10.9" class="M"/>
<rect x="402.2" y="750.0" width="12.1" height="10.9" class="M"/>
<rect x="414.3" y="750.0" width="12.1" height="10.9" class="Y"/>
<rect x="426.4" y="750.0" width="12.1" height="10.9" class="C"/>
<rect x="256.9" y="760.9" width="12.1" height="10.9" class="M"/>
<rect x="269.0" y="760.9" width="12.1" height="10.9" class="A"/>
<rect x="341.6" y="760.9" width="12.1" height="10.9" class="M"/>
<rect x="365.9" y="760.9" width="12.1" height="10.9" class="E"/>
<rect x="378.0" y="760.9" width="12.1" height="10.9" class="E"/>
<rect x="426.4" y="760.9" width="12.1" height="10.9" class="O"/>
<rect x="269.0" y="771.8" width="12.1" height="10.9" class="N"/>
<rect x="365.9" y="771.8" width="12.1" height="10.9" class="B"/>
<rect x="378.0" y="771.8" width="12.1" height="10.9" class="V"/>
<rect x="402.2" y="771.8" width="12.1" height="10.9" class="R"/>
<rect x="426.4" y="771.8" width="12.1" height="10.9" class="E"/>
<rect x="256.9" y="782.8" width="12.1" height="10.9" class="R"/>
<rect x="269.0" y="782.8" width="12.1" height="10.9" class="R"/>
<rect x="281.1" y="782.8" width="12.1" height="10.9" class="C"/>
<rect x="317.4" y="782.8" width="12.1" height="10.9" class="M"/>
<rect x="329.5" y="782.8" width="12.1" height="10.9" class="B"/>
<rect x="341.6" y="782.8" width="12.1" height="10.9" class="V"/>
<rect x="365.9" y="782.8" width="12.1" height="10.9" class="R"/>
<rect x="378.0" y="782.8" width="12.1" height="10.9" class="O"/>
<rect x="426.4" y="782.8" width="12.1" height="10.9" class="R"/>
<rect x="256.9" y="793.7" width="12.1" height="10.9" class="R"/>
<rect x="269.0" y="793.7" width="12.1" height="10.9" class="C"/>
<rect x="281.1" y="793.7" width="12.1" height="10.9" class="V"/>
<rect x="317.4" y="793.7" width="12.1" height="10.9" class="M"/>
<rect x="329.5" y="793.7" width="12.1" height="10.9" class="O"/>
<rect x="365.9" y="793.7" width="12.1" height="10.9" class="B"/>
<rect x="378.0" y="793.7" width="12.1" height="10.9" class="E"/>
<rect x="390.1" y="793.7" width="12.1" height="10.9" class="O"/>
<rect x="402.2" y="793.7" width="12.1" height="10.9" class="C"/>
<rect x="414.3" y="793.7" width="12.1" height="10.9" class="R"/>
<rect x="426.4" y="793.7" width="12.1" height="10.9" class="B"/>
<rect x="256.9" y="804.7" width="12.1" height="10.9" class="C"/>
<rect x="269.0" y="804.7" width="12.1" height="10.9" class="R"/>
<rect x="281.1" y="804.7" width="12.1" height="10.9" class="C"/>
<rect x="293.2" y="804.7" width="12.1" height="10.9" class="M"/>
<rect x="317.4" y="804.7" width="12.1" height="10.9" class="O"/>
<rect x="365.9" y="804.7" width="12.1" height="10.9" class="M"/>
<rect x="378.0" y="804.7" width="12.1" height="10.9" class="M"/>
<rect x="426.4" y="804.7" width="12.1" height="10.9" class="B"/>
<rect x="256.9" y="815.6" width="12.1" height="10.9" class="E"/>
<rect x="269.0" y="815.6" width="12.1" height="10.9" class="C"/>
<rect x="281.1" y="815.6" width="12.1" height="10.9" class="R"/>
<rect x="293.2" y="815.6" width="12.1" height="10.9" class="R"/>
<rect x="305.3" y="815.6" width="12.1" height="10.9" class="R"/>
<rect x="317.4" y="815.6" width="12.1" height="10.9" class="C"/>
<rect x="329.5" y="815.6" width="12.1" height="10.9" class="R"/>
<rect x="341.6" y="815.6" width="12.1" height="10.9" class="P"/>
<rect x="353.8" y="815.6" width="12.1" height="10.9" class="E"/>
<rect x="365.9" y="815.6" width="12.1" height="10.9" class="R"/>
<rect x="378.0" y="815.6" width="12.1" height="10.9" class="P"/>
<rect x="390.1" y="815.6" width="12.1" height="10.9" class="V"/>
<rect x="402.2" y="815.6" width="12.1" height="10.9" class="R"/>
<rect x="414.3" y="815.6" width="12.1" height="10.9" class="M"/>
<rect x="426.4" y="815.6" width="12.1" height="10.9" class="R"/>
<rect x="256.9" y="826.5" width="12.1" height="10.9" class="E"/>
<rect x="269.0" y="826.5" width="12.1" height="10.9" class="P"/>
<rect x="281.1" y="826.5" width="12.1" height="10.9" class="B"/>
<rect x="329.5" y="826.5" width="12.1" height="10.9" class="M"/>
<rect x="341.6" y="826.5" width="12.1" height="10.9" class="B"/>
<rect x="365.9" y="826.5" width="12.1" height="10.9" class="C"/>
<rect x="378.0" y="826.5" width="12.1" height="10.9" class="V"/>
<rect x="402.2" y="826.5" width="12.1" height="10.9" class="P"/>
<rect x="426.4" y="826.5" width="12.1" height="10.9" class="C"/>
<rect x="256.9" y="837.5" width="12.1" height="10.9" class="M"/>
<rect x="269.0" y="837.5" width="12.1" height="10.9" class="C"/>
<rect x="281.1" y="837.5" width="12.1" height="10.9" class="C"/>
<rect x="317.4" y="837.5" width="12.1" height="10.9" class="O"/>
<rect x="329.5" y="837.5" width="12.1" height="10.9" class="M"/>
<rect x="341.6" y="837.5" width="12.1" height="10.9" class="B"/>
<rect x="365.9" y="837.5" width="12.1" height="10.9" class="R"/>
<rect x="378.0" y="837.5" width="12.1" height="10.9" class="E"/>
<rect x="390.1" y="837.5" width="12.1" height="10.9" class="M"/>
<rect x="426.4" y="837.5" width="12.1" height="10.9" class="B"/>
<rect x="269.0" y="848.4" width="12.1" height="10.9" class="B"/>
<rect x="341.6" y="848.4" width="12.1" height="10.9" class="B"/>
<rect x="365.9" y="848.4" width="12.1" height="10.9" class="V"/>
<rect x="378.0" y="848.4" width="12.1" height="10.9" class="A"/>
<rect x="390.1" y="848.4" width="12.1" height="10.9" class="C"/>
<rect x="402.2" y="848.4" width="12.1" height="10.9" class="O"/>
<rect x="414.3" y="848.4" width="12.1" height="10.9" class="R"/>
<rect x="426.4" y="848.4" width="12.1" height="10.9" class="E"/>
<rect x="256.9" y="859.4" width="12.1" height="10.9" class="C"/>
<rect x="269.0" y="859.4" width="12.1" height="10.9" class="B"/>
<rect x="281.1" y="859.4" width="12.1" height="10.9" class="P"/>
<rect x="317.4" y="859.4" width="12.1" height="10.9" class="C"/>
<rect x="365.9" y="859.4" width="12.1" height="10.9" class="C"/>
<rect x="378.0" y="859.4" width="12.1" height="10.9" class="M"/>
<rect x="390.1" y="859.4" width="12.1" height="10.9" class="R"/>
<rect x="414.3" y="859.4" width="12.1" height="10.9" class="O"/>
<rect x="426.4" y="859.4" width="12.1" height="10.9" class="C"/>
<rect x="256.9" y="870.3" width="12.1" height="10.9" class="P"/>
<rect x="269.0" y="870.3" width="12.1" height="10.9" class="B"/>
<rect x="281.1" y="870.3" width="12.1" height="10.9" class="E"/>
<rect x="317.4" y="870.3" width="12.1" height="10.9" class="R"/>
<rect x="365.9" y="870.3" width="12.1" height="10.9" class="P"/>
<rect x="378.0" y="870.3" width="12.1" height="10.9" class="M"/>
<rect x="390.1" y="870.3" width="12.1" height="10.9" class="C"/>
<rect x="402.2" y="870.3" width="12.1" height="10.9" class="M"/>
<rect x="256.9" y="881.3" width="12.1" height="10.9" class="C"/>
<rect x="269.0" y="881.3" width="12.1" height="10.9" class="R"/>
<rect x="341.6" y="881.3" width="12.1" height="10.9" class="V"/>
<rect x="365.9" y="881.3" width="12.1" height="10.9" class="E"/>
<rect x="378.0" y="881.3" width="12.1" height="10.9" class="R"/>
<rect x="426.4" y="881.3" width="12.1" height="10.9" class="E"/>
<rect x="256.9" y="892.2" width="12.1" height="10.9" class="R"/>
<rect x="269.0" y="892.2" width="12.1" height="10.9" class="E"/>
<rect x="305.3" y="892.2" width="12.1" height="10.9" class="C"/>
<rect x="317.4" y="892.2" width="12.1" height="10.9" class="E"/>
<rect x="329.5" y="892.2" width="12.1" height="10.9" class="B"/>
<rect x="353.8" y="892.2" width="12.1" height="10.9" class="M"/>
<rect x="365.9" y="892.2" width="12.1" height="10.9" class="M"/>
<rect x="378.0" y="892.2" width="12.1" height="10.9" class="V"/>
<rect x="426.4" y="892.2" width="12.1" height="10.9" class="V"/>
<rect x="256.9" y="903.1" width="12.1" height="10.9" class="M"/>
<rect x="269.0" y="903.1" width="12.1" height="10.9" class="C"/>
<rect x="329.5" y="903.1" width="12.1" height="10.9" class="V"/>
<rect x="365.9" y="903.1" width="12.1" height="10.9" class="B"/>
<rect x="378.0" y="903.1" width="12.1" height="10.9" class="V"/>
<rect x="390.1" y="903.1" width="12.1" height="10.9" class="O"/>
<rect x="402.2" y="903.1" width="12.1" height="10.9" class="E"/>
<rect x="414.3" y="903.1" width="12.1" height="10.9" class="C"/>
<rect x="426.4" y="903.1" width="12.1" height="10.9" class="E"/>
<rect x="256.9" y="925.0" width="12.1" height="10.9" class="P"/>
<rect x="269.0" y="925.0" width="12.1" height="10.9" class="C"/>
<rect x="281.1" y="925.0" width="12.1" height="10.9" class="B"/>
<rect x="293.2" y="925.0" width="12.1" height="10.9" class="C"/>
<rect x="317.4" y="925.0" width="12.1" height="10.9" class="M"/>
<rect x="329.5" y="925.0" width="12.1" height="10.9" class="N"/>
<rect x="365.9" y="925.0" width="12.1" height="10.9" class="C"/>
<rect x="378.0" y="925.0" width="12.1" height="10.9" class="M"/>
<rect x="426.4" y="925.0" width="12.1" height="10.9" class="C"/>
<rect x="341.6" y="936.0" width="12.1" height="10.9" class="C"/>
<rect x="365.9" y="936.0" width="12.1" height="10.9" class="N"/>
<rect x="378.0" y="936.0" width="12.1" height="10.9" class="B"/>
<rect x="414.3" y="936.0" width="12.1" height="10.9" class="M"/>
<rect x="341.6" y="946.9" width="12.1" height="10.9" class="P"/>
<rect x="378.0" y="946.9" width="12.1" height="10.9" class="O"/>
<rect x="256.9" y="957.9" width="12.1" height="10.9" class="V"/>
<rect x="269.0" y="957.9" width="12.1" height="10.9" class="B"/>
<rect x="365.9" y="957.9" width="12.1" height="10.9" class="E"/>
<rect x="378.0" y="957.9" width="12.1" height="10.9" class="V"/>
<rect x="426.4" y="957.9" width="12.1" height="10.9" class="P"/>
<rect x="378.0" y="968.8" width="12.1" height="10.9" class="E"/>
<rect x="402.2" y="968.8" width="12.1" height="10.9" class="P"/>
<rect x="426.4" y="968.8" width="12.1" height="10.9" class="R"/>
<rect x="341.6" y="979.7" width="12.1" height="10.9" class="V"/>
<rect x="365.9" y="979.7" width="12.1" height="10.9" class="N"/>
<rect x="378.0" y="979.7" width="12.1" height="10.9" class="E"/>
<rect x="426.4" y="979.7" width="12.1" height="10.9" class="R"/>
<rect x="293.2" y="990.7" width="12.1" height="10.9" class="O"/>
<rect x="390.1" y="990.7" width="12.1" height="10.9" class="B"/>
<rect x="269.0" y="1001.6" width="12.1" height="10.9" class="C"/>
<rect x="329.5" y="1001.6" width="12.1" height="10.9" class="N"/>
<rect x="341.6" y="1001.6" width="12.1" height="10.9" class="V"/>
<rect x="365.9" y="1001.6" width="12.1" height="10.9" class="C"/>
<rect x="378.0" y="1001.6" width="12.1" height="10.9" class="V"/>
<rect x="390.1" y="1001.6" width="12.1" height="10.9" class="M"/>
<rect x="402.2" y="1001.6" width="12.1" height="10.9" class="C"/>
<rect x="426.4" y="1001.6" width="12.1" height="10.9" class="V"/>
<rect x="378.0" y="1012.6" width="12.1" height="10.9" class="R"/>
<rect x="426.4" y="1012.6" width="12.1" height="10.9" class="B"/>
<rect x="269.0" y="1023.5" width="12.1" height="10.9" class="N"/>
<rect x="281.1" y="1023.5" width="12.1" height="10.9" class="B"/>
<rect x="317.4" y="1023.5" width="12.1" height="10.9" class="P"/>
<rect x="341.6" y="1023.5" width="12.1" height="10.9" class="V"/>
<rect x="365.9" y="1023.5" width="12.1" height="10.9" class="P"/>
<rect x="378.0" y="1023.5" width="12.1" height="10.9" class="V"/>
<rect x="390.1" y="1023.5" width="12.1" height="10.9" class="M"/>
<rect x="402.2" y="1023.5" width="12.1" height="10.9" class="M"/>
<rect x="414.3" y="1023.5" width="12.1" height="10.9" class="C"/>
<rect x="426.4" y="1023.5" width="12.1" height="10.9" class="R"/>
<rect x="378.0" y="1034.4" width="12.1" height="10.9" class="V"/>
<rect x="426.4" y="1034.4" width="12.1" height="10.9" class="B"/>
<rect x="269.0" y="1045.4" width="12.1" height="10.9" class="M"/>
<rect x="317.4" y="1045.4" width="12.1" height="10.9" class="E"/>
<rect x="365.9" y="1045.4" width="12.1" height="10.9" class="P"/>
<rect x="256.9" y="1056.3" width="12.1" height="10.9" class="V"/>
<rect x="269.0" y="1056.3" width="12.1" height="10.9" class="P"/>
<rect x="281.1" y="1056.3" width="12.1" height="10.9" class="N"/>
<rect x="317.4" y="1056.3" width="12.1" height="10.9" class="V"/>
<rect x="329.5" y="1056.3" width="12.1" height="10.9" class="K"/>
<rect x="365.9" y="1056.3" width="12.1" height="10.9" class="M"/>
<rect x="378.0" y="1056.3" width="12.1" height="10.9" class="V"/>
<rect x="426.4" y="1056.3" width="12.1" height="10.9" class="P"/>
<rect x="269.0" y="1067.3" width="12.1" height="10.9" class="B"/>
<rect x="281.1" y="1067.3" width="12.1" height="10.9" class="B"/>
<rect x="365.9" y="1067.3" width="12.1" height="10.9" class="V"/>
<rect x="402.2" y="1067.3" width="12.1" height="10.9" class="P"/>
<rect x="426.4" y="1067.3" width="12.1" height="10.9" class="P"/>
<rect x="281.1" y="1078.2" width="12.1" height="10.9" class="B"/>
<rect x="365.9" y="1078.2" width="12.1" height="10.9" class="P"/>
<rect x="378.0" y="1078.2" width="12.1" height="10.9" class="E"/>
<rect x="426.4" y="1078.2" width="12.1" height="10.9" class="P"/>
<rect x="269.0" y="1089.2" width="12.1" height="10.9" class="N"/>
<rect x="281.1" y="1089.2" width="12.1" height="10.9" class="N"/>
<rect x="317.4" y="1089.2" width="12.1" height="10.9" class="M"/>
<rect x="365.9" y="1089.2" width="12.1" height="10.9" class="P"/>
<rect x="378.0" y="1089.2" width="12.1" height="10.9" class="V"/>
<rect x="390.1" y="1089.2" width="12.1" height="10.9" class="P"/>
<rect x="414.3" y="1089.2" width="12.1" height="10.9" class="R"/>
<rect x="426.4" y="1089.2" width="12.1" height="10.9" class="P"/>
<rect x="269.0" y="1100.1" width="12.1" height="10.9" class="B"/>
<rect x="365.9" y="1100.1" width="12.1" height="10.9" class="V"/>
<rect x="426.4" y="1100.1" width="12.1" height="10.9" class="E"/>
<rect x="256.9" y="1111.0" width="12.1" height="10.9" class="V"/>
<rect x="269.0" y="1111.0" width="12.1" height="10.9" class="V"/>
<rect x="281.1" y="1111.0" width="12.1" height="10.9" class="N"/>
<rect x="329.5" y="1111.0" width="12.1" height="10.9" class="K"/>
<rect x="365.9" y="1111.0" width="12.1" height="10.9" class="P"/>
<rect x="378.0" y="1111.0" width="12.1" height="10.9" class="B"/>
<rect x="426.4" y="1111.0" width="12.1" height="10.9" class="P"/>
<rect x="281.1" y="1122.0" width="12.1" height="10.9" class="E"/>
<rect x="329.5" y="1122.0" width="12.1" height="10.9" class="K"/>
<rect x="426.4" y="1132.9" width="12.1" height="10.9" class="E"/>
<rect x="378.0" y="1143.9" width="12.1" height="10.9" class="C"/>
<rect x="402.2" y="1143.9" width="12.1" height="10.9" class="M"/>
<rect x="426.4" y="1143.9" width="12.1" height="10.9" class="P"/>
<rect x="402.2" y="1154.8" width="12.1" height="10.9" class="R"/>
<rect x="269.0" y="1165.7" width="12.1" height="10.9" class="N"/>
<rect x="402.2" y="1165.7" width="12.1" height="10.9" class="M"/>
<rect x="426.4" y="1165.7" width="12.1" height="10.9" class="V"/>
<rect x="317.4" y="1176.7" width="12.1" height="10.9" class="V"/>
<rect x="378.0" y="1176.7" width="12.1" height="10.9" class="V"/>
<rect x="390.1" y="1176.7" width="12.1" height="10.9" class="B"/>
<rect x="402.2" y="1176.7" width="12.1" height="10.9" class="E"/>
<rect x="426.4" y="1176.7" width="12.1" height="10.9" class="V"/>
<rect x="256.9" y="1187.6" width="12.1" height="10.9" class="V"/>
<rect x="269.0" y="1187.6" width="12.1" height="10.9" class="P"/>
<rect x="365.9" y="1187.6" width="12.1" height="10.9" class="V"/>
<rect x="378.0" y="1187.6" width="12.1" height="10.9" class="V"/>
<rect x="426.4" y="1187.6" width="12.1" height="10.9" class="R"/>
<rect x="269.0" y="1198.6" width="12.1" height="10.9" class="N"/>
<rect x="281.1" y="1198.6" width="12.1" height="10.9" class="B"/>
<rect x="317.4" y="1198.6" width="12.1" height="10.9" class="M"/>
<rect x="365.9" y="1198.6" width="12.1" height="10.9" class="V"/>
<rect x="378.0" y="1198.6" width="12.1" height="10.9" class="V"/>
<rect x="390.1" y="1198.6" width="12.1" height="10.9" class="M"/>
<rect x="414.3" y="1198.6" width="12.1" height="10.9" class="R"/>
<rect x="426.4" y="1198.6" width="12.1" height="10.9" class="P"/>
<rect x="269.0" y="1220.5" width="12.1" height="10.9" class="N"/>
<rect x="281.1" y="1220.5" width="12.1" height="10.9" class="C"/>
<rect x="329.5" y="1220.5" width="12.1" height="10.9" class="K"/>
<rect x="365.9" y="1220.5" width="12.1" height="10.9" class="M"/>
<rect x="426.4" y="1220.5" width="12.1" height="10.9" class="B"/>
<line x1="256.90" y1="695.24" x2="438.50" y2="695.24" class="gl"/>
<line x1="256.90" y1="706.18" x2="438.50" y2="706.18" class="gl"/>
<line x1="256.90" y1="717.13" x2="438.50" y2="717.13" class="gl"/>
<line x1="256.90" y1="728.07" x2="438.50" y2="728.07" class="gl"/>
<line x1="256.90" y1="739.01" x2="438.50" y2="739.01" class="gl"/>
<line x1="256.90" y1="749.95" x2="438.50" y2="749.95" class="gl"/>
<line x1="256.90" y1="760.89" x2="438.50" y2="760.89" class="gl"/>
<line x1="256.90" y1="771.84" x2="438.50" y2="771.84" class="gl"/>
<line x1="256.90" y1="782.78" x2="438.50" y2="782.78" class="gl"/>
<line x1="256.90" y1="793.72" x2="438.50" y2="793.72" class="gl"/>
<line x1="256.90" y1="804.66" x2="438.50" y2="804.66" class="gl"/>
<line x1="256.90" y1="815.60" x2="438.50" y2="815.60" class="gl"/>
<line x1="256.90" y1="826.55" x2="438.50" y2="826.55" class="gl"/>
<line x1="256.90" y1="837.49" x2="438.50" y2="837.49" class="gl"/>
<line x1="256.90" y1="848.43" x2="438.50" y2="848.43" class="gl"/>
<line x1="256.90" y1="859.37" x2="438.50" y2="859.37" class="gl"/>
<line x1="256.90" y1="870.31" x2="438.50" y2="870.31" class="gl"/>
<line x1="256.90" y1="881.26" x2="438.50" y2="881.26" class="gl"/>
<line x1="256.90" y1="892.20" x2="438.50" y2="892.20" class="gl"/>
<line x1="256.90" y1="903.14" x2="438.50" y2="903.14" class="gl"/>
<line x1="256.90" y1="914.08" x2="438.50" y2="914.08" class="gl"/>
<line x1="256.90" y1="925.02" x2="438.50" y2="925.02" class="gl"/>
<line x1="256.90" y1="935.97" x2="438.50" y2="935.97" class="gl"/>
<line x1="256.90" y1="946.91" x2="438.50" y2="946.91" class="gl"/>
<line x1="256.90" y1="957.85" x2="438.50" y2="957.85" class="gl"/>
<line x1="256.90" y1="968.79" x2="438.50" y2="968.79" class="gl"/>
<line x1="256.90" y1="979.73" x2="438.50" y2="979.73" class="gl"/>
<line x1="256.90" y1="990.68" x2="438.50" y2="990.68" class="gl"/>
<line x1="256.90" y1="1001.62" x2="438.50" y2="1001.62" class="gl"/>
<line x1="256.90" y1="1012.56" x2="438.50" y2="1012.56" class="gl"/>
<line x1="256.90" y1="1023.50" x2="438.50" y2="1023.50" class="gl"/>
<line x1="256.90" y1="1034.44" x2="438.50" y2="1034.44" class="gl"/>
<line x1="256.90" y1="1045.39" x2="438.50" y2="1045.39" class="gl"/>
<line x1="256.90" y1="1056.33" x2="438.50" y2="1056.33" class="gl"/>
<line x1="256.90" y1="1067.27" x2="438.50" y2="1067.27" class="gl"/>
<line x1="256.90" y1="1078.21" x2="438.50" y2="1078.21" class="gl"/>
<line x1="256.90" y1="1089.15" x2="438.50" y2="1089.15" class="gl"/>
<line x1="256.90" y1="1100.10" x2="438.50" y2="1100.10" class="gl"/>
<line x1="256.90" y1="1111.04" x2="438.50" y2="1111.04" class="gl"/>
<line x1="256.90" y1="1121.98" x2="438.50" y2="1121.98" class="gl"/>
<line x1="256.90" y1="1132.92" x2="438.50" y2="1132.92" class="gl"/>
<line x1="256.90" y1="1143.86" x2="438.50" y2="1143.86" class="gl"/>
<line x1="256.90" y1="1154.81" x2="438.50" y2="1154.81" class="gl"/>
<line x1="256.90" y1="1165.75" x2="438.50" y2="1165.75" class="gl"/>
<line x1="256.90" y1="1176.69" x2="438.50" y2="1176.69" class="gl"/>
<line x1="256.90" y1="1187.63" x2="438.50" y2="1187.63" class="gl"/>
<line x1="256.90" y1="1198.57" x2="438.50" y2="1198.57" class="gl"/>
<line x1="256.90" y1="1209.52" x2="438.50" y2="1209.52" class="gl"/>
<line x1="256.90" y1="1220.46" x2="438.50" y2="1220.46" class="gl"/>
<line x1="269.01" y1="684.30" x2="269.01" y2="1231.40" class="gl"/>
<line x1="281.11" y1="684.30" x2="281.11" y2="1231.40" class="gl"/>
<line x1="293.22" y1="684.30" x2="293.22" y2="1231.40" class="gl"/>
<line x1="305.33" y1="684.30" x2="305.33" y2="1231.40" class="gl"/>
<line x1="317.43" y1="684.30" x2="317.43" y2="1231.40" class="gl"/>
<line x1="329.54" y1="684.30" x2="329.54" y2="1231.40" class="gl"/>
<line x1="341.65" y1="684.30" x2="341.65" y2="1231.40" class="gl"/>
<line x1="353.75" y1="684.30" x2="353.75" y2="1231.40" class="gl"/>
<line x1="365.86" y1="684.30" x2="365.86" y2="1231.40" class="gl"/>
<line x1="377.97" y1="684.30" x2="377.97" y2="1231.40" class="gl"/>
<line x1="390.07" y1="684.30" x2="390.07" y2="1231.40" class="gl"/>
<line x1="402.18" y1="684.30" x2="402.18" y2="1231.40" class="gl"/>
<line x1="414.29" y1="684.30" x2="414.29" y2="1231.40" class="gl"/>
<line x1="426.39" y1="684.30" x2="426.39" y2="1231.40" class="gl"/>
<rect x="257.20" y="684.60" width="181.00" height="546.50" class="gb"/>
<text class="cl" transform="translate(259.05,1235.10) rotate(90)">MPIAM1_2_S</text>
<text class="cl" transform="translate(271.16,1235.10) rotate(90)">MPIAM1_4_S</text>
<text class="cl" transform="translate(283.27,1235.10) rotate(90)">MPIAM2_3_S</text>
<text class="cl" transform="translate(295.37,1235.10) rotate(90)">MPIAM3_1_S</text>
<text class="cl" transform="translate(307.48,1235.10) rotate(90)">MPIAM4_1_S</text>
<text class="cl" transform="translate(319.59,1235.10) rotate(90)">MPIAM6_2_S</text>
<text class="cl" transform="translate(331.69,1235.10) rotate(90)">MPIAW12_1_S</text>
<text class="cl" transform="translate(343.80,1235.10) rotate(90)">MPIBM6_2_S</text>
<text class="cl" transform="translate(355.91,1235.10) rotate(90)">MPIBW1_1_S</text>
<text class="cl" transform="translate(368.01,1235.10) rotate(90)">MPICW5_1_S</text>
<text class="cl" transform="translate(380.12,1235.10) rotate(90)">MPICW6_1_S</text>
<text class="cl" transform="translate(392.23,1235.10) rotate(90)">MPSAW2_4_S</text>
<text class="cl" transform="translate(404.33,1235.10) rotate(90)">MPSAW2_7_S</text>
<text class="cl" transform="translate(416.44,1235.10) rotate(90)">MPSBW2_2_S</text>
<text class="cl" transform="translate(428.55,1235.10) rotate(90)">MPSCM3_1_S</text>
<rect x="442.80" y="684.30" width="11.90" height="547.10" fill="#6d6d6d"/>
<rect x="442.8" y="684.3" width="11.9" height="10.9" class="B"/>
<rect x="442.8" y="706.2" width="11.9" height="10.9" class="O"/>
<rect x="442.8" y="717.1" width="11.9" height="10.9" class="O"/>
<rect x="442.8" y="728.1" width="11.9" height="10.9" class="E"/>
<rect x="442.8" y="739.0" width="11.9" height="10.9" class="R"/>
<rect x="442.8" y="750.0" width="11.9" height="10.9" class="P"/>
<rect x="442.8" y="760.9" width="11.9" height="10.9" class="E"/>
<rect x="442.8" y="771.8" width="11.9" height="10.9" class="P"/>
<rect x="442.8" y="782.8" width="11.9" height="10.9" class="O"/>
<rect x="442.8" y="793.7" width="11.9" height="10.9" class="C"/>
<rect x="442.8" y="804.7" width="11.9" height="10.9" class="E"/>
<rect x="442.8" y="815.6" width="11.9" height="10.9" class="K"/>
<rect x="442.8" y="826.5" width="11.9" height="10.9" class="R"/>
<rect x="442.8" y="837.5" width="11.9" height="10.9" class="E"/>
<rect x="442.8" y="848.4" width="11.9" height="10.9" class="P"/>
<rect x="442.8" y="859.4" width="11.9" height="10.9" class="E"/>
<rect x="442.8" y="870.3" width="11.9" height="10.9" class="E"/>
<rect x="442.8" y="881.3" width="11.9" height="10.9" class="R"/>
<rect x="442.8" y="892.2" width="11.9" height="10.9" class="R"/>
<rect x="442.8" y="903.1" width="11.9" height="10.9" class="P"/>
<rect x="442.8" y="914.1" width="11.9" height="10.9" class="O"/>
<rect x="442.8" y="925.0" width="11.9" height="10.9" class="R"/>
<rect x="442.8" y="936.0" width="11.9" height="10.9" class="E"/>
<rect x="442.8" y="946.9" width="11.9" height="10.9" class="V"/>
<rect x="442.8" y="957.9" width="11.9" height="10.9" class="R"/>
<rect x="442.8" y="968.8" width="11.9" height="10.9" class="M"/>
<rect x="442.8" y="979.7" width="11.9" height="10.9" class="M"/>
<rect x="442.8" y="1001.6" width="11.9" height="10.9" class="M"/>
<rect x="442.8" y="1012.6" width="11.9" height="10.9" class="R"/>
<rect x="442.8" y="1023.5" width="11.9" height="10.9" class="M"/>
<rect x="442.8" y="1034.4" width="11.9" height="10.9" class="R"/>
<rect x="442.8" y="1045.4" width="11.9" height="10.9" class="M"/>
<rect x="442.8" y="1056.3" width="11.9" height="10.9" class="C"/>
<rect x="442.8" y="1067.3" width="11.9" height="10.9" class="R"/>
<rect x="442.8" y="1078.2" width="11.9" height="10.9" class="C"/>
<rect x="442.8" y="1089.2" width="11.9" height="10.9" class="M"/>
<rect x="442.8" y="1100.1" width="11.9" height="10.9" class="C"/>
<rect x="442.8" y="1111.0" width="11.9" height="10.9" class="C"/>
<rect x="442.8" y="1132.9" width="11.9" height="10.9" class="V"/>
<rect x="442.8" y="1143.9" width="11.9" height="10.9" class="P"/>
<rect x="442.8" y="1154.8" width="11.9" height="10.9" class="C"/>
<rect x="442.8" y="1165.7" width="11.9" height="10.9" class="M"/>
<rect x="442.8" y="1176.7" width="11.9" height="10.9" class="B"/>
<rect x="442.8" y="1187.6" width="11.9" height="10.9" class="P"/>
<rect x="442.8" y="1198.6" width="11.9" height="10.9" class="P"/>
<rect x="442.8" y="1209.5" width="11.9" height="10.9" class="C"/>
<rect x="442.8" y="1220.5" width="11.9" height="10.9" class="M"/>
<line x1="442.80" y1="695.24" x2="454.70" y2="695.24" class="gl"/>
<line x1="442.80" y1="706.18" x2="454.70" y2="706.18" class="gl"/>
<line x1="442.80" y1="717.13" x2="454.70" y2="717.13" class="gl"/>
<line x1="442.80" y1="728.07" x2="454.70" y2="728.07" class="gl"/>
<line x1="442.80" y1="739.01" x2="454.70" y2="739.01" class="gl"/>
<line x1="442.80" y1="749.95" x2="454.70" y2="749.95" class="gl"/>
<line x1="442.80" y1="760.89" x2="454.70" y2="760.89" class="gl"/>
<line x1="442.80" y1="771.84" x2="454.70" y2="771.84" class="gl"/>
<line x1="442.80" y1="782.78" x2="454.70" y2="782.78" class="gl"/>
<line x1="442.80" y1="793.72" x2="454.70" y2="793.72" class="gl"/>
<line x1="442.80" y1="804.66" x2="454.70" y2="804.66" class="gl"/>
<line x1="442.80" y1="815.60" x2="454.70" y2="815.60" class="gl"/>
<line x1="442.80" y1="826.55" x2="454.70" y2="826.55" class="gl"/>
<line x1="442.80" y1="837.49" x2="454.70" y2="837.49" class="gl"/>
<line x1="442.80" y1="848.43" x2="454.70" y2="848.43" class="gl"/>
<line x1="442.80" y1="859.37" x2="454.70" y2="859.37" class="gl"/>
<line x1="442.80" y1="870.31" x2="454.70" y2="870.31" class="gl"/>
<line x1="442.80" y1="881.26" x2="454.70" y2="881.26" class="gl"/>
<line x1="442.80" y1="892.20" x2="454.70" y2="892.20" class="gl"/>
<line x1="442.80" y1="903.14" x2="454.70" y2="903.14" class="gl"/>
<line x1="442.80" y1="914.08" x2="454.70" y2="914.08" class="gl"/>
<line x1="442.80" y1="925.02" x2="454.70" y2="925.02" class="gl"/>
<line x1="442.80" y1="935.97" x2="454.70" y2="935.97" class="gl"/>
<line x1="442.80" y1="946.91" x2="454.70" y2="946.91" class="gl"/>
<line x1="442.80" y1="957.85" x2="454.70" y2="957.85" class="gl"/>
<line x1="442.80" y1="968.79" x2="454.70" y2="968.79" class="gl"/>
<line x1="442.80" y1="979.73" x2="454.70" y2="979.73" class="gl"/>
<line x1="442.80" y1="990.68" x2="454.70" y2="990.68" class="gl"/>
<line x1="442.80" y1="1001.62" x2="454.70" y2="1001.62" class="gl"/>
<line x1="442.80" y1="1012.56" x2="454.70" y2="1012.56" class="gl"/>
<line x1="442.80" y1="1023.50" x2="454.70" y2="1023.50" class="gl"/>
<line x1="442.80" y1="1034.44" x2="454.70" y2="1034.44" class="gl"/>
<line x1="442.80" y1="1045.39" x2="454.70" y2="1045.39" class="gl"/>
<line x1="442.80" y1="1056.33" x2="454.70" y2="1056.33" class="gl"/>
<line x1="442.80" y1="1067.27" x2="454.70" y2="1067.27" class="gl"/>
<line x1="442.80" y1="1078.21" x2="454.70" y2="1078.21" class="gl"/>
<line x1="442.80" y1="1089.15" x2="454.70" y2="1089.15" class="gl"/>
<line x1="442.80" y1="1100.10" x2="454.70" y2="1100.10" class="gl"/>
<line x1="442.80" y1="1111.04" x2="454.70" y2="1111.04" class="gl"/>
<line x1="442.80" y1="1121.98" x2="454.70" y2="1121.98" class="gl"/>
<line x1="442.80" y1="1132.92" x2="454.70" y2="1132.92" class="gl"/>
<line x1="442.80" y1="1143.86" x2="454.70" y2="1143.86" class="gl"/>
<line x1="442.80" y1="1154.81" x2="454.70" y2="1154.81" class="gl"/>
<line x1="442.80" y1="1165.75" x2="454.70" y2="1165.75" class="gl"/>
<line x1="442.80" y1="1176.69" x2="454.70" y2="1176.69" class="gl"/>
<line x1="442.80" y1="1187.63" x2="454.70" y2="1187.63" class="gl"/>
<line x1="442.80" y1="1198.57" x2="454.70" y2="1198.57" class="gl"/>
<line x1="442.80" y1="1209.52" x2="454.70" y2="1209.52" class="gl"/>
<line x1="442.80" y1="1220.46" x2="454.70" y2="1220.46" class="gl"/>
<rect x="443.10" y="684.60" width="11.30" height="546.50" class="gb"/>
<text class="cl" transform="translate(444.85,1235.10) rotate(90)">healthy</text>
<rect x="458.90" y="684.30" width="157.40" height="547.10" fill="#6d6d6d"/>
<rect x="458.9" y="684.3" width="12.1" height="10.9" class="A"/>
<rect x="471.0" y="684.3" width="12.1" height="10.9" class="Y"/>
<rect x="483.1" y="684.3" width="12.1" height="10.9" class="E"/>
<rect x="495.2" y="684.3" width="12.1" height="10.9" class="O"/>
<rect x="507.3" y="684.3" width="12.1" height="10.9" class="A"/>
<rect x="519.4" y="684.3" width="12.1" height="10.9" class="O"/>
<rect x="531.5" y="684.3" width="12.1" height="10.9" class="O"/>
<rect x="543.7" y="684.3" width="12.1" height="10.9" class="O"/>
<rect x="555.8" y="684.3" width="12.1" height="10.9" class="A"/>
<rect x="567.9" y="684.3" width="12.1" height="10.9" class="A"/>
<rect x="580.0" y="684.3" width="12.1" height="10.9" class="Y"/>
<rect x="592.1" y="684.3" width="12.1" height="10.9" class="Y"/>
<rect x="604.2" y="684.3" width="12.1" height="10.9" class="A"/>
<rect x="458.9" y="695.2" width="12.1" height="10.9" class="O"/>
<rect x="471.0" y="695.2" width="12.1" height="10.9" class="O"/>
<rect x="483.1" y="695.2" width="12.1" height="10.9" class="A"/>
<rect x="495.2" y="695.2" width="12.1" height="10.9" class="A"/>
<rect x="507.3" y="695.2" width="12.1" height="10.9" class="A"/>
<rect x="519.4" y="695.2" width="12.1" height="10.9" class="A"/>
<rect x="531.5" y="695.2" width="12.1" height="10.9" class="A"/>
<rect x="543.7" y="695.2" width="12.1" height="10.9" class="A"/>
<rect x="555.8" y="695.2" width="12.1" height="10.9" class="E"/>
<rect x="567.9" y="695.2" width="12.1" height="10.9" class="O"/>
<rect x="580.0" y="695.2" width="12.1" height="10.9" class="C"/>
<rect x="592.1" y="695.2" width="12.1" height="10.9" class="E"/>
<rect x="604.2" y="695.2" width="12.1" height="10.9" class="A"/>
<rect x="458.9" y="706.2" width="12.1" height="10.9" class="R"/>
<rect x="471.0" y="706.2" width="12.1" height="10.9" class="R"/>
<rect x="483.1" y="706.2" width="12.1" height="10.9" class="C"/>
<rect x="495.2" y="706.2" width="12.1" height="10.9" class="M"/>
<rect x="507.3" y="706.2" width="12.1" height="10.9" class="O"/>
<rect x="519.4" y="706.2" width="12.1" height="10.9" class="R"/>
<rect x="531.5" y="706.2" width="12.1" height="10.9" class="R"/>
<rect x="543.7" y="706.2" width="12.1" height="10.9" class="R"/>
<rect x="567.9" y="706.2" width="12.1" height="10.9" class="C"/>
<rect x="580.0" y="706.2" width="12.1" height="10.9" class="P"/>
<rect x="592.1" y="706.2" width="12.1" height="10.9" class="C"/>
<rect x="458.9" y="717.1" width="12.1" height="10.9" class="C"/>
<rect x="471.0" y="717.1" width="12.1" height="10.9" class="C"/>
<rect x="495.2" y="717.1" width="12.1" height="10.9" class="C"/>
<rect x="519.4" y="717.1" width="12.1" height="10.9" class="R"/>
<rect x="531.5" y="717.1" width="12.1" height="10.9" class="C"/>
<rect x="567.9" y="717.1" width="12.1" height="10.9" class="C"/>
<rect x="580.0" y="717.1" width="12.1" height="10.9" class="V"/>
<rect x="458.9" y="728.1" width="12.1" height="10.9" class="C"/>
<rect x="471.0" y="728.1" width="12.1" height="10.9" class="C"/>
<rect x="483.1" y="728.1" width="12.1" height="10.9" class="V"/>
<rect x="495.2" y="728.1" width="12.1" height="10.9" class="M"/>
<rect x="507.3" y="728.1" width="12.1" height="10.9" class="R"/>
<rect x="519.4" y="728.1" width="12.1" height="10.9" class="R"/>
<rect x="531.5" y="728.1" width="12.1" height="10.9" class="C"/>
<rect x="543.7" y="728.1" width="12.1" height="10.9" class="V"/>
<rect x="567.9" y="728.1" width="12.1" height="10.9" class="C"/>
<rect x="580.0" y="728.1" width="12.1" height="10.9" class="V"/>
<rect x="592.1" y="728.1" width="12.1" height="10.9" class="B"/>
<rect x="458.9" y="739.0" width="12.1" height="10.9" class="V"/>
<rect x="471.0" y="739.0" width="12.1" height="10.9" class="C"/>
<rect x="483.1" y="739.0" width="12.1" height="10.9" class="B"/>
<rect x="519.4" y="739.0" width="12.1" height="10.9" class="E"/>
<rect x="531.5" y="739.0" width="12.1" height="10.9" class="C"/>
<rect x="543.7" y="739.0" width="12.1" height="10.9" class="R"/>
<rect x="555.8" y="739.0" width="12.1" height="10.9" class="Y"/>
<rect x="567.9" y="739.0" width="12.1" height="10.9" class="C"/>
<rect x="580.0" y="739.0" width="12.1" height="10.9" class="V"/>
<rect x="592.1" y="739.0" width="12.1" height="10.9" class="C"/>
<rect x="555.8" y="750.0" width="12.1" height="10.9" class="P"/>
<rect x="458.9" y="760.9" width="12.1" height="10.9" class="P"/>
<rect x="471.0" y="760.9" width="12.1" height="10.9" class="V"/>
<rect x="483.1" y="760.9" width="12.1" height="10.9" class="B"/>
<rect x="519.4" y="760.9" width="12.1" height="10.9" class="C"/>
<rect x="531.5" y="760.9" width="12.1" height="10.9" class="V"/>
<rect x="543.7" y="760.9" width="12.1" height="10.9" class="V"/>
<rect x="555.8" y="760.9" width="12.1" height="10.9" class="C"/>
<rect x="567.9" y="760.9" width="12.1" height="10.9" class="P"/>
<rect x="592.1" y="760.9" width="12.1" height="10.9" class="B"/>
<rect x="458.9" y="782.8" width="12.1" height="10.9" class="V"/>
<rect x="519.4" y="782.8" width="12.1" height="10.9" class="V"/>
<rect x="567.9" y="782.8" width="12.1" height="10.9" class="R"/>
<rect x="458.9" y="793.7" width="12.1" height="10.9" class="V"/>
<rect x="471.0" y="793.7" width="12.1" height="10.9" class="C"/>
<rect x="483.1" y="793.7" width="12.1" height="10.9" class="R"/>
<rect x="495.2" y="793.7" width="12.1" height="10.9" class="M"/>
<rect x="507.3" y="793.7" width="12.1" height="10.9" class="V"/>
<rect x="519.4" y="793.7" width="12.1" height="10.9" class="E"/>
<rect x="531.5" y="793.7" width="12.1" height="10.9" class="M"/>
<rect x="543.7" y="793.7" width="12.1" height="10.9" class="R"/>
<rect x="555.8" y="793.7" width="12.1" height="10.9" class="B"/>
<rect x="567.9" y="793.7" width="12.1" height="10.9" class="P"/>
<rect x="458.9" y="804.7" width="12.1" height="10.9" class="C"/>
<rect x="471.0" y="804.7" width="12.1" height="10.9" class="B"/>
<rect x="495.2" y="804.7" width="12.1" height="10.9" class="P"/>
<rect x="519.4" y="804.7" width="12.1" height="10.9" class="R"/>
<rect x="567.9" y="804.7" width="12.1" height="10.9" class="P"/>
<rect x="458.9" y="815.6" width="12.1" height="10.9" class="R"/>
<rect x="471.0" y="815.6" width="12.1" height="10.9" class="R"/>
<rect x="483.1" y="815.6" width="12.1" height="10.9" class="V"/>
<rect x="495.2" y="815.6" width="12.1" height="10.9" class="M"/>
<rect x="507.3" y="815.6" width="12.1" height="10.9" class="C"/>
<rect x="519.4" y="815.6" width="12.1" height="10.9" class="M"/>
<rect x="531.5" y="815.6" width="12.1" height="10.9" class="P"/>
<rect x="543.7" y="815.6" width="12.1" height="10.9" class="M"/>
<rect x="555.8" y="815.6" width="12.1" height="10.9" class="C"/>
<rect x="567.9" y="815.6" width="12.1" height="10.9" class="R"/>
<rect x="580.0" y="815.6" width="12.1" height="10.9" class="E"/>
<rect x="592.1" y="815.6" width="12.1" height="10.9" class="E"/>
<rect x="604.2" y="815.6" width="12.1" height="10.9" class="C"/>
<rect x="458.9" y="826.5" width="12.1" height="10.9" class="V"/>
<rect x="471.0" y="826.5" width="12.1" height="10.9" class="C"/>
<rect x="483.1" y="826.5" width="12.1" height="10.9" class="E"/>
<rect x="507.3" y="826.5" width="12.1" height="10.9" class="P"/>
<rect x="519.4" y="826.5" width="12.1" height="10.9" class="V"/>
<rect x="531.5" y="826.5" width="12.1" height="10.9" class="M"/>
<rect x="543.7" y="826.5" width="12.1" height="10.9" class="C"/>
<rect x="567.9" y="826.5" width="12.1" height="10.9" class="V"/>
<rect x="458.9" y="837.5" width="12.1" height="10.9" class="M"/>
<rect x="471.0" y="837.5" width="12.1" height="10.9" class="V"/>
<rect x="483.1" y="837.5" width="12.1" height="10.9" class="B"/>
<rect x="495.2" y="837.5" width="12.1" height="10.9" class="V"/>
<rect x="519.4" y="837.5" width="12.1" height="10.9" class="P"/>
<rect x="531.5" y="837.5" width="12.1" height="10.9" class="V"/>
<rect x="543.7" y="837.5" width="12.1" height="10.9" class="B"/>
<rect x="567.9" y="837.5" width="12.1" height="10.9" class="P"/>
<rect x="592.1" y="848.4" width="12.1" height="10.9" class="P"/>
<rect x="471.0" y="859.4" width="12.1" height="10.9" class="B"/>
<rect x="519.4" y="859.4" width="12.1" height="10.9" class="V"/>
<rect x="531.5" y="859.4" width="12.1" height="10.9" class="B"/>
<rect x="567.9" y="859.4" width="12.1" height="10.9" class="B"/>
<rect x="471.0" y="870.3" width="12.1" height="10.9" class="V"/>
<rect x="519.4" y="870.3" width="12.1" height="10.9" class="R"/>
<rect x="531.5" y="870.3" width="12.1" height="10.9" class="B"/>
<rect x="543.7" y="870.3" width="12.1" height="10.9" class="C"/>
<rect x="567.9" y="870.3" width="12.1" height="10.9" class="B"/>
<rect x="458.9" y="881.3" width="12.1" height="10.9" class="C"/>
<rect x="471.0" y="881.3" width="12.1" height="10.9" class="P"/>
<rect x="483.1" y="881.3" width="12.1" height="10.9" class="P"/>
<rect x="519.4" y="881.3" width="12.1" height="10.9" class="R"/>
<rect x="531.5" y="881.3" width="12.1" height="10.9" class="P"/>
<rect x="543.7" y="881.3" width="12.1" height="10.9" class="M"/>
<rect x="555.8" y="881.3" width="12.1" height="10.9" class="V"/>
<rect x="567.9" y="881.3" width="12.1" height="10.9" class="P"/>
<rect x="592.1" y="881.3" width="12.1" height="10.9" class="V"/>
<rect x="471.0" y="892.2" width="12.1" height="10.9" class="P"/>
<rect x="483.1" y="892.2" width="12.1" height="10.9" class="C"/>
<rect x="495.2" y="892.2" width="12.1" height="10.9" class="V"/>
<rect x="507.3" y="892.2" width="12.1" height="10.9" class="V"/>
<rect x="519.4" y="892.2" width="12.1" height="10.9" class="E"/>
<rect x="531.5" y="892.2" width="12.1" height="10.9" class="V"/>
<rect x="543.7" y="892.2" width="12.1" height="10.9" class="B"/>
<rect x="567.9" y="892.2" width="12.1" height="10.9" class="B"/>
<rect x="471.0" y="903.1" width="12.1" height="10.9" class="C"/>
<rect x="555.8" y="903.1" width="12.1" height="10.9" class="E"/>
<rect x="580.0" y="903.1" width="12.1" height="10.9" class="B"/>
<rect x="592.1" y="903.1" width="12.1" height="10.9" class="P"/>
<rect x="458.9" y="925.0" width="12.1" height="10.9" class="V"/>
<rect x="471.0" y="925.0" width="12.1" height="10.9" class="V"/>
<rect x="483.1" y="925.0" width="12.1" height="10.9" class="V"/>
<rect x="495.2" y="925.0" width="12.1" height="10.9" class="V"/>
<rect x="507.3" y="925.0" width="12.1" height="10.9" class="C"/>
<rect x="519.4" y="925.0" width="12.1" height="10.9" class="C"/>
<rect x="531.5" y="925.0" width="12.1" height="10.9" class="V"/>
<rect x="543.7" y="925.0" width="12.1" height="10.9" class="V"/>
<rect x="567.9" y="925.0" width="12.1" height="10.9" class="P"/>
<rect x="567.9" y="936.0" width="12.1" height="10.9" class="R"/>
<rect x="519.4" y="946.9" width="12.1" height="10.9" class="V"/>
<rect x="567.9" y="946.9" width="12.1" height="10.9" class="V"/>
<rect x="471.0" y="957.9" width="12.1" height="10.9" class="B"/>
<rect x="519.4" y="957.9" width="12.1" height="10.9" class="C"/>
<rect x="531.5" y="957.9" width="12.1" height="10.9" class="B"/>
<rect x="567.9" y="957.9" width="12.1" height="10.9" class="P"/>
<rect x="555.8" y="968.8" width="12.1" height="10.9" class="M"/>
<rect x="458.9" y="1001.6" width="12.1" height="10.9" class="V"/>
<rect x="471.0" y="1001.6" width="12.1" height="10.9" class="M"/>
<rect x="519.4" y="1001.6" width="12.1" height="10.9" class="V"/>
<rect x="531.5" y="1001.6" width="12.1" height="10.9" class="V"/>
<rect x="543.7" y="1001.6" width="12.1" height="10.9" class="B"/>
<rect x="567.9" y="1001.6" width="12.1" height="10.9" class="M"/>
<rect x="519.4" y="1023.5" width="12.1" height="10.9" class="B"/>
<rect x="531.5" y="1023.5" width="12.1" height="10.9" class="B"/>
<rect x="567.9" y="1023.5" width="12.1" height="10.9" class="B"/>
<rect x="471.0" y="1045.4" width="12.1" height="10.9" class="B"/>
<rect x="483.1" y="1045.4" width="12.1" height="10.9" class="V"/>
<rect x="507.3" y="1045.4" width="12.1" height="10.9" class="C"/>
<rect x="519.4" y="1045.4" width="12.1" height="10.9" class="C"/>
<rect x="543.7" y="1045.4" width="12.1" height="10.9" class="M"/>
<rect x="567.9" y="1045.4" width="12.1" height="10.9" class="B"/>
<rect x="471.0" y="1056.3" width="12.1" height="10.9" class="B"/>
<rect x="507.3" y="1056.3" width="12.1" height="10.9" class="P"/>
<rect x="519.4" y="1056.3" width="12.1" height="10.9" class="M"/>
<rect x="531.5" y="1056.3" width="12.1" height="10.9" class="B"/>
<rect x="543.7" y="1056.3" width="12.1" height="10.9" class="B"/>
<rect x="567.9" y="1056.3" width="12.1" height="10.9" class="V"/>
<rect x="471.0" y="1067.3" width="12.1" height="10.9" class="N"/>
<rect x="519.4" y="1067.3" width="12.1" height="10.9" class="V"/>
<rect x="555.8" y="1067.3" width="12.1" height="10.9" class="C"/>
<rect x="567.9" y="1067.3" width="12.1" height="10.9" class="B"/>
<rect x="567.9" y="1100.1" width="12.1" height="10.9" class="B"/>
<rect x="471.0" y="1111.0" width="12.1" height="10.9" class="B"/>
<rect x="483.1" y="1111.0" width="12.1" height="10.9" class="B"/>
<rect x="507.3" y="1111.0" width="12.1" height="10.9" class="V"/>
<rect x="519.4" y="1111.0" width="12.1" height="10.9" class="P"/>
<rect x="531.5" y="1111.0" width="12.1" height="10.9" class="B"/>
<rect x="543.7" y="1111.0" width="12.1" height="10.9" class="B"/>
<rect x="567.9" y="1111.0" width="12.1" height="10.9" class="B"/>
<rect x="555.8" y="1122.0" width="12.1" height="10.9" class="R"/>
<rect x="555.8" y="1143.9" width="12.1" height="10.9" class="B"/>
<rect x="471.0" y="1165.7" width="12.1" height="10.9" class="B"/>
<rect x="483.1" y="1165.7" width="12.1" height="10.9" class="B"/>
<rect x="519.4" y="1165.7" width="12.1" height="10.9" class="M"/>
<rect x="555.8" y="1165.7" width="12.1" height="10.9" class="V"/>
<rect x="567.9" y="1165.7" width="12.1" height="10.9" class="B"/>
<rect x="519.4" y="1209.5" width="12.1" height="10.9" class="V"/>
<rect x="567.9" y="1209.5" width="12.1" height="10.9" class="V"/>
<rect x="519.4" y="1220.5" width="12.1" height="10.9" class="B"/>
<line x1="458.90" y1="695.24" x2="616.30" y2="695.24" class="gl"/>
<line x1="458.90" y1="706.18" x2="616.30" y2="706.18" class="gl"/>
<line x1="458.90" y1="717.13" x2="616.30" y2="717.13" class="gl"/>
<line x1="458.90" y1="728.07" x2="616.30" y2="728.07" class="gl"/>
<line x1="458.90" y1="739.01" x2="616.30" y2="739.01" class="gl"/>
<line x1="458.90" y1="749.95" x2="616.30" y2="749.95" class="gl"/>
<line x1="458.90" y1="760.89" x2="616.30" y2="760.89" class="gl"/>
<line x1="458.90" y1="771.84" x2="616.30" y2="771.84" class="gl"/>
<line x1="458.90" y1="782.78" x2="616.30" y2="782.78" class="gl"/>
<line x1="458.90" y1="793.72" x2="616.30" y2="793.72" class="gl"/>
<line x1="458.90" y1="804.66" x2="616.30" y2="804.66" class="gl"/>
<line x1="458.90" y1="815.60" x2="616.30" y2="815.60" class="gl"/>
<line x1="458.90" y1="826.55" x2="616.30" y2="826.55" class="gl"/>
<line x1="458.90" y1="837.49" x2="616.30" y2="837.49" class="gl"/>
<line x1="458.90" y1="848.43" x2="616.30" y2="848.43" class="gl"/>
<line x1="458.90" y1="859.37" x2="616.30" y2="859.37" class="gl"/>
<line x1="458.90" y1="870.31" x2="616.30" y2="870.31" class="gl"/>
<line x1="458.90" y1="881.26" x2="616.30" y2="881.26" class="gl"/>
<line x1="458.90" y1="892.20" x2="616.30" y2="892.20" class="gl"/>
<line x1="458.90" y1="903.14" x2="616.30" y2="903.14" class="gl"/>
<line x1="458.90" y1="914.08" x2="616.30" y2="914.08" class="gl"/>
<line x1="458.90" y1="925.02" x2="616.30" y2="925.02" class="gl"/>
<line x1="458.90" y1="935.97" x2="616.30" y2="935.97" class="gl"/>
<line x1="458.90" y1="946.91" x2="616.30" y2="946.91" class="gl"/>
<line x1="458.90" y1="957.85" x2="616.30" y2="957.85" class="gl"/>
<line x1="458.90" y1="968.79" x2="616.30" y2="968.79" class="gl"/>
<line x1="458.90" y1="979.73" x2="616.30" y2="979.73" class="gl"/>
<line x1="458.90" y1="990.68" x2="616.30" y2="990.68" class="gl"/>
<line x1="458.90" y1="1001.62" x2="616.30" y2="1001.62" class="gl"/>
<line x1="458.90" y1="1012.56" x2="616.30" y2="1012.56" class="gl"/>
<line x1="458.90" y1="1023.50" x2="616.30" y2="1023.50" class="gl"/>
<line x1="458.90" y1="1034.44" x2="616.30" y2="1034.44" class="gl"/>
<line x1="458.90" y1="1045.39" x2="616.30" y2="1045.39" class="gl"/>
<line x1="458.90" y1="1056.33" x2="616.30" y2="1056.33" class="gl"/>
<line x1="458.90" y1="1067.27" x2="616.30" y2="1067.27" class="gl"/>
<line x1="458.90" y1="1078.21" x2="616.30" y2="1078.21" class="gl"/>
<line x1="458.90" y1="1089.15" x2="616.30" y2="1089.15" class="gl"/>
<line x1="458.90" y1="1100.10" x2="616.30" y2="1100.10" class="gl"/>
<line x1="458.90" y1="1111.04" x2="616.30" y2="1111.04" class="gl"/>
<line x1="458.90" y1="1121.98" x2="616.30" y2="1121.98" class="gl"/>
<line x1="458.90" y1="1132.92" x2="616.30" y2="1132.92" class="gl"/>
<line x1="458.90" y1="1143.86" x2="616.30" y2="1143.86" class="gl"/>
<line x1="458.90" y1="1154.81" x2="616.30" y2="1154.81" class="gl"/>
<line x1="458.90" y1="1165.75" x2="616.30" y2="1165.75" class="gl"/>
<line x1="458.90" y1="1176.69" x2="616.30" y2="1176.69" class="gl"/>
<line x1="458.90" y1="1187.63" x2="616.30" y2="1187.63" class="gl"/>
<line x1="458.90" y1="1198.57" x2="616.30" y2="1198.57" class="gl"/>
<line x1="458.90" y1="1209.52" x2="616.30" y2="1209.52" class="gl"/>
<line x1="458.90" y1="1220.46" x2="616.30" y2="1220.46" class="gl"/>
<line x1="471.01" y1="684.30" x2="471.01" y2="1231.40" class="gl"/>
<line x1="483.12" y1="684.30" x2="483.12" y2="1231.40" class="gl"/>
<line x1="495.22" y1="684.30" x2="495.22" y2="1231.40" class="gl"/>
<line x1="507.33" y1="684.30" x2="507.33" y2="1231.40" class="gl"/>
<line x1="519.44" y1="684.30" x2="519.44" y2="1231.40" class="gl"/>
<line x1="531.55" y1="684.30" x2="531.55" y2="1231.40" class="gl"/>
<line x1="543.65" y1="684.30" x2="543.65" y2="1231.40" class="gl"/>
<line x1="555.76" y1="684.30" x2="555.76" y2="1231.40" class="gl"/>
<line x1="567.87" y1="684.30" x2="567.87" y2="1231.40" class="gl"/>
<line x1="579.98" y1="684.30" x2="579.98" y2="1231.40" class="gl"/>
<line x1="592.08" y1="684.30" x2="592.08" y2="1231.40" class="gl"/>
<line x1="604.19" y1="684.30" x2="604.19" y2="1231.40" class="gl"/>
<rect x="459.20" y="684.60" width="156.80" height="546.50" class="gb"/>
<text class="cl" transform="translate(461.05,1235.10) rotate(90)">MPIAM5_5_S</text>
<text class="cl" transform="translate(473.16,1235.10) rotate(90)">MPIAM5_6_S</text>
<text class="cl" transform="translate(485.27,1235.10) rotate(90)">MPIAM7_2_S</text>
<text class="cl" transform="translate(497.38,1235.10) rotate(90)">MPIAM7_3_S</text>
<text class="cl" transform="translate(509.48,1235.10) rotate(90)">MPIAM7_4_S</text>
<text class="cl" transform="translate(521.59,1235.10) rotate(90)">MPIAM7_5_S</text>
<text class="cl" transform="translate(533.70,1235.10) rotate(90)">MPIAM7_6_S</text>
<text class="cl" transform="translate(545.81,1235.10) rotate(90)">MPIAM7_7_S</text>
<text class="cl" transform="translate(557.92,1235.10) rotate(90)">MPIBM5_1_S</text>
<text class="cl" transform="translate(570.02,1235.10) rotate(90)">MPIBM6_1_S</text>
<text class="cl" transform="translate(582.13,1235.10) rotate(90)">MPICW1_1_S</text>
<text class="cl" transform="translate(594.24,1235.10) rotate(90)">MPICW1_2_S</text>
<text class="cl" transform="translate(606.35,1235.10) rotate(90)">MPSBM2_1_S</text>
<rect x="54.30" y="659.10" width="181.40" height="21.70" fill="#b6c5b2"/>
<text class="hd it" x="145.00" y="674.35" text-anchor="middle">P. aeruginosa</text>
<rect x="256.90" y="659.10" width="181.60" height="21.70" fill="#b6c5b2"/>
<text class="hd it" x="347.70" y="674.35" text-anchor="middle">S. aureus</text>
<rect x="458.90" y="659.10" width="157.40" height="21.70" fill="#b6c5b2"/>
<text class="hd it" x="537.60" y="674.35" text-anchor="middle">P. aeruginosa, S. aureus</text>
<text class="rl" x="620.80" y="694.07">Staphylococcus aureus</text>
<text class="rl" x="620.80" y="705.01">Pseudomonas aeruginosa</text>
<text class="rl" x="620.80" y="715.95">Rothia mucilaginosa</text>
<text class="rl" x="620.80" y="726.90">Prevotella melaninogenica</text>
<text class="rl" x="620.80" y="737.84">Streptococcus parasanguinis</text>
<text class="rl" x="620.80" y="748.78">Rothia dentocariosa</text>
<text class="rl" x="620.80" y="759.72">Streptococcus constellatus</text>
<text class="rl" x="620.80" y="770.66">Streptococcus salivarius</text>
<text class="rl" x="620.80" y="781.61">Parvimonas micra</text>
<text class="rl" x="620.80" y="792.55">Veillonella atypica</text>
<text class="rl" x="620.80" y="803.49">Veillonella parvula</text>
<text class="rl" x="620.80" y="814.43">Gemella sanguinis</text>
<text class="rl" x="620.80" y="825.38">Staphylococcus argenteus</text>
<text class="rl" x="620.80" y="836.32">Streptococcus oralis</text>
<text class="rl" x="620.80" y="847.26">Veillonella dispar</text>
<text class="rl" x="620.80" y="858.20">Streptococcus intermedius</text>
<text class="rl" x="620.80" y="869.14">Prevotella jejuni</text>
<text class="rl" x="620.80" y="880.08">Schaalia odontolytica</text>
<text class="rl" x="620.80" y="891.03">Streptococcus equinus</text>
<text class="rl" x="620.80" y="901.97">Streptococcus sanguinis</text>
<text class="rl" x="620.80" y="912.91">Streptococcus anginosus</text>
<text class="rl" x="620.80" y="923.85">Neisseria subflava</text>
<text class="rl" x="620.80" y="934.79">Streptococcus mitis</text>
<text class="rl" x="620.80" y="945.74">Haemophilus parainfluenzae</text>
<text class="rl" x="620.80" y="956.68">Bifidobacterium longum</text>
<text class="rl" x="620.80" y="967.62">Gemella haemolysans</text>
<text class="rl" x="620.80" y="978.56">Fusobacterium nucleatum</text>
<text class="rl" x="620.80" y="989.50">Tannerella forsythia</text>
<text class="rl" x="620.80" y="1000.45">Escherichia coli</text>
<text class="rl" x="620.80" y="1011.39">Streptococcus gordonii</text>
<text class="rl" x="620.80" y="1022.33">Eubacterium sulci</text>
<text class="rl" x="620.80" y="1033.27">Prevotella denticola</text>
<text class="rl" x="620.80" y="1044.21">Fusobacterium periodonticum</text>
<text class="rl" x="620.80" y="1055.16">Abiotrophia defectiva</text>
<text class="rl" x="620.80" y="1066.10">Streptococcus pseudopneumoniae</text>
<text class="rl" x="620.80" y="1077.04">Rothia aeria</text>
<text class="rl" x="620.80" y="1087.98">Atopobium parvulum</text>
<text class="rl" x="620.80" y="1098.92">Prevotella enoeca</text>
<text class="rl" x="620.80" y="1109.87">Gemella morbillorum</text>
<text class="rl" x="620.80" y="1120.81">Streptococcus pneumoniae</text>
<text class="rl" x="620.80" y="1131.75">Aspergillus fumigatus</text>
<text class="rl" x="620.80" y="1142.69">Bifidobacterium dentium</text>
<text class="rl" x="620.80" y="1153.63">Fusobacterium hwasookii</text>
<text class="rl" x="620.80" y="1164.58">Capnocytophaga leadbetteri</text>
<text class="rl" x="620.80" y="1175.52">Capnocytophaga gingivalis</text>
<text class="rl" x="620.80" y="1186.46">Propionibacterium acidifaciens</text>
<text class="rl" x="620.80" y="1197.40">Streptococcus thermophilus</text>
<text class="rl" x="620.80" y="1208.35">Prevotella fusca</text>
<text class="rl" x="620.80" y="1219.29">Neisseria mucosa</text>
<text class="rl" x="620.80" y="1230.23">Leptotrichia buccalis</text>
<rect x="4.1" y="169.6" width="10.700000000000001" height="166.4" fill="url(#cb)"/>
<text class="cb" x="19.6" y="196.30">5</text>
<text class="cb" x="19.6" y="229.10">4</text>
<text class="cb" x="19.6" y="261.70">3</text>
<text class="cb" x="19.6" y="295.20">2</text>
<text class="cb" x="19.6" y="327.20">1</text>
<rect x="4.2" y="826.5" width="10.7" height="166.10000000000002" fill="url(#cb)"/>
<text class="cb" x="19.6" y="849.40">5</text>
<text class="cb" x="19.6" y="884.30">4</text>
<text class="cb" x="19.6" y="918.40">3</text>
<text class="cb" x="19.6" y="953.00">2</text>
<text class="cb" x="19.6" y="987.30">1</text>
<text class="pl" x="0.8" y="15.8" style="font-size:21.8px">A</text>
<text class="pl" transform="translate(0.1,674.7) scale(0.86,1)" style="font-size:23.5px">B</text>
</svg></body></html>
